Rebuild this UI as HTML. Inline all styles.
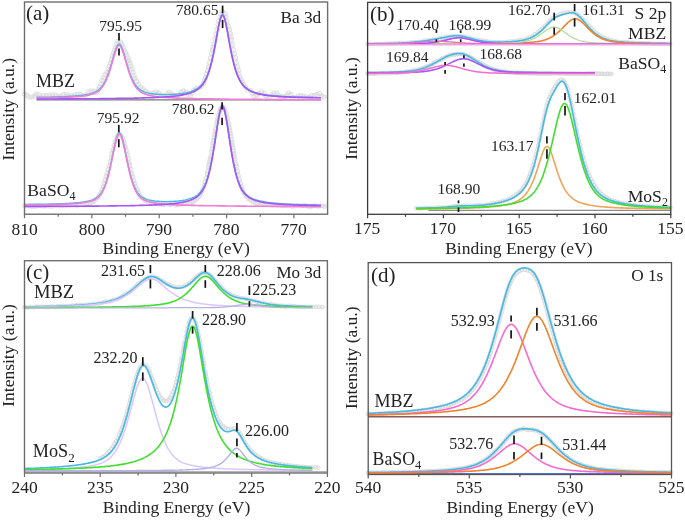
<!DOCTYPE html>
<html><head><meta charset="utf-8"><style>
html,body{margin:0;padding:0;background:#fff;width:685px;height:520px;overflow:hidden}
svg{display:block}
text{font-family:"Liberation Serif", serif}
</style></head><body>
<svg width="685" height="520" viewBox="0 0 685 520">
<defs><filter id="tf" x="-2%" y="-2%" width="104%" height="104%"><feGaussianBlur stdDeviation="0.25"/></filter></defs>
<rect width="685" height="520" fill="#fff"/>
<g fill="none" stroke-linejoin="round">
<path d="M24.5,93.9L25.0,94.2L25.5,94.5L26.0,94.6L26.5,95.0L27.0,95.3L27.5,95.7L28.0,96.7L28.5,97.0L29.0,97.1L29.5,97.6L30.0,97.5L30.5,97.8L31.0,97.8L31.5,97.7L32.0,97.1L32.5,97.0L33.0,96.8L33.5,96.5L34.0,96.3L34.5,96.2L35.0,95.0L35.5,94.2L36.0,94.0L36.5,93.6L37.0,93.6L37.5,93.1L38.0,93.5L38.5,94.1L39.0,94.8L39.5,95.8L40.0,96.4L40.5,96.8L41.0,96.9L41.5,96.0L42.0,96.7L42.5,97.1L43.0,96.1L43.5,95.8L44.0,95.6L44.5,95.5L45.0,95.9L45.5,95.8L46.0,95.6L46.5,95.6L47.0,95.8L47.5,95.9L48.0,96.1L48.5,95.7L49.0,95.7L49.5,95.4L50.0,95.8L50.5,95.2L51.0,95.2L51.5,95.1L52.0,95.0L52.5,94.8L53.0,95.1L53.5,95.0L54.0,95.2L54.5,94.6L55.0,94.8L55.5,95.2L56.0,95.4L56.5,95.7L57.0,95.1L57.5,95.5L58.0,96.3L58.5,96.1L59.0,95.9L59.5,96.0L60.0,95.7L60.5,96.4L61.0,96.1L61.5,95.1L62.0,95.1L62.5,95.1L63.0,95.0L63.5,94.9L64.0,94.0L64.5,93.7L65.0,94.5L65.5,94.8L66.0,94.8L66.5,94.6L67.0,94.8L67.5,95.6L68.0,96.4L68.5,96.3L69.0,96.2L69.5,96.4L70.0,96.8L70.5,96.0L71.0,95.8L71.5,95.5L72.0,94.9L72.5,94.9L73.0,94.6L73.5,94.4L74.0,94.9L74.5,94.9L75.0,95.1L75.5,95.5L76.0,94.9L76.5,94.4L77.0,94.6L77.5,94.5L78.0,94.0L78.5,93.7L79.0,93.6L79.5,94.3L80.0,95.0L80.5,94.7L81.0,94.8L81.5,95.4L82.0,95.3L82.5,95.8L83.0,96.2L83.5,95.8L84.0,95.0L84.5,95.4L85.0,95.9L85.5,95.7L86.0,94.7L86.5,94.0L87.0,93.8L87.5,94.0L88.0,93.1L88.5,92.0L89.0,91.7L89.5,91.8L90.0,91.2L90.5,91.0L91.0,90.9L91.5,90.6L92.0,90.5L92.5,90.3L93.0,90.0L93.5,90.8L94.0,91.3L94.5,91.6L95.0,92.2L95.5,92.1L96.0,92.4L96.5,92.7L97.0,92.0L97.5,91.2L98.0,90.9L98.5,89.8L99.0,88.6L99.5,87.4L100.0,85.9L100.5,85.1L101.0,83.8L101.5,82.3L102.0,80.5L102.5,79.6L103.0,78.9L103.5,77.8L104.0,76.0L104.5,75.4L105.0,74.6L105.5,74.7L106.0,74.5L106.5,73.4L107.0,72.4L107.5,71.7L108.0,70.7L108.5,69.4L109.0,68.1L109.5,66.2L110.0,64.2L110.5,63.1L111.0,61.4L111.5,59.3L112.0,57.7L112.5,56.3L113.0,54.5L113.5,53.3L114.0,50.9L114.5,50.3L115.0,49.4L115.5,47.4L116.0,45.4L116.5,44.2L117.0,42.8L117.5,42.5L118.0,41.0L118.5,41.0L119.0,41.7L119.5,41.2L120.0,41.6L120.5,42.1L121.0,43.1L121.5,44.0L122.0,44.6L122.5,44.8L123.0,47.3L123.5,48.9L124.0,50.1L124.5,50.9L125.0,51.7L125.5,52.6L126.0,53.7L126.5,54.9L127.0,55.1L127.5,56.6L128.0,58.0L128.5,59.3L129.0,60.7L129.5,62.4L130.0,63.2L130.5,64.6L131.0,66.1L131.5,67.5L132.0,69.1L132.5,70.7L133.0,72.3L133.5,74.1L134.0,75.8L134.5,77.2L135.0,78.3L135.5,79.5L136.0,80.1L136.5,81.4L137.0,81.7L137.5,82.4L138.0,83.4L138.5,84.5L139.0,85.1L139.5,85.5L140.0,86.0L140.5,87.0L141.0,87.2L141.5,87.8L142.0,87.8L142.5,88.0L143.0,89.1L143.5,89.3L144.0,89.6L144.5,89.9L145.0,90.6L145.5,91.0L146.0,91.2L146.5,91.7L147.0,92.0L147.5,92.3L148.0,93.0L148.5,92.6L149.0,93.1L149.5,93.6L150.0,93.8L150.5,93.8L151.0,93.5L151.5,93.7L152.0,93.8L152.5,93.6L153.0,93.5L153.5,93.4L154.0,92.8L154.5,92.7L155.0,92.5L155.5,91.8L156.0,91.9L156.5,92.1L157.0,92.2L157.5,92.6L158.0,92.8L158.5,93.1L159.0,92.9L159.5,94.2L160.0,94.3L160.5,94.0L161.0,94.9L161.5,95.3L162.0,94.8L162.5,96.0L163.0,95.4L163.5,95.5L164.0,95.6L164.5,95.4L165.0,94.9L165.5,95.4L166.0,94.9L166.5,94.1L167.0,93.4L167.5,93.1L168.0,92.3L168.5,92.6L169.0,92.3L169.5,92.4L170.0,92.6L170.5,93.2L171.0,93.2L171.5,93.9L172.0,94.5L172.5,94.7L173.0,94.7L173.5,95.1L174.0,95.3L174.5,95.7L175.0,95.8L175.5,95.4L176.0,96.1L176.5,96.4L177.0,96.5L177.5,96.7L178.0,96.6L178.5,96.6L179.0,96.0L179.5,94.7L180.0,94.1L180.5,93.4L181.0,92.1L181.5,91.8L182.0,90.4L182.5,90.9L183.0,91.0L183.5,90.9L184.0,90.8L184.5,91.4L185.0,91.7L185.5,92.3L186.0,92.0L186.5,92.4L187.0,92.9L187.5,93.9L188.0,94.7L188.5,95.0L189.0,95.6L189.5,95.5L190.0,95.6L190.5,95.5L191.0,95.0L191.5,94.6L192.0,93.3L192.5,92.6L193.0,92.1L193.5,91.4L194.0,90.4L194.5,89.5L195.0,88.5L195.5,89.0L196.0,88.6L196.5,88.4L197.0,87.9L197.5,88.4L198.0,88.5L198.5,87.8L199.0,87.7L199.5,87.7L200.0,88.0L200.5,87.8L201.0,87.4L201.5,86.5L202.0,86.6L202.5,85.3L203.0,84.4L203.5,83.4L204.0,82.0L204.5,80.3L205.0,79.1L205.5,77.7L206.0,76.4L206.5,74.0L207.0,72.0L207.5,70.6L208.0,69.4L208.5,66.9L209.0,64.4L209.5,62.6L210.0,60.6L210.5,58.0L211.0,55.9L211.5,53.4L212.0,51.6L212.5,49.8L213.0,47.2L213.5,45.9L214.0,44.0L214.5,41.8L215.0,38.8L215.5,36.6L216.0,34.0L216.5,32.0L217.0,29.3L217.5,26.8L218.0,24.6L218.5,23.0L219.0,21.1L219.5,19.3L220.0,17.3L220.5,15.1L221.0,14.3L221.5,13.2L222.0,12.0L222.5,11.9L223.0,11.4L223.5,11.4L224.0,12.2L224.5,13.4L225.0,13.7L225.5,15.3L226.0,16.7L226.5,18.9L227.0,21.1L227.5,22.8L228.0,23.4L228.5,26.3L229.0,27.9L229.5,29.7L230.0,31.5L230.5,33.8L231.0,36.7L231.5,39.6L232.0,42.0L232.5,44.7L233.0,47.1L233.5,49.7L234.0,51.6L234.5,53.7L235.0,56.2L235.5,57.9L236.0,60.4L236.5,62.3L237.0,64.5L237.5,66.7L238.0,69.0L238.5,70.7L239.0,73.3L239.5,74.9L240.0,76.8L240.5,78.1L241.0,79.7L241.5,80.7L242.0,81.8L242.5,82.0L243.0,82.8L243.5,83.5L244.0,84.8L244.5,85.7L245.0,86.5L245.5,87.4L246.0,88.0L246.5,88.4L247.0,89.2L247.5,89.8L248.0,89.9L248.5,89.8L249.0,90.0L249.5,90.3L250.0,90.5L250.5,90.6L251.0,90.5L251.5,91.4L252.0,92.2L252.5,93.3L253.0,94.6L253.5,95.5L254.0,96.6L254.5,97.2L255.0,96.8L255.5,97.1L256.0,96.7L256.5,96.1L257.0,95.8L257.5,95.1L258.0,94.7L258.5,94.1L259.0,93.6L259.5,92.7L260.0,92.5L260.5,92.4L261.0,92.1L261.5,91.9L262.0,92.3L262.5,92.2L263.0,92.8L263.5,93.2L264.0,93.7L264.5,94.3L265.0,95.5L265.5,95.9L266.0,97.0L266.5,98.0L267.0,98.3L267.5,98.0L268.0,97.8L268.5,97.1L269.0,97.6L269.5,97.2L270.0,96.7L270.5,96.3L271.0,96.3L271.5,95.6L272.0,95.1L272.5,94.3L273.0,93.3L273.5,93.6L274.0,93.0L274.5,92.2L275.0,92.5L275.5,92.8L276.0,92.6L276.5,93.5L277.0,93.3L277.5,94.2L278.0,94.6L278.5,95.2L279.0,95.8L279.5,96.1L280.0,96.0L280.5,96.0L281.0,96.4L281.5,97.0L282.0,97.5L282.5,96.5L283.0,97.1L283.5,97.4L284.0,96.6L284.5,96.6L285.0,97.0L285.5,96.1L286.0,96.2L286.5,96.1L287.0,95.3L287.5,95.0L288.0,94.0L288.5,93.0L289.0,93.2L289.5,93.5L290.0,93.3L290.5,93.6L291.0,94.6L291.5,95.9L292.0,96.8L292.5,97.5L293.0,97.5L293.5,97.9L294.0,98.1L294.5,98.2L295.0,97.6L295.5,97.5L296.0,97.3L296.5,96.8L297.0,96.4L297.5,97.0L298.0,96.3L298.5,96.0L299.0,95.2L299.5,94.4L300.0,95.0L300.5,95.4L301.0,95.2L301.5,95.6L302.0,95.8L302.5,96.2L303.0,96.5L303.5,96.6L304.0,96.6L304.5,96.8L305.0,96.6L305.5,96.8L306.0,96.7L306.5,97.7L307.0,97.5L307.5,96.6L308.0,96.5L308.5,97.3L309.0,97.5L309.5,97.8L310.0,97.2L310.5,96.4L311.0,96.3L311.5,95.6L312.0,94.8L312.5,94.6L313.0,94.4L313.5,94.2L314.0,95.1L314.5,95.5L315.0,95.7L315.5,96.0L316.0,95.6L316.5,94.6L317.0,94.5L317.5,94.3L318.0,93.6L318.5,93.9L319.0,93.7L319.5,93.7L320.0,94.3L320.5,94.6L321.0,94.5L321.5,96.1L322.0,96.3L322.5,95.8L323.0,95.9L323.5,96.5L324.0,97.1L324.5,97.0L325.0,96.3L325.5,95.9" stroke="#efefef" stroke-width="2.5" stroke-linecap="round"/>
<g stroke="#d6d6d6" stroke-width="0.8"><circle cx="24.5" cy="93.9" r="2.2"/><circle cx="27.0" cy="95.3" r="2.2"/><circle cx="29.0" cy="97.1" r="2.2"/><circle cx="32.0" cy="97.1" r="2.2"/><circle cx="34.5" cy="96.2" r="2.2"/><circle cx="36.0" cy="94.0" r="2.2"/><circle cx="39.0" cy="94.8" r="2.2"/><circle cx="41.0" cy="96.9" r="2.2"/><circle cx="43.5" cy="95.8" r="2.2"/><circle cx="46.5" cy="95.6" r="2.2"/><circle cx="49.5" cy="95.4" r="2.2"/><circle cx="52.5" cy="94.8" r="2.2"/><circle cx="55.5" cy="95.2" r="2.2"/><circle cx="58.0" cy="96.3" r="2.2"/><circle cx="61.0" cy="96.1" r="2.2"/><circle cx="63.5" cy="94.9" r="2.2"/><circle cx="66.5" cy="94.6" r="2.2"/><circle cx="68.5" cy="96.3" r="2.2"/><circle cx="71.5" cy="95.5" r="2.2"/><circle cx="74.5" cy="94.9" r="2.2"/><circle cx="77.5" cy="94.5" r="2.2"/><circle cx="80.5" cy="94.7" r="2.2"/><circle cx="83.0" cy="96.2" r="2.2"/><circle cx="86.0" cy="94.7" r="2.2"/><circle cx="88.5" cy="92.0" r="2.2"/><circle cx="91.0" cy="90.9" r="2.2"/><circle cx="94.0" cy="91.3" r="2.2"/><circle cx="96.5" cy="92.7" r="2.2"/><circle cx="98.5" cy="89.8" r="2.2"/><circle cx="99.5" cy="87.4" r="2.2"/><circle cx="101.0" cy="83.8" r="2.2"/><circle cx="102.0" cy="80.5" r="2.2"/><circle cx="103.5" cy="77.8" r="2.2"/><circle cx="105.0" cy="74.6" r="2.2"/><circle cx="107.0" cy="72.4" r="2.2"/><circle cx="108.5" cy="69.4" r="2.2"/><circle cx="109.5" cy="66.2" r="2.2"/><circle cx="110.5" cy="63.1" r="2.2"/><circle cx="111.5" cy="59.3" r="2.2"/><circle cx="112.5" cy="56.3" r="2.2"/><circle cx="113.5" cy="53.3" r="2.2"/><circle cx="114.5" cy="50.3" r="2.2"/><circle cx="115.5" cy="47.4" r="2.2"/><circle cx="116.5" cy="44.2" r="2.2"/><circle cx="118.0" cy="41.0" r="2.2"/><circle cx="120.5" cy="42.1" r="2.2"/><circle cx="122.0" cy="44.6" r="2.2"/><circle cx="123.0" cy="47.3" r="2.2"/><circle cx="124.0" cy="50.1" r="2.2"/><circle cx="125.5" cy="52.6" r="2.2"/><circle cx="127.0" cy="55.1" r="2.2"/><circle cx="128.0" cy="58.0" r="2.2"/><circle cx="129.0" cy="60.7" r="2.2"/><circle cx="130.0" cy="63.2" r="2.2"/><circle cx="131.0" cy="66.1" r="2.2"/><circle cx="132.0" cy="69.1" r="2.2"/><circle cx="133.0" cy="72.3" r="2.2"/><circle cx="134.0" cy="75.8" r="2.2"/><circle cx="135.0" cy="78.3" r="2.2"/><circle cx="136.5" cy="81.4" r="2.2"/><circle cx="138.5" cy="84.5" r="2.2"/><circle cx="140.5" cy="87.0" r="2.2"/><circle cx="143.0" cy="89.1" r="2.2"/><circle cx="145.5" cy="91.0" r="2.2"/><circle cx="148.0" cy="93.0" r="2.2"/><circle cx="150.5" cy="93.8" r="2.2"/><circle cx="153.5" cy="93.4" r="2.2"/><circle cx="156.0" cy="91.9" r="2.2"/><circle cx="158.5" cy="93.1" r="2.2"/><circle cx="161.0" cy="94.9" r="2.2"/><circle cx="164.0" cy="95.6" r="2.2"/><circle cx="166.5" cy="94.1" r="2.2"/><circle cx="169.0" cy="92.3" r="2.2"/><circle cx="171.5" cy="93.9" r="2.2"/><circle cx="174.0" cy="95.3" r="2.2"/><circle cx="176.5" cy="96.4" r="2.2"/><circle cx="179.5" cy="94.7" r="2.2"/><circle cx="181.0" cy="92.1" r="2.2"/><circle cx="183.5" cy="90.9" r="2.2"/><circle cx="186.0" cy="92.0" r="2.2"/><circle cx="188.0" cy="94.7" r="2.2"/><circle cx="190.5" cy="95.5" r="2.2"/><circle cx="192.0" cy="93.3" r="2.2"/><circle cx="194.0" cy="90.4" r="2.2"/><circle cx="196.0" cy="88.6" r="2.2"/><circle cx="198.5" cy="87.8" r="2.2"/><circle cx="201.5" cy="86.5" r="2.2"/><circle cx="203.5" cy="83.4" r="2.2"/><circle cx="204.5" cy="80.3" r="2.2"/><circle cx="205.5" cy="77.7" r="2.2"/><circle cx="206.5" cy="74.0" r="2.2"/><circle cx="207.5" cy="70.6" r="2.2"/><circle cx="208.5" cy="66.9" r="2.2"/><circle cx="209.5" cy="62.6" r="2.2"/><circle cx="210.5" cy="58.0" r="2.2"/><circle cx="211.5" cy="53.4" r="2.2"/><circle cx="212.5" cy="49.8" r="2.2"/><circle cx="213.0" cy="47.2" r="2.2"/><circle cx="214.0" cy="44.0" r="2.2"/><circle cx="215.0" cy="38.8" r="2.2"/><circle cx="216.0" cy="34.0" r="2.2"/><circle cx="217.0" cy="29.3" r="2.2"/><circle cx="218.0" cy="24.6" r="2.2"/><circle cx="219.0" cy="21.1" r="2.2"/><circle cx="220.0" cy="17.3" r="2.2"/><circle cx="221.0" cy="14.3" r="2.2"/><circle cx="222.5" cy="11.9" r="2.2"/><circle cx="225.0" cy="13.7" r="2.2"/><circle cx="226.0" cy="16.7" r="2.2"/><circle cx="227.0" cy="21.1" r="2.2"/><circle cx="228.5" cy="26.3" r="2.2"/><circle cx="229.5" cy="29.7" r="2.2"/><circle cx="230.5" cy="33.8" r="2.2"/><circle cx="231.0" cy="36.7" r="2.2"/><circle cx="231.5" cy="39.6" r="2.2"/><circle cx="232.5" cy="44.7" r="2.2"/><circle cx="233.5" cy="49.7" r="2.2"/><circle cx="234.5" cy="53.7" r="2.2"/><circle cx="235.5" cy="57.9" r="2.2"/><circle cx="236.5" cy="62.3" r="2.2"/><circle cx="237.5" cy="66.7" r="2.2"/><circle cx="238.5" cy="70.7" r="2.2"/><circle cx="239.0" cy="73.3" r="2.2"/><circle cx="240.0" cy="76.8" r="2.2"/><circle cx="241.0" cy="79.7" r="2.2"/><circle cx="242.5" cy="82.0" r="2.2"/><circle cx="244.0" cy="84.8" r="2.2"/><circle cx="245.5" cy="87.4" r="2.2"/><circle cx="247.5" cy="89.8" r="2.2"/><circle cx="250.5" cy="90.6" r="2.2"/><circle cx="252.5" cy="93.3" r="2.2"/><circle cx="254.0" cy="96.6" r="2.2"/><circle cx="257.0" cy="95.8" r="2.2"/><circle cx="259.0" cy="93.6" r="2.2"/><circle cx="261.5" cy="91.9" r="2.2"/><circle cx="264.0" cy="93.7" r="2.2"/><circle cx="265.5" cy="95.9" r="2.2"/><circle cx="267.0" cy="98.3" r="2.2"/><circle cx="269.5" cy="97.2" r="2.2"/><circle cx="272.0" cy="95.1" r="2.2"/><circle cx="274.0" cy="93.0" r="2.2"/><circle cx="277.0" cy="93.3" r="2.2"/><circle cx="279.0" cy="95.8" r="2.2"/><circle cx="281.5" cy="97.0" r="2.2"/><circle cx="284.5" cy="96.6" r="2.2"/><circle cx="287.0" cy="95.3" r="2.2"/><circle cx="288.5" cy="93.0" r="2.2"/><circle cx="291.0" cy="94.6" r="2.2"/><circle cx="292.5" cy="97.5" r="2.2"/><circle cx="295.5" cy="97.5" r="2.2"/><circle cx="298.0" cy="96.3" r="2.2"/><circle cx="300.5" cy="95.4" r="2.2"/><circle cx="303.0" cy="96.5" r="2.2"/><circle cx="306.0" cy="96.7" r="2.2"/><circle cx="309.0" cy="97.5" r="2.2"/><circle cx="311.5" cy="95.6" r="2.2"/><circle cx="314.5" cy="95.5" r="2.2"/><circle cx="317.0" cy="94.5" r="2.2"/><circle cx="319.5" cy="93.7" r="2.2"/><circle cx="321.5" cy="96.1" r="2.2"/><circle cx="324.0" cy="97.1" r="2.2"/></g>
<line x1="36.6" y1="99.9" x2="320.9" y2="99.9" stroke="#555" stroke-width="1.0" />
<path d="M36.6,97.3L37.6,97.3L38.6,97.3L39.6,97.3L40.6,97.2L41.6,97.2L42.6,97.2L43.6,97.2L44.6,97.2L45.6,97.2L46.6,97.1L47.6,97.1L48.6,97.1L49.6,97.1L50.6,97.1L51.6,97.0L52.6,97.0L53.6,97.0L54.6,97.0L55.6,96.9L56.6,96.9L57.6,96.9L58.6,96.8L59.6,96.8L60.6,96.8L61.6,96.7L62.6,96.7L63.6,96.6L64.6,96.6L65.6,96.6L66.6,96.5L67.6,96.5L68.6,96.4L69.6,96.3L70.6,96.3L71.6,96.2L72.6,96.2L73.6,96.1L74.6,96.0L75.6,95.9L76.6,95.8L77.6,95.8L78.6,95.7L79.6,95.6L80.6,95.4L81.6,95.3L82.6,95.2L83.6,95.1L84.6,94.9L85.6,94.7L86.6,94.6L87.6,94.4L88.6,94.2L89.6,93.9L90.6,93.7L91.6,93.4L92.6,93.0L93.6,92.7L94.6,92.2L95.6,91.8L96.6,91.2L97.6,90.6L98.6,89.8L99.6,89.0L100.6,88.0L101.6,86.8L102.6,85.5L103.6,84.0L104.6,82.2L105.6,80.2L106.6,78.0L107.6,75.5L108.6,72.8L109.6,69.8L110.6,66.5L111.6,63.1L112.6,59.6L113.6,56.1L114.6,52.7L115.6,49.6L116.6,47.0L117.6,45.1L118.6,44.1L119.6,44.1L120.6,45.1L121.6,46.9L122.6,49.5L123.6,52.5L124.6,55.9L125.6,59.4L126.6,62.9L127.6,66.3L128.6,69.5L129.6,72.5L130.6,75.2L131.6,77.7L132.6,79.9L133.6,81.9L134.6,83.6L135.6,85.1L136.6,86.4L137.6,87.5L138.6,88.5L139.6,89.3L140.6,90.1L141.6,90.7L142.6,91.2L143.6,91.7L144.6,92.1L145.6,92.4L146.6,92.7L147.6,92.9L148.6,93.2L149.6,93.4L150.6,93.6L151.6,93.7L152.6,93.8L153.6,94.0L154.6,94.1L155.6,94.2L156.6,94.3L157.6,94.3L158.6,94.4L159.6,94.5L160.6,94.5L161.6,94.5L162.6,94.6L163.6,94.6L164.6,94.6L165.6,94.6L166.6,94.6L167.6,94.6L168.6,94.6L169.6,94.5L170.6,94.5L171.6,94.5L172.6,94.4L173.6,94.4L174.6,94.3L175.6,94.2L176.6,94.1L177.6,94.0L178.6,93.9L179.6,93.8L180.6,93.7L181.6,93.6L182.6,93.4L183.6,93.3L184.6,93.1L185.6,92.9L186.6,92.7L187.6,92.4L188.6,92.2L189.6,91.9L190.6,91.6L191.6,91.2L192.6,90.9L193.6,90.5L194.6,90.0L195.6,89.5L196.6,88.9L197.6,88.3L198.6,87.6L199.6,86.8L200.6,85.8L201.6,84.8L202.6,83.6L203.6,82.2L204.6,80.7L205.6,78.9L206.6,76.8L207.6,74.5L208.6,71.8L209.6,68.8L210.6,65.4L211.6,61.6L212.6,57.3L213.6,52.6L214.6,47.6L215.6,42.2L216.6,36.6L217.6,31.0L218.6,25.7L219.6,21.1L220.6,17.4L221.6,15.1L222.6,14.4L223.6,15.5L224.6,18.1L225.6,22.0L226.6,26.8L227.6,32.2L228.6,37.8L229.6,43.4L230.6,48.7L231.6,53.7L232.6,58.3L233.6,62.5L234.6,66.3L235.6,69.6L236.6,72.6L237.6,75.2L238.6,77.5L239.6,79.5L240.6,81.3L241.6,82.8L242.6,84.2L243.6,85.4L244.6,86.4L245.6,87.3L246.6,88.1L247.6,88.9L248.6,89.5L249.6,90.1L250.6,90.6L251.6,91.1L252.6,91.5L253.6,91.9L254.6,92.2L255.6,92.6L256.6,92.9L257.6,93.1L258.6,93.4L259.6,93.6L260.6,93.9L261.6,94.1L262.6,94.3L263.6,94.4L264.6,94.6L265.6,94.8L266.6,94.9L267.6,95.1L268.6,95.2L269.6,95.3L270.6,95.4L271.6,95.5L272.6,95.6L273.6,95.7L274.6,95.8L275.6,95.9L276.6,96.0L277.6,96.1L278.6,96.2L279.6,96.2L280.6,96.3L281.6,96.4L282.6,96.4L283.6,96.5L284.6,96.5L285.6,96.6L286.6,96.6L287.6,96.7L288.6,96.7L289.6,96.8L290.6,96.8L291.6,96.9L292.6,96.9L293.6,97.0L294.6,97.0L295.6,97.0L296.6,97.1L297.6,97.1L298.6,97.1L299.6,97.2L300.6,97.2L301.6,97.2L302.6,97.2L303.6,97.3L304.6,97.3L305.6,97.3L306.6,97.3L307.6,97.4L308.6,97.4L309.6,97.4L310.6,97.4L311.6,97.5L312.6,97.5L313.6,97.5L314.6,97.5L315.6,97.5L316.6,97.6L317.6,97.6L318.6,97.6L319.6,97.6L320.6,97.6L320.9,97.6" stroke="#47b9e6" stroke-width="1.4"/>
<path d="M36.6,97.8L37.6,97.8L38.6,97.8L39.6,97.8L40.6,97.8L41.6,97.8L42.6,97.8L43.6,97.8L44.6,97.8L45.6,97.8L46.6,97.7L47.6,97.7L48.6,97.7L49.6,97.7L50.6,97.7L51.6,97.7L52.6,97.7L53.6,97.6L54.6,97.6L55.6,97.6L56.6,97.6L57.6,97.5L58.6,97.5L59.6,97.5L60.6,97.5L61.6,97.4L62.6,97.4L63.6,97.4L64.6,97.3L65.6,97.3L66.6,97.3L67.6,97.2L68.6,97.2L69.6,97.1L70.6,97.1L71.6,97.0L72.6,97.0L73.6,96.9L74.6,96.8L75.6,96.8L76.6,96.7L77.6,96.6L78.6,96.5L79.6,96.4L80.6,96.3L81.6,96.2L82.6,96.1L83.6,95.9L84.6,95.8L85.6,95.6L86.6,95.5L87.6,95.3L88.6,95.1L89.6,94.9L90.6,94.6L91.6,94.3L92.6,94.0L93.6,93.7L94.6,93.2L95.6,92.8L96.6,92.2L97.6,91.6L98.6,90.9L99.6,90.0L100.6,89.0L101.6,87.9L102.6,86.6L103.6,85.1L104.6,83.3L105.6,81.4L106.6,79.1L107.6,76.7L108.6,73.9L109.6,70.9L110.6,67.7L111.6,64.3L112.6,60.8L113.6,57.3L114.6,53.9L115.6,50.9L116.6,48.3L117.6,46.4L118.6,45.5L119.6,45.5L120.6,46.4L121.6,48.3L122.6,50.8L123.6,53.9L124.6,57.3L125.6,60.8L126.6,64.3L127.6,67.7L128.6,71.0L129.6,74.0L130.6,76.7L131.6,79.2L132.6,81.5L133.6,83.4L134.6,85.2L135.6,86.7L136.6,88.1L137.6,89.2L138.6,90.2L139.6,91.1L140.6,91.8L141.6,92.5L142.6,93.0L143.6,93.5L144.6,93.9L145.6,94.3L146.6,94.6L147.6,94.9L148.6,95.2L149.6,95.4L150.6,95.6L151.6,95.8L152.6,96.0L153.6,96.2L154.6,96.3L155.6,96.5L156.6,96.6L157.6,96.7L158.6,96.9L159.6,97.0L160.6,97.1L161.6,97.2L162.6,97.2L163.6,97.3L164.6,97.4L165.6,97.5L166.6,97.5L167.6,97.6L168.6,97.7L169.6,97.7L170.6,97.8L171.6,97.8L172.6,97.9L173.6,97.9L174.6,98.0L175.6,98.0L176.6,98.1L177.6,98.1L178.6,98.2L179.6,98.2L180.6,98.2L181.6,98.3L182.6,98.3L183.6,98.3L184.6,98.4L185.6,98.4L186.6,98.4L187.6,98.5L188.6,98.5L189.6,98.5L190.6,98.5L191.6,98.6L192.6,98.6L193.6,98.6L194.6,98.6L195.6,98.6L196.6,98.7L197.6,98.7L198.6,98.7L199.6,98.7L200.6,98.7L201.6,98.8L202.6,98.8L203.6,98.8L204.6,98.8L205.6,98.8L206.6,98.9L207.6,98.9L208.6,98.9L209.6,98.9L210.6,98.9L211.6,98.9L212.6,98.9L213.6,99.0L214.6,99.0L215.6,99.0L216.6,99.0L217.6,99.0L218.6,99.0L219.6,99.0L220.6,99.0L221.6,99.1L222.6,99.1L223.6,99.1L224.6,99.1L225.6,99.1L226.6,99.1L227.6,99.1L228.6,99.1L229.6,99.2L230.6,99.2L231.6,99.2L232.6,99.2L233.6,99.2L234.6,99.2L235.6,99.2L236.6,99.2L237.6,99.2L238.6,99.2L239.6,99.3L240.6,99.3L241.6,99.3L242.6,99.3L243.6,99.3L244.6,99.3L245.6,99.3L246.6,99.3L247.6,99.3L248.6,99.3L249.6,99.3L250.6,99.4L251.6,99.4L252.6,99.4L253.6,99.4L254.6,99.4L255.6,99.4L256.6,99.4L257.6,99.4L258.6,99.4L259.6,99.4L260.6,99.4L261.6,99.5L262.6,99.5L263.6,99.5L264.6,99.5L265.6,99.5L266.6,99.5L267.6,99.5L268.6,99.5L269.6,99.5L270.6,99.5L271.6,99.5L272.6,99.5L273.6,99.5L274.6,99.6L275.6,99.6L276.6,99.6L277.6,99.6L278.6,99.6L279.6,99.6L280.6,99.6L281.6,99.6L282.6,99.6L283.6,99.6L284.6,99.6L285.6,99.6L286.6,99.6L287.6,99.6L288.6,99.7L289.6,99.7L290.6,99.7L291.6,99.7L292.6,99.7L293.6,99.7L294.6,99.7L295.6,99.7L296.6,99.7L297.6,99.7L298.6,99.7L299.6,99.7L300.6,99.7L301.6,99.7L302.6,99.8L303.6,99.8L304.6,99.8L305.6,99.8L306.6,99.8L307.6,99.8L308.6,99.8L309.6,99.8L310.6,99.8L311.6,99.8L312.6,99.8L313.6,99.8L314.6,99.8L315.6,99.8L316.6,99.8L317.6,99.9L318.6,99.9L319.6,99.9L320.6,99.9L320.9,99.9" stroke="#f07ed6" stroke-width="1.6"/>
<path d="M36.6,99.1L37.6,99.1L38.6,99.1L39.6,99.1L40.6,99.1L41.6,99.0L42.6,99.0L43.6,99.0L44.6,99.0L45.6,99.0L46.6,99.0L47.6,99.0L48.6,99.0L49.6,99.0L50.6,99.0L51.6,99.0L52.6,99.0L53.6,99.0L54.6,99.0L55.6,99.0L56.6,99.0L57.6,99.0L58.6,99.0L59.6,98.9L60.6,98.9L61.6,98.9L62.6,98.9L63.6,98.9L64.6,98.9L65.6,98.9L66.6,98.9L67.6,98.9L68.6,98.9L69.6,98.9L70.6,98.9L71.6,98.9L72.6,98.9L73.6,98.9L74.6,98.9L75.6,98.8L76.6,98.8L77.6,98.8L78.6,98.8L79.6,98.8L80.6,98.8L81.6,98.8L82.6,98.8L83.6,98.8L84.6,98.8L85.6,98.8L86.6,98.8L87.6,98.8L88.6,98.7L89.6,98.7L90.6,98.7L91.6,98.7L92.6,98.7L93.6,98.7L94.6,98.7L95.6,98.7L96.6,98.7L97.6,98.7L98.6,98.7L99.6,98.6L100.6,98.6L101.6,98.6L102.6,98.6L103.6,98.6L104.6,98.6L105.6,98.6L106.6,98.6L107.6,98.6L108.6,98.5L109.6,98.5L110.6,98.5L111.6,98.5L112.6,98.5L113.6,98.5L114.6,98.5L115.6,98.5L116.6,98.4L117.6,98.4L118.6,98.4L119.6,98.4L120.6,98.4L121.6,98.4L122.6,98.4L123.6,98.3L124.6,98.3L125.6,98.3L126.6,98.3L127.6,98.3L128.6,98.3L129.6,98.2L130.6,98.2L131.6,98.2L132.6,98.2L133.6,98.2L134.6,98.1L135.6,98.1L136.6,98.1L137.6,98.1L138.6,98.0L139.6,98.0L140.6,98.0L141.6,98.0L142.6,97.9L143.6,97.9L144.6,97.9L145.6,97.8L146.6,97.8L147.6,97.8L148.6,97.7L149.6,97.7L150.6,97.7L151.6,97.6L152.6,97.6L153.6,97.6L154.6,97.5L155.6,97.5L156.6,97.4L157.6,97.4L158.6,97.3L159.6,97.3L160.6,97.2L161.6,97.2L162.6,97.1L163.6,97.0L164.6,97.0L165.6,96.9L166.6,96.8L167.6,96.8L168.6,96.7L169.6,96.6L170.6,96.5L171.6,96.4L172.6,96.3L173.6,96.2L174.6,96.1L175.6,96.0L176.6,95.9L177.6,95.7L178.6,95.6L179.6,95.4L180.6,95.3L181.6,95.1L182.6,94.9L183.6,94.7L184.6,94.5L185.6,94.3L186.6,94.1L187.6,93.8L188.6,93.5L189.6,93.2L190.6,92.9L191.6,92.5L192.6,92.1L193.6,91.7L194.6,91.2L195.6,90.7L196.6,90.1L197.6,89.4L198.6,88.7L199.6,87.9L200.6,86.9L201.6,85.9L202.6,84.7L203.6,83.3L204.6,81.7L205.6,79.9L206.6,77.8L207.6,75.5L208.6,72.8L209.6,69.7L210.6,66.3L211.6,62.5L212.6,58.2L213.6,53.5L214.6,48.5L215.6,43.1L216.6,37.5L217.6,31.9L218.6,26.6L219.6,21.9L220.6,18.2L221.6,15.9L222.6,15.2L223.6,16.2L224.6,18.8L225.6,22.7L226.6,27.6L227.6,32.9L228.6,38.5L229.6,44.1L230.6,49.4L231.6,54.4L232.6,59.0L233.6,63.2L234.6,66.9L235.6,70.3L236.6,73.2L237.6,75.9L238.6,78.1L239.6,80.2L240.6,81.9L241.6,83.4L242.6,84.8L243.6,86.0L244.6,87.0L245.6,87.9L246.6,88.7L247.6,89.4L248.6,90.0L249.6,90.6L250.6,91.1L251.6,91.6L252.6,92.0L253.6,92.4L254.6,92.7L255.6,93.1L256.6,93.4L257.6,93.6L258.6,93.9L259.6,94.1L260.6,94.3L261.6,94.5L262.6,94.7L263.6,94.9L264.6,95.1L265.6,95.2L266.6,95.3L267.6,95.5L268.6,95.6L269.6,95.7L270.6,95.8L271.6,95.9L272.6,96.0L273.6,96.1L274.6,96.2L275.6,96.3L276.6,96.4L277.6,96.4L278.6,96.5L279.6,96.6L280.6,96.6L281.6,96.7L282.6,96.8L283.6,96.8L284.6,96.9L285.6,96.9L286.6,97.0L287.6,97.0L288.6,97.0L289.6,97.1L290.6,97.1L291.6,97.2L292.6,97.2L293.6,97.2L294.6,97.3L295.6,97.3L296.6,97.3L297.6,97.3L298.6,97.4L299.6,97.4L300.6,97.4L301.6,97.4L302.6,97.5L303.6,97.5L304.6,97.5L305.6,97.5L306.6,97.5L307.6,97.6L308.6,97.6L309.6,97.6L310.6,97.6L311.6,97.6L312.6,97.6L313.6,97.7L314.6,97.7L315.6,97.7L316.6,97.7L317.6,97.7L318.6,97.7L319.6,97.7L320.6,97.7L320.9,97.7" stroke="#a854f6" stroke-width="1.6"/>
<path d="M24.5,205.6L25.0,205.8L25.5,205.9L26.0,205.8L26.5,205.8L27.0,206.0L27.5,206.0L28.0,206.5L28.5,206.2L29.0,206.1L29.5,206.1L30.0,206.2L30.5,206.2L31.0,206.4L31.5,206.3L32.0,206.4L32.5,206.3L33.0,206.6L33.5,206.5L34.0,206.5L34.5,206.5L35.0,206.4L35.5,206.4L36.0,206.7L36.5,206.3L37.0,206.0L37.5,205.7L38.0,205.7L38.5,205.8L39.0,205.8L39.5,205.6L40.0,205.8L40.5,206.1L41.0,206.3L41.5,206.3L42.0,206.2L42.5,206.1L43.0,206.1L43.5,206.3L44.0,206.2L44.5,206.1L45.0,206.0L45.5,206.2L46.0,206.3L46.5,206.4L47.0,205.9L47.5,206.1L48.0,206.4L48.5,206.2L49.0,206.1L49.5,206.2L50.0,206.0L50.5,206.3L51.0,206.5L51.5,206.3L52.0,206.5L52.5,206.3L53.0,206.3L53.5,206.2L54.0,206.1L54.5,205.8L55.0,205.8L55.5,205.7L56.0,205.6L56.5,205.2L57.0,205.4L57.5,205.5L58.0,205.7L58.5,205.6L59.0,205.6L59.5,205.9L60.0,206.2L60.5,205.9L61.0,205.7L61.5,205.7L62.0,205.7L62.5,205.9L63.0,205.7L63.5,205.6L64.0,205.9L64.5,205.9L65.0,205.6L65.5,205.5L66.0,205.3L66.5,205.3L67.0,205.6L67.5,205.3L68.0,205.5L68.5,205.5L69.0,205.6L69.5,205.6L70.0,205.5L70.5,205.4L71.0,205.5L71.5,205.2L72.0,205.2L72.5,205.1L73.0,204.9L73.5,204.9L74.0,204.9L74.5,205.0L75.0,205.2L75.5,205.5L76.0,205.6L76.5,205.7L77.0,205.9L77.5,205.6L78.0,205.6L78.5,205.3L79.0,205.0L79.5,204.6L80.0,204.8L80.5,204.5L81.0,204.5L81.5,204.6L82.0,204.8L82.5,204.8L83.0,204.9L83.5,204.8L84.0,204.8L84.5,205.0L85.0,204.9L85.5,204.6L86.0,204.5L86.5,204.4L87.0,204.1L87.5,203.9L88.0,203.7L88.5,203.5L89.0,203.5L89.5,203.2L90.0,203.1L90.5,203.0L91.0,203.1L91.5,202.8L92.0,202.5L92.5,202.0L93.0,201.7L93.5,201.3L94.0,201.1L94.5,200.5L95.0,200.0L95.5,199.6L96.0,199.2L96.5,199.1L97.0,198.6L97.5,198.2L98.0,197.3L98.5,196.9L99.0,195.9L99.5,195.1L100.0,193.9L100.5,192.9L101.0,191.7L101.5,190.7L102.0,189.5L102.5,188.2L103.0,186.7L103.5,185.1L104.0,183.5L104.5,181.6L105.0,179.9L105.5,178.1L106.0,176.3L106.5,174.8L107.0,173.2L107.5,171.4L108.0,169.6L108.5,167.6L109.0,165.7L109.5,163.7L110.0,161.7L110.5,159.6L111.0,157.3L111.5,155.4L112.0,153.1L112.5,151.2L113.0,149.5L113.5,147.2L114.0,145.2L114.5,143.6L115.0,141.9L115.5,140.7L116.0,139.2L116.5,137.7L117.0,136.8L117.5,135.8L118.0,135.0L118.5,134.7L119.0,134.1L119.5,133.8L120.0,134.0L120.5,134.5L121.0,135.4L121.5,135.9L122.0,136.9L122.5,137.8L123.0,139.2L123.5,140.4L124.0,141.8L124.5,143.3L125.0,145.3L125.5,147.0L126.0,148.9L126.5,150.5L127.0,152.5L127.5,154.6L128.0,156.7L128.5,158.6L129.0,160.6L129.5,163.0L130.0,165.3L130.5,167.4L131.0,169.1L131.5,171.2L132.0,173.3L132.5,175.1L133.0,177.1L133.5,178.9L134.0,180.6L134.5,182.1L135.0,183.6L135.5,185.0L136.0,186.6L136.5,187.4L137.0,188.7L137.5,189.9L138.0,191.2L138.5,192.6L139.0,193.8L139.5,194.9L140.0,195.9L140.5,196.7L141.0,197.2L141.5,197.9L142.0,198.0L142.5,198.2L143.0,198.4L143.5,199.0L144.0,199.3L144.5,200.0L145.0,200.5L145.5,200.8L146.0,201.1L146.5,201.4L147.0,201.6L147.5,201.9L148.0,202.1L148.5,202.3L149.0,202.4L149.5,202.7L150.0,203.0L150.5,203.0L151.0,203.3L151.5,203.5L152.0,203.5L152.5,203.6L153.0,203.7L153.5,203.7L154.0,204.0L154.5,203.6L155.0,203.4L155.5,203.4L156.0,203.5L156.5,203.3L157.0,203.3L157.5,203.1L158.0,203.2L158.5,203.2L159.0,203.4L159.5,203.7L160.0,204.0L160.5,204.2L161.0,204.5L161.5,204.6L162.0,204.9L162.5,205.0L163.0,204.7L163.5,204.8L164.0,204.9L164.5,204.5L165.0,204.6L165.5,204.3L166.0,204.0L166.5,204.0L167.0,203.7L167.5,203.6L168.0,204.0L168.5,204.3L169.0,204.3L169.5,204.6L170.0,204.7L170.5,204.8L171.0,204.5L171.5,204.2L172.0,203.7L172.5,203.9L173.0,204.0L173.5,204.1L174.0,204.2L174.5,204.3L175.0,204.8L175.5,205.1L176.0,205.0L176.5,204.9L177.0,204.7L177.5,204.9L178.0,205.0L178.5,204.8L179.0,204.6L179.5,204.7L180.0,204.6L180.5,204.4L181.0,203.9L181.5,203.5L182.0,203.5L182.5,203.6L183.0,203.2L183.5,203.1L184.0,203.2L184.5,203.2L185.0,203.4L185.5,203.1L186.0,203.0L186.5,203.1L187.0,203.1L187.5,203.1L188.0,203.2L188.5,202.9L189.0,203.0L189.5,202.9L190.0,202.9L190.5,202.8L191.0,202.4L191.5,202.3L192.0,202.5L192.5,202.3L193.0,202.1L193.5,201.8L194.0,201.3L194.5,200.8L195.0,200.5L195.5,200.0L196.0,199.6L196.5,198.9L197.0,198.6L197.5,198.3L198.0,197.9L198.5,197.1L199.0,196.6L199.5,195.6L200.0,194.9L200.5,194.0L201.0,193.1L201.5,192.1L202.0,191.1L202.5,189.6L203.0,188.5L203.5,186.9L204.0,185.3L204.5,183.5L205.0,181.9L205.5,180.2L206.0,178.3L206.5,176.4L207.0,174.1L207.5,171.6L208.0,169.4L208.5,166.9L209.0,164.4L209.5,161.8L210.0,159.1L210.5,156.7L211.0,154.4L211.5,151.6L212.0,148.9L212.5,145.9L213.0,143.3L213.5,140.4L214.0,137.6L214.5,134.5L215.0,131.7L215.5,129.0L216.0,126.7L216.5,124.2L217.0,121.8L217.5,119.3L218.0,117.4L218.5,115.5L219.0,113.8L219.5,111.9L220.0,110.3L220.5,109.0L221.0,107.9L221.5,106.8L222.0,106.5L222.5,106.2L223.0,106.0L223.5,106.7L224.0,107.4L224.5,108.3L225.0,109.7L225.5,110.9L226.0,112.3L226.5,114.0L227.0,115.8L227.5,117.9L228.0,120.0L228.5,122.5L229.0,125.2L229.5,127.9L230.0,130.9L230.5,133.6L231.0,136.3L231.5,139.5L232.0,142.4L232.5,145.0L233.0,147.9L233.5,150.8L234.0,153.5L234.5,156.2L235.0,158.7L235.5,161.0L236.0,163.7L236.5,166.2L237.0,168.4L237.5,171.2L238.0,173.3L238.5,175.6L239.0,177.7L239.5,179.6L240.0,181.6L240.5,183.4L241.0,184.9L241.5,186.6L242.0,188.0L242.5,189.5L243.0,190.8L243.5,192.2L244.0,193.3L244.5,194.0L245.0,194.5L245.5,195.4L246.0,195.9L246.5,196.6L247.0,196.7L247.5,197.2L248.0,197.8L248.5,198.7L249.0,199.0L249.5,199.4L250.0,199.8L250.5,200.1L251.0,200.3L251.5,200.5L252.0,200.8L252.5,201.2L253.0,201.5L253.5,202.0L254.0,202.5L254.5,202.9L255.0,203.3L255.5,203.3L256.0,203.6L256.5,203.9L257.0,204.0L257.5,203.9L258.0,204.2L258.5,204.2L259.0,204.8L259.5,204.6L260.0,204.7L260.5,204.6L261.0,204.8L261.5,204.7L262.0,204.5L262.5,204.1L263.0,204.2L263.5,204.1L264.0,204.3L264.5,204.4L265.0,204.5L265.5,204.7L266.0,204.8L266.5,204.8L267.0,204.8L267.5,204.8L268.0,204.9L268.5,204.8L269.0,204.7L269.5,205.0L270.0,205.1L270.5,205.1L271.0,205.2L271.5,205.1L272.0,204.9L272.5,204.8L273.0,204.7L273.5,204.7L274.0,204.7L274.5,204.6L275.0,204.6L275.5,204.8L276.0,205.0L276.5,205.1L277.0,205.1L277.5,205.3L278.0,205.3L278.5,205.1L279.0,205.1L279.5,205.2L280.0,205.2L280.5,205.2L281.0,205.1L281.5,205.5L282.0,205.7L282.5,205.9L283.0,205.8L283.5,205.7L284.0,205.8L284.5,206.0L285.0,205.5L285.5,205.6L286.0,205.6L286.5,205.6L287.0,205.7L287.5,205.5L288.0,205.5L288.5,205.6L289.0,205.2L289.5,205.3L290.0,205.5L290.5,205.7L291.0,206.0L291.5,205.9L292.0,206.0L292.5,206.4L293.0,206.3L293.5,206.3L294.0,206.1L294.5,206.0L295.0,206.0L295.5,205.9L296.0,205.6L296.5,205.5L297.0,205.4L297.5,205.4L298.0,205.4L298.5,205.5L299.0,205.8L299.5,206.1L300.0,205.9L300.5,206.0L301.0,206.0L301.5,206.0L302.0,205.9L302.5,205.6L303.0,205.5L303.5,205.6L304.0,205.3L304.5,205.3L305.0,205.3L305.5,205.6L306.0,205.6L306.5,205.7L307.0,205.9L307.5,206.2L308.0,206.5L308.5,206.6L309.0,206.5L309.5,206.7L310.0,207.0L310.5,206.8L311.0,206.8L311.5,206.4L312.0,206.2L312.5,206.1L313.0,205.9L313.5,205.6L314.0,205.6L314.5,205.6L315.0,205.8L315.5,205.9L316.0,205.9L316.5,205.8L317.0,206.0L317.5,206.2L318.0,206.2L318.5,206.2L319.0,206.0L319.5,205.9L320.0,206.1L320.5,206.2L321.0,205.9L321.5,205.9L322.0,206.0L322.5,206.0L323.0,206.3L323.5,206.5L324.0,206.2L324.5,206.4L325.0,206.5L325.5,206.2" stroke="#efefef" stroke-width="3.2" stroke-linecap="round"/>
<g stroke="#d6d6d6" stroke-width="0.8"><circle cx="24.5" cy="205.6" r="2.0"/><circle cx="27.0" cy="206.0" r="2.0"/><circle cx="29.5" cy="206.1" r="2.0"/><circle cx="32.0" cy="206.4" r="2.0"/><circle cx="34.5" cy="206.5" r="2.0"/><circle cx="37.0" cy="206.0" r="2.0"/><circle cx="39.5" cy="205.6" r="2.0"/><circle cx="42.0" cy="206.2" r="2.0"/><circle cx="44.5" cy="206.1" r="2.0"/><circle cx="47.0" cy="205.9" r="2.0"/><circle cx="49.5" cy="206.2" r="2.0"/><circle cx="52.0" cy="206.5" r="2.0"/><circle cx="54.5" cy="205.8" r="2.0"/><circle cx="57.0" cy="205.4" r="2.0"/><circle cx="59.5" cy="205.9" r="2.0"/><circle cx="62.0" cy="205.7" r="2.0"/><circle cx="64.5" cy="205.9" r="2.0"/><circle cx="67.0" cy="205.6" r="2.0"/><circle cx="69.5" cy="205.6" r="2.0"/><circle cx="72.0" cy="205.2" r="2.0"/><circle cx="74.5" cy="205.0" r="2.0"/><circle cx="77.0" cy="205.9" r="2.0"/><circle cx="79.5" cy="204.6" r="2.0"/><circle cx="82.0" cy="204.8" r="2.0"/><circle cx="84.5" cy="205.0" r="2.0"/><circle cx="87.0" cy="204.1" r="2.0"/><circle cx="89.5" cy="203.2" r="2.0"/><circle cx="92.0" cy="202.5" r="2.0"/><circle cx="94.0" cy="201.1" r="2.0"/><circle cx="96.0" cy="199.2" r="2.0"/><circle cx="98.0" cy="197.3" r="2.0"/><circle cx="99.5" cy="195.1" r="2.0"/><circle cx="100.5" cy="192.9" r="2.0"/><circle cx="102.0" cy="189.5" r="2.0"/><circle cx="103.0" cy="186.7" r="2.0"/><circle cx="104.0" cy="183.5" r="2.0"/><circle cx="105.0" cy="179.9" r="2.0"/><circle cx="106.0" cy="176.3" r="2.0"/><circle cx="107.0" cy="173.2" r="2.0"/><circle cx="108.0" cy="169.6" r="2.0"/><circle cx="109.0" cy="165.7" r="2.0"/><circle cx="110.0" cy="161.7" r="2.0"/><circle cx="111.0" cy="157.3" r="2.0"/><circle cx="112.0" cy="153.1" r="2.0"/><circle cx="113.0" cy="149.5" r="2.0"/><circle cx="114.0" cy="145.2" r="2.0"/><circle cx="115.0" cy="141.9" r="2.0"/><circle cx="116.0" cy="139.2" r="2.0"/><circle cx="117.0" cy="136.8" r="2.0"/><circle cx="118.5" cy="134.7" r="2.0"/><circle cx="121.0" cy="135.4" r="2.0"/><circle cx="122.5" cy="137.8" r="2.0"/><circle cx="123.5" cy="140.4" r="2.0"/><circle cx="124.5" cy="143.3" r="2.0"/><circle cx="125.5" cy="147.0" r="2.0"/><circle cx="126.5" cy="150.5" r="2.0"/><circle cx="127.5" cy="154.6" r="2.0"/><circle cx="128.5" cy="158.6" r="2.0"/><circle cx="129.5" cy="163.0" r="2.0"/><circle cx="130.0" cy="165.3" r="2.0"/><circle cx="131.0" cy="169.1" r="2.0"/><circle cx="132.0" cy="173.3" r="2.0"/><circle cx="133.0" cy="177.1" r="2.0"/><circle cx="134.0" cy="180.6" r="2.0"/><circle cx="135.0" cy="183.6" r="2.0"/><circle cx="136.0" cy="186.6" r="2.0"/><circle cx="137.5" cy="189.9" r="2.0"/><circle cx="138.5" cy="192.6" r="2.0"/><circle cx="139.5" cy="194.9" r="2.0"/><circle cx="141.0" cy="197.2" r="2.0"/><circle cx="143.5" cy="199.0" r="2.0"/><circle cx="145.5" cy="200.8" r="2.0"/><circle cx="148.0" cy="202.1" r="2.0"/><circle cx="150.5" cy="203.0" r="2.0"/><circle cx="153.0" cy="203.7" r="2.0"/><circle cx="155.5" cy="203.4" r="2.0"/><circle cx="158.0" cy="203.2" r="2.0"/><circle cx="160.5" cy="204.2" r="2.0"/><circle cx="163.0" cy="204.7" r="2.0"/><circle cx="165.5" cy="204.3" r="2.0"/><circle cx="168.0" cy="204.0" r="2.0"/><circle cx="170.5" cy="204.8" r="2.0"/><circle cx="173.0" cy="204.0" r="2.0"/><circle cx="175.5" cy="205.1" r="2.0"/><circle cx="178.0" cy="205.0" r="2.0"/><circle cx="180.5" cy="204.4" r="2.0"/><circle cx="183.0" cy="203.2" r="2.0"/><circle cx="185.5" cy="203.1" r="2.0"/><circle cx="188.0" cy="203.2" r="2.0"/><circle cx="190.5" cy="202.8" r="2.0"/><circle cx="193.0" cy="202.1" r="2.0"/><circle cx="195.0" cy="200.5" r="2.0"/><circle cx="197.0" cy="198.6" r="2.0"/><circle cx="199.0" cy="196.6" r="2.0"/><circle cx="200.5" cy="194.0" r="2.0"/><circle cx="202.0" cy="191.1" r="2.0"/><circle cx="203.0" cy="188.5" r="2.0"/><circle cx="204.0" cy="185.3" r="2.0"/><circle cx="205.0" cy="181.9" r="2.0"/><circle cx="206.0" cy="178.3" r="2.0"/><circle cx="207.0" cy="174.1" r="2.0"/><circle cx="207.5" cy="171.6" r="2.0"/><circle cx="208.5" cy="166.9" r="2.0"/><circle cx="209.0" cy="164.4" r="2.0"/><circle cx="209.5" cy="161.8" r="2.0"/><circle cx="210.0" cy="159.1" r="2.0"/><circle cx="210.5" cy="156.7" r="2.0"/><circle cx="211.5" cy="151.6" r="2.0"/><circle cx="212.0" cy="148.9" r="2.0"/><circle cx="212.5" cy="145.9" r="2.0"/><circle cx="213.0" cy="143.3" r="2.0"/><circle cx="213.5" cy="140.4" r="2.0"/><circle cx="214.0" cy="137.6" r="2.0"/><circle cx="214.5" cy="134.5" r="2.0"/><circle cx="215.0" cy="131.7" r="2.0"/><circle cx="215.5" cy="129.0" r="2.0"/><circle cx="216.5" cy="124.2" r="2.0"/><circle cx="217.0" cy="121.8" r="2.0"/><circle cx="217.5" cy="119.3" r="2.0"/><circle cx="218.5" cy="115.5" r="2.0"/><circle cx="219.5" cy="111.9" r="2.0"/><circle cx="220.5" cy="109.0" r="2.0"/><circle cx="222.0" cy="106.5" r="2.0"/><circle cx="224.5" cy="108.3" r="2.0"/><circle cx="225.5" cy="110.9" r="2.0"/><circle cx="226.5" cy="114.0" r="2.0"/><circle cx="227.5" cy="117.9" r="2.0"/><circle cx="228.5" cy="122.5" r="2.0"/><circle cx="229.0" cy="125.2" r="2.0"/><circle cx="229.5" cy="127.9" r="2.0"/><circle cx="230.0" cy="130.9" r="2.0"/><circle cx="230.5" cy="133.6" r="2.0"/><circle cx="231.0" cy="136.3" r="2.0"/><circle cx="231.5" cy="139.5" r="2.0"/><circle cx="232.0" cy="142.4" r="2.0"/><circle cx="232.5" cy="145.0" r="2.0"/><circle cx="233.0" cy="147.9" r="2.0"/><circle cx="233.5" cy="150.8" r="2.0"/><circle cx="234.0" cy="153.5" r="2.0"/><circle cx="234.5" cy="156.2" r="2.0"/><circle cx="235.0" cy="158.7" r="2.0"/><circle cx="236.0" cy="163.7" r="2.0"/><circle cx="236.5" cy="166.2" r="2.0"/><circle cx="237.5" cy="171.2" r="2.0"/><circle cx="238.5" cy="175.6" r="2.0"/><circle cx="239.5" cy="179.6" r="2.0"/><circle cx="240.5" cy="183.4" r="2.0"/><circle cx="241.5" cy="186.6" r="2.0"/><circle cx="242.5" cy="189.5" r="2.0"/><circle cx="243.5" cy="192.2" r="2.0"/><circle cx="245.0" cy="194.5" r="2.0"/><circle cx="246.5" cy="196.6" r="2.0"/><circle cx="248.5" cy="198.7" r="2.0"/><circle cx="250.5" cy="200.1" r="2.0"/><circle cx="253.0" cy="201.5" r="2.0"/><circle cx="255.0" cy="203.3" r="2.0"/><circle cx="257.5" cy="203.9" r="2.0"/><circle cx="260.0" cy="204.7" r="2.0"/><circle cx="262.5" cy="204.1" r="2.0"/><circle cx="265.0" cy="204.5" r="2.0"/><circle cx="267.5" cy="204.8" r="2.0"/><circle cx="270.0" cy="205.1" r="2.0"/><circle cx="272.5" cy="204.8" r="2.0"/><circle cx="275.0" cy="204.6" r="2.0"/><circle cx="277.5" cy="205.3" r="2.0"/><circle cx="280.0" cy="205.2" r="2.0"/><circle cx="282.5" cy="205.9" r="2.0"/><circle cx="285.0" cy="205.5" r="2.0"/><circle cx="287.5" cy="205.5" r="2.0"/><circle cx="290.0" cy="205.5" r="2.0"/><circle cx="292.5" cy="206.4" r="2.0"/><circle cx="295.0" cy="206.0" r="2.0"/><circle cx="297.5" cy="205.4" r="2.0"/><circle cx="300.0" cy="205.9" r="2.0"/><circle cx="302.5" cy="205.6" r="2.0"/><circle cx="305.0" cy="205.3" r="2.0"/><circle cx="307.5" cy="206.2" r="2.0"/><circle cx="310.0" cy="207.0" r="2.0"/><circle cx="312.5" cy="206.1" r="2.0"/><circle cx="315.0" cy="205.8" r="2.0"/><circle cx="317.5" cy="206.2" r="2.0"/><circle cx="320.0" cy="206.1" r="2.0"/><circle cx="322.5" cy="206.0" r="2.0"/><circle cx="325.0" cy="206.5" r="2.0"/></g>
<path d="M24.5,204.4L25.5,204.4L26.5,204.4L27.5,204.4L28.5,204.4L29.5,204.3L30.5,204.3L31.5,204.3L32.5,204.3L33.5,204.3L34.5,204.3L35.5,204.3L36.5,204.3L37.5,204.3L38.5,204.2L39.5,204.2L40.5,204.2L41.5,204.2L42.5,204.2L43.5,204.2L44.5,204.1L45.5,204.1L46.5,204.1L47.5,204.1L48.5,204.1L49.5,204.0L50.5,204.0L51.5,204.0L52.5,204.0L53.5,204.0L54.5,203.9L55.5,203.9L56.5,203.9L57.5,203.8L58.5,203.8L59.5,203.8L60.5,203.7L61.5,203.7L62.5,203.7L63.5,203.6L64.5,203.6L65.5,203.5L66.5,203.5L67.5,203.4L68.5,203.4L69.5,203.3L70.5,203.2L71.5,203.2L72.5,203.1L73.5,203.0L74.5,203.0L75.5,202.9L76.5,202.8L77.5,202.7L78.5,202.6L79.5,202.5L80.5,202.4L81.5,202.2L82.5,202.1L83.5,201.9L84.5,201.8L85.5,201.6L86.5,201.4L87.5,201.2L88.5,201.0L89.5,200.7L90.5,200.5L91.5,200.1L92.5,199.8L93.5,199.4L94.5,198.9L95.5,198.4L96.5,197.7L97.5,197.0L98.5,196.1L99.5,195.1L100.5,193.9L101.5,192.5L102.5,190.8L103.5,188.8L104.5,186.5L105.5,183.9L106.5,180.9L107.5,177.6L108.5,173.8L109.5,169.8L110.5,165.3L111.5,160.7L112.5,155.8L113.5,150.9L114.5,146.1L115.5,141.7L116.5,137.8L117.5,134.9L118.5,133.1L119.5,132.7L120.5,133.6L121.5,135.7L122.5,139.0L123.5,143.0L124.5,147.5L125.5,152.4L126.5,157.3L127.5,162.1L128.5,166.6L129.5,170.9L130.5,174.9L131.5,178.5L132.5,181.7L133.5,184.5L134.5,187.0L135.5,189.2L136.5,191.0L137.5,192.6L138.5,193.9L139.5,195.0L140.5,196.0L141.5,196.8L142.5,197.5L143.5,198.0L144.5,198.5L145.5,198.9L146.5,199.3L147.5,199.6L148.5,199.9L149.5,200.1L150.5,200.3L151.5,200.5L152.5,200.7L153.5,200.8L154.5,201.0L155.5,201.1L156.5,201.2L157.5,201.3L158.5,201.3L159.5,201.4L160.5,201.4L161.5,201.5L162.5,201.5L163.5,201.6L164.5,201.6L165.5,201.6L166.5,201.6L167.5,201.6L168.5,201.6L169.5,201.5L170.5,201.5L171.5,201.5L172.5,201.4L173.5,201.4L174.5,201.3L175.5,201.2L176.5,201.2L177.5,201.1L178.5,201.0L179.5,200.8L180.5,200.7L181.5,200.6L182.5,200.4L183.5,200.2L184.5,200.1L185.5,199.9L186.5,199.6L187.5,199.4L188.5,199.1L189.5,198.8L190.5,198.5L191.5,198.1L192.5,197.7L193.5,197.3L194.5,196.8L195.5,196.2L196.5,195.6L197.5,194.9L198.5,194.1L199.5,193.1L200.5,192.0L201.5,190.8L202.5,189.3L203.5,187.6L204.5,185.7L205.5,183.4L206.5,180.8L207.5,177.7L208.5,174.3L209.5,170.4L210.5,166.1L211.5,161.2L212.5,155.9L213.5,150.1L214.5,143.8L215.5,137.3L216.5,130.7L217.5,124.2L218.5,118.0L219.5,112.7L220.5,108.6L221.5,106.0L222.5,105.3L223.5,106.5L224.5,109.4L225.5,113.9L226.5,119.4L227.5,125.7L228.5,132.3L229.5,138.9L230.5,145.4L231.5,151.6L232.5,157.3L233.5,162.6L234.5,167.3L235.5,171.6L236.5,175.4L237.5,178.8L238.5,181.7L239.5,184.3L240.5,186.5L241.5,188.4L242.5,190.1L243.5,191.5L244.5,192.8L245.5,193.9L246.5,194.8L247.5,195.6L248.5,196.4L249.5,197.0L250.5,197.6L251.5,198.1L252.5,198.5L253.5,199.0L254.5,199.3L255.5,199.7L256.5,200.0L257.5,200.3L258.5,200.6L259.5,200.8L260.5,201.1L261.5,201.3L262.5,201.5L263.5,201.7L264.5,201.9L265.5,202.0L266.5,202.2L267.5,202.4L268.5,202.5L269.5,202.6L270.5,202.7L271.5,202.9L272.5,203.0L273.5,203.1L274.5,203.2L275.5,203.3L276.5,203.4L277.5,203.5L278.5,203.5L279.5,203.6L280.5,203.7L281.5,203.8L282.5,203.8L283.5,203.9L284.5,204.0L285.5,204.0L286.5,204.1L287.5,204.1L288.5,204.2L289.5,204.2L290.5,204.3L291.5,204.3L292.5,204.4L293.5,204.4L294.5,204.4L295.5,204.5L296.5,204.5L297.5,204.6L298.5,204.6L299.5,204.6L300.5,204.7L301.5,204.7L302.5,204.7L303.5,204.8L304.5,204.8L305.5,204.8L306.5,204.8L307.5,204.9L308.5,204.9L309.5,204.9L310.5,204.9L311.5,205.0L312.5,205.0L313.5,205.0L314.5,205.0L315.5,205.1L316.5,205.1L317.5,205.1L318.5,205.1L319.5,205.1L320.5,205.2L320.9,205.2" stroke="#47b9e6" stroke-width="1.4"/>
<path d="M24.5,204.9L25.5,204.9L26.5,204.9L27.5,204.8L28.5,204.8L29.5,204.8L30.5,204.8L31.5,204.8L32.5,204.8L33.5,204.8L34.5,204.8L35.5,204.8L36.5,204.8L37.5,204.8L38.5,204.8L39.5,204.8L40.5,204.7L41.5,204.7L42.5,204.7L43.5,204.7L44.5,204.7L45.5,204.7L46.5,204.7L47.5,204.7L48.5,204.6L49.5,204.6L50.5,204.6L51.5,204.6L52.5,204.6L53.5,204.5L54.5,204.5L55.5,204.5L56.5,204.5L57.5,204.4L58.5,204.4L59.5,204.4L60.5,204.4L61.5,204.3L62.5,204.3L63.5,204.3L64.5,204.2L65.5,204.2L66.5,204.1L67.5,204.1L68.5,204.0L69.5,204.0L70.5,203.9L71.5,203.9L72.5,203.8L73.5,203.7L74.5,203.7L75.5,203.6L76.5,203.5L77.5,203.4L78.5,203.3L79.5,203.2L80.5,203.1L81.5,203.0L82.5,202.8L83.5,202.7L84.5,202.5L85.5,202.4L86.5,202.2L87.5,202.0L88.5,201.8L89.5,201.5L90.5,201.3L91.5,201.0L92.5,200.6L93.5,200.2L94.5,199.8L95.5,199.2L96.5,198.6L97.5,197.9L98.5,197.0L99.5,196.0L100.5,194.8L101.5,193.4L102.5,191.7L103.5,189.7L104.5,187.5L105.5,184.8L106.5,181.9L107.5,178.5L108.5,174.8L109.5,170.7L110.5,166.3L111.5,161.7L112.5,156.8L113.5,151.9L114.5,147.1L115.5,142.7L116.5,138.9L117.5,136.0L118.5,134.2L119.5,133.8L120.5,134.7L121.5,136.9L122.5,140.1L123.5,144.2L124.5,148.7L125.5,153.6L126.5,158.5L127.5,163.3L128.5,167.9L129.5,172.2L130.5,176.2L131.5,179.8L132.5,183.0L133.5,185.9L134.5,188.4L135.5,190.6L136.5,192.4L137.5,194.0L138.5,195.4L139.5,196.5L140.5,197.5L141.5,198.3L142.5,199.0L143.5,199.6L144.5,200.2L145.5,200.6L146.5,201.0L147.5,201.3L148.5,201.6L149.5,201.9L150.5,202.2L151.5,202.4L152.5,202.6L153.5,202.8L154.5,202.9L155.5,203.1L156.5,203.3L157.5,203.4L158.5,203.5L159.5,203.6L160.5,203.7L161.5,203.8L162.5,203.9L163.5,204.0L164.5,204.1L165.5,204.2L166.5,204.3L167.5,204.4L168.5,204.4L169.5,204.5L170.5,204.6L171.5,204.6L172.5,204.7L173.5,204.7L174.5,204.8L175.5,204.8L176.5,204.9L177.5,204.9L178.5,205.0L179.5,205.0L180.5,205.0L181.5,205.1L182.5,205.1L183.5,205.1L184.5,205.2L185.5,205.2L186.5,205.2L187.5,205.3L188.5,205.3L189.5,205.3L190.5,205.3L191.5,205.4L192.5,205.4L193.5,205.4L194.5,205.4L195.5,205.5L196.5,205.5L197.5,205.5L198.5,205.5L199.5,205.6L200.5,205.6L201.5,205.6L202.5,205.6L203.5,205.6L204.5,205.6L205.5,205.7L206.5,205.7L207.5,205.7L208.5,205.7L209.5,205.7L210.5,205.7L211.5,205.8L212.5,205.8L213.5,205.8L214.5,205.8L215.5,205.8L216.5,205.8L217.5,205.8L218.5,205.9L219.5,205.9L220.5,205.9L221.5,205.9L222.5,205.9L223.5,205.9L224.5,205.9L225.5,205.9L226.5,206.0L227.5,206.0L228.5,206.0L229.5,206.0L230.5,206.0L231.5,206.0L232.5,206.0L233.5,206.0L234.5,206.0L235.5,206.1L236.5,206.1L237.5,206.1L238.5,206.1L239.5,206.1L240.5,206.1L241.5,206.1L242.5,206.1L243.5,206.1L244.5,206.1L245.5,206.1L246.5,206.2L247.5,206.2L248.5,206.2L249.5,206.2L250.5,206.2L251.5,206.2L252.5,206.2L253.5,206.2L254.5,206.2L255.5,206.2L256.5,206.2L257.5,206.2L258.5,206.3L259.5,206.3L260.5,206.3L261.5,206.3L262.5,206.3L263.5,206.3L264.5,206.3L265.5,206.3L266.5,206.3L267.5,206.3L268.5,206.3L269.5,206.3L270.5,206.3L271.5,206.4L272.5,206.4L273.5,206.4L274.5,206.4L275.5,206.4L276.5,206.4L277.5,206.4L278.5,206.4L279.5,206.4L280.5,206.4L281.5,206.4L282.5,206.4L283.5,206.4L284.5,206.4L285.5,206.4L286.5,206.5L287.5,206.5L288.5,206.5L289.5,206.5L290.5,206.5L291.5,206.5L292.5,206.5L293.5,206.5L294.5,206.5L295.5,206.5L296.5,206.5L297.5,206.5L298.5,206.5L299.5,206.5L300.5,206.5L301.5,206.6L302.5,206.6L303.5,206.6L304.5,206.6L305.5,206.6L306.5,206.6L307.5,206.6L308.5,206.6L309.5,206.6L310.5,206.6L311.5,206.6L312.5,206.6L313.5,206.6L314.5,206.6L315.5,206.6L316.5,206.6L317.5,206.6L318.5,206.7L319.5,206.7L320.5,206.7L320.9,206.7" stroke="#f07ed6" stroke-width="1.6"/>
<path d="M24.5,206.4L25.5,206.4L26.5,206.4L27.5,206.4L28.5,206.4L29.5,206.4L30.5,206.4L31.5,206.4L32.5,206.4L33.5,206.4L34.5,206.4L35.5,206.4L36.5,206.4L37.5,206.4L38.5,206.4L39.5,206.4L40.5,206.4L41.5,206.4L42.5,206.4L43.5,206.4L44.5,206.4L45.5,206.4L46.5,206.3L47.5,206.3L48.5,206.3L49.5,206.3L50.5,206.3L51.5,206.3L52.5,206.3L53.5,206.3L54.5,206.3L55.5,206.3L56.5,206.3L57.5,206.3L58.5,206.3L59.5,206.3L60.5,206.3L61.5,206.3L62.5,206.3L63.5,206.3L64.5,206.3L65.5,206.3L66.5,206.3L67.5,206.3L68.5,206.2L69.5,206.2L70.5,206.2L71.5,206.2L72.5,206.2L73.5,206.2L74.5,206.2L75.5,206.2L76.5,206.2L77.5,206.2L78.5,206.2L79.5,206.2L80.5,206.2L81.5,206.2L82.5,206.2L83.5,206.2L84.5,206.2L85.5,206.1L86.5,206.1L87.5,206.1L88.5,206.1L89.5,206.1L90.5,206.1L91.5,206.1L92.5,206.1L93.5,206.1L94.5,206.1L95.5,206.1L96.5,206.1L97.5,206.1L98.5,206.1L99.5,206.0L100.5,206.0L101.5,206.0L102.5,206.0L103.5,206.0L104.5,206.0L105.5,206.0L106.5,206.0L107.5,206.0L108.5,206.0L109.5,205.9L110.5,205.9L111.5,205.9L112.5,205.9L113.5,205.9L114.5,205.9L115.5,205.9L116.5,205.9L117.5,205.8L118.5,205.8L119.5,205.8L120.5,205.8L121.5,205.8L122.5,205.8L123.5,205.8L124.5,205.7L125.5,205.7L126.5,205.7L127.5,205.7L128.5,205.7L129.5,205.7L130.5,205.6L131.5,205.6L132.5,205.6L133.5,205.6L134.5,205.6L135.5,205.5L136.5,205.5L137.5,205.5L138.5,205.5L139.5,205.4L140.5,205.4L141.5,205.4L142.5,205.4L143.5,205.3L144.5,205.3L145.5,205.3L146.5,205.2L147.5,205.2L148.5,205.2L149.5,205.1L150.5,205.1L151.5,205.1L152.5,205.0L153.5,205.0L154.5,204.9L155.5,204.9L156.5,204.9L157.5,204.8L158.5,204.8L159.5,204.7L160.5,204.6L161.5,204.6L162.5,204.5L163.5,204.5L164.5,204.4L165.5,204.3L166.5,204.2L167.5,204.2L168.5,204.1L169.5,204.0L170.5,203.9L171.5,203.8L172.5,203.7L173.5,203.6L174.5,203.5L175.5,203.4L176.5,203.2L177.5,203.1L178.5,203.0L179.5,202.8L180.5,202.6L181.5,202.5L182.5,202.3L183.5,202.1L184.5,201.8L185.5,201.6L186.5,201.4L187.5,201.1L188.5,200.8L189.5,200.5L190.5,200.1L191.5,199.7L192.5,199.3L193.5,198.8L194.5,198.3L195.5,197.7L196.5,197.1L197.5,196.3L198.5,195.5L199.5,194.5L200.5,193.4L201.5,192.1L202.5,190.7L203.5,188.9L204.5,187.0L205.5,184.7L206.5,182.0L207.5,179.0L208.5,175.6L209.5,171.7L210.5,167.3L211.5,162.4L212.5,157.0L213.5,151.2L214.5,145.0L215.5,138.5L216.5,131.8L217.5,125.3L218.5,119.2L219.5,113.8L220.5,109.7L221.5,107.1L222.5,106.4L223.5,107.5L224.5,110.4L225.5,114.9L226.5,120.4L227.5,126.7L228.5,133.3L229.5,139.9L230.5,146.4L231.5,152.5L232.5,158.2L233.5,163.5L234.5,168.2L235.5,172.5L236.5,176.3L237.5,179.7L238.5,182.6L239.5,185.2L240.5,187.4L241.5,189.3L242.5,191.0L243.5,192.4L244.5,193.6L245.5,194.7L246.5,195.6L247.5,196.4L248.5,197.2L249.5,197.8L250.5,198.4L251.5,198.9L252.5,199.3L253.5,199.7L254.5,200.1L255.5,200.4L256.5,200.8L257.5,201.0L258.5,201.3L259.5,201.6L260.5,201.8L261.5,202.0L262.5,202.2L263.5,202.4L264.5,202.6L265.5,202.7L266.5,202.9L267.5,203.0L268.5,203.1L269.5,203.3L270.5,203.4L271.5,203.5L272.5,203.6L273.5,203.7L274.5,203.8L275.5,203.9L276.5,204.0L277.5,204.0L278.5,204.1L279.5,204.2L280.5,204.3L281.5,204.3L282.5,204.4L283.5,204.4L284.5,204.5L285.5,204.5L286.5,204.6L287.5,204.6L288.5,204.7L289.5,204.7L290.5,204.8L291.5,204.8L292.5,204.9L293.5,204.9L294.5,204.9L295.5,205.0L296.5,205.0L297.5,205.0L298.5,205.1L299.5,205.1L300.5,205.1L301.5,205.1L302.5,205.2L303.5,205.2L304.5,205.2L305.5,205.2L306.5,205.3L307.5,205.3L308.5,205.3L309.5,205.3L310.5,205.3L311.5,205.4L312.5,205.4L313.5,205.4L314.5,205.4L315.5,205.4L316.5,205.4L317.5,205.5L318.5,205.5L319.5,205.5L320.5,205.5L320.9,205.5" stroke="#a854f6" stroke-width="1.6"/>
</g>
<line x1="119.0" y1="33.0" x2="119.0" y2="40.4" stroke="#141414" stroke-width="1.7" />
<line x1="119.0" y1="48.5" x2="119.0" y2="55.5" stroke="#141414" stroke-width="1.7" />
<line x1="222.6" y1="5.6" x2="222.6" y2="13.3" stroke="#141414" stroke-width="1.7" />
<line x1="222.6" y1="19.9" x2="222.6" y2="28.1" stroke="#141414" stroke-width="1.7" />
<line x1="118.8" y1="124.9" x2="118.8" y2="132.3" stroke="#141414" stroke-width="1.7" />
<line x1="118.8" y1="139.2" x2="118.8" y2="147.3" stroke="#141414" stroke-width="1.7" />
<line x1="222.1" y1="102.2" x2="222.1" y2="109.4" stroke="#141414" stroke-width="1.7" />
<line x1="222.1" y1="117.8" x2="222.1" y2="125.0" stroke="#141414" stroke-width="1.7" />
<rect x="24.50" y="2.00" width="303.10" height="212.20" fill="none" stroke="#6e6e6e" stroke-width="1.4"/>
<g fill="#222222" font-family="Liberation Serif" filter="url(#tf)">
<line x1="24.5" y1="214.2" x2="24.5" y2="218.2" stroke="#6e6e6e" stroke-width="1.2" />
<text x="11.38" y="234.80" font-size="17.5">810</text>
<line x1="91.9" y1="214.2" x2="91.9" y2="218.2" stroke="#6e6e6e" stroke-width="1.2" />
<text x="78.73" y="234.80" font-size="17.5">800</text>
<line x1="159.2" y1="214.2" x2="159.2" y2="218.2" stroke="#6e6e6e" stroke-width="1.2" />
<text x="145.82" y="234.80" font-size="17.5">790</text>
<line x1="226.6" y1="214.2" x2="226.6" y2="218.2" stroke="#6e6e6e" stroke-width="1.2" />
<text x="213.18" y="234.80" font-size="17.5">780</text>
<line x1="293.9" y1="214.2" x2="293.9" y2="218.2" stroke="#6e6e6e" stroke-width="1.2" />
<text x="280.53" y="234.80" font-size="17.5">770</text>
<line x1="58.2" y1="214.2" x2="58.2" y2="216.7" stroke="#6e6e6e" stroke-width="1.2" />
<line x1="125.5" y1="214.2" x2="125.5" y2="216.7" stroke="#6e6e6e" stroke-width="1.2" />
<line x1="192.9" y1="214.2" x2="192.9" y2="216.7" stroke="#6e6e6e" stroke-width="1.2" />
<line x1="260.2" y1="214.2" x2="260.2" y2="216.7" stroke="#6e6e6e" stroke-width="1.2" />
<text x="99.36" y="30.70" font-size="15.5">795.95</text>
<text x="175.76" y="14.80" font-size="15.5">780.65</text>
<text x="96.78" y="123.00" font-size="15.5">795.92</text>
<text x="171.78" y="114.40" font-size="15.5">780.62</text>
<text x="26.05" y="19.50" font-size="21">(a)</text>
<text x="36.04" y="86.80" font-size="18">MBZ</text>
<text x="280.41" y="23.40" font-size="17.3">Ba 3d</text>
<text x="27.37" y="195.80" font-size="17.6">BaSO<tspan font-size="12" dy="4.4">4</tspan></text>
<text x="102.46" y="254.40" font-size="17.5">Binding Energy (eV)</text>
<text transform="translate(13.80,109.20) rotate(-90)" font-size="17.5" text-anchor="middle">Intensity (a.u.)</text>
</g>
<g fill="none" stroke-linejoin="round">
<path d="M367.6,44.1L368.1,44.1L368.6,44.0L369.1,43.9L369.6,43.8L370.1,43.9L370.6,44.0L371.1,44.1L371.6,44.1L372.1,44.1L372.6,44.1L373.1,44.1L373.6,44.1L374.1,43.9L374.6,43.9L375.1,44.0L375.6,44.0L376.1,44.0L376.6,44.1L377.1,44.2L377.6,44.1L378.1,44.1L378.6,44.1L379.1,44.2L379.6,44.2L380.1,44.1L380.6,44.1L381.1,44.0L381.6,44.0L382.1,44.0L382.6,44.0L383.1,44.0L383.6,44.0L384.1,43.8L384.6,43.9L385.1,43.8L385.6,43.7L386.1,43.6L386.6,43.7L387.1,43.6L387.6,43.7L388.1,43.6L388.6,43.6L389.1,43.8L389.6,43.8L390.1,43.8L390.6,43.8L391.1,43.9L391.6,43.8L392.1,43.8L392.6,43.8L393.1,43.7L393.6,43.6L394.1,43.5L394.6,43.4L395.1,43.5L395.6,43.4L396.1,43.3L396.6,43.3L397.1,43.3L397.6,43.3L398.1,43.3L398.6,43.2L399.1,43.1L399.6,43.3L400.1,43.1L400.6,43.1L401.1,43.1L401.6,43.1L402.1,43.2L402.6,43.1L403.1,43.0L403.6,43.0L404.1,43.1L404.6,43.1L405.1,43.0L405.6,42.8L406.1,43.0L406.6,42.9L407.1,43.0L407.6,43.0L408.1,42.9L408.6,42.9L409.1,42.9L409.6,42.7L410.1,42.7L410.6,42.5L411.1,42.4L411.6,42.3L412.1,42.3L412.6,42.3L413.1,42.3L413.6,42.0L414.1,42.1L414.6,42.1L415.1,42.1L415.6,42.1L416.1,42.0L416.6,42.0L417.1,42.0L417.6,42.0L418.1,41.9L418.6,41.8L419.1,41.7L419.6,41.7L420.1,41.6L420.6,41.7L421.1,41.7L421.6,41.7L422.1,41.5L422.6,41.5L423.1,41.3L423.6,41.3L424.1,40.9L424.6,40.8L425.1,40.7L425.6,40.7L426.1,40.6L426.6,40.5L427.1,40.4L427.6,40.5L428.1,40.5L428.6,40.3L429.1,40.3L429.6,40.3L430.1,40.4L430.6,40.3L431.1,40.3L431.6,40.0L432.1,39.9L432.6,39.8L433.1,39.8L433.6,39.6L434.1,39.5L434.6,39.3L435.1,39.3L435.6,39.1L436.1,39.0L436.6,38.9L437.1,38.9L437.6,38.8L438.1,38.7L438.6,38.5L439.1,38.4L439.6,38.4L440.1,38.3L440.6,38.1L441.1,38.0L441.6,37.9L442.1,37.9L442.6,37.8L443.1,37.7L443.6,37.5L444.1,37.4L444.6,37.3L445.1,37.1L445.6,37.0L446.1,37.0L446.6,37.0L447.1,36.9L447.6,36.9L448.1,36.8L448.6,36.9L449.1,36.7L449.6,36.6L450.1,36.6L450.6,36.5L451.1,36.4L451.6,36.4L452.1,36.3L452.6,36.4L453.1,36.4L453.6,36.3L454.1,36.3L454.6,36.3L455.1,36.1L455.6,36.2L456.1,36.2L456.6,36.2L457.1,36.3L457.6,36.3L458.1,36.2L458.6,36.3L459.1,36.2L459.6,36.2L460.1,36.1L460.6,36.3L461.1,36.3L461.6,36.4L462.1,36.4L462.6,36.5L463.1,36.5L463.6,36.6L464.1,36.6L464.6,36.8L465.1,36.8L465.6,37.0L466.1,37.3L466.6,37.4L467.1,37.6L467.6,37.7L468.1,37.7L468.6,37.9L469.1,37.9L469.6,38.0L470.1,38.1L470.6,38.2L471.1,38.4L471.6,38.6L472.1,38.7L472.6,38.9L473.1,38.9L473.6,39.1L474.1,39.1L474.6,39.2L475.1,39.4L475.6,39.4L476.1,39.5L476.6,39.6L477.1,39.6L477.6,39.8L478.1,40.0L478.6,40.0L479.1,40.2L479.6,40.4L480.1,40.4L480.6,40.6L481.1,40.6L481.6,40.5L482.1,40.7L482.6,40.8L483.1,40.8L483.6,40.9L484.1,41.0L484.6,41.1L485.1,41.2L485.6,41.3L486.1,41.3L486.6,41.3L487.1,41.6L487.6,41.6L488.1,41.5L488.6,41.6L489.1,41.7L489.6,41.9L490.1,41.9L490.6,41.9L491.1,41.9L491.6,42.0L492.1,42.2L492.6,42.2L493.1,42.1L493.6,42.2L494.1,42.2L494.6,42.2L495.1,42.3L495.6,42.2L496.1,42.2L496.6,42.1L497.1,42.1L497.6,42.1L498.1,42.2L498.6,42.1L499.1,42.2L499.6,42.3L500.1,42.3L500.6,42.4L501.1,42.4L501.6,42.3L502.1,42.3L502.6,42.3L503.1,42.3L503.6,42.2L504.1,42.2L504.6,42.3L505.1,42.2L505.6,42.2L506.1,42.1L506.6,42.1L507.1,42.0L507.6,41.9L508.1,41.9L508.6,41.8L509.1,41.9L509.6,41.9L510.1,41.7L510.6,41.8L511.1,41.7L511.6,41.5L512.1,41.6L512.6,41.5L513.1,41.5L513.6,41.5L514.1,41.4L514.6,41.5L515.1,41.3L515.6,41.1L516.1,41.1L516.6,40.9L517.1,40.7L517.6,40.6L518.1,40.5L518.6,40.5L519.1,40.4L519.6,40.3L520.1,40.3L520.6,40.3L521.1,40.2L521.6,40.2L522.1,40.1L522.6,39.9L523.1,39.8L523.6,39.7L524.1,39.5L524.6,39.3L525.1,39.1L525.6,39.1L526.1,38.9L526.6,38.7L527.1,38.4L527.6,38.2L528.1,37.9L528.6,37.7L529.1,37.4L529.6,37.2L530.1,37.0L530.6,37.0L531.1,36.9L531.6,36.6L532.1,36.4L532.6,36.2L533.1,35.9L533.6,35.6L534.1,35.1L534.6,34.6L535.1,34.3L535.6,33.9L536.1,33.6L536.6,33.2L537.1,32.7L537.6,32.5L538.1,32.2L538.6,31.7L539.1,31.4L539.6,30.9L540.1,30.5L540.6,30.2L541.1,29.7L541.6,29.2L542.1,28.8L542.6,28.2L543.1,27.9L543.6,27.4L544.1,26.8L544.6,26.3L545.1,25.8L545.6,25.3L546.1,24.7L546.6,24.2L547.1,23.6L547.6,23.2L548.1,22.5L548.6,21.9L549.1,21.5L549.6,21.0L550.1,20.4L550.6,19.9L551.1,19.5L551.6,19.2L552.1,18.8L552.6,18.3L553.1,18.0L553.6,17.7L554.1,17.3L554.6,17.1L555.1,16.7L555.6,16.5L556.1,16.1L556.6,15.8L557.1,15.6L557.6,15.4L558.1,15.1L558.6,14.9L559.1,14.7L559.6,14.6L560.1,14.4L560.6,14.1L561.1,14.0L561.6,13.8L562.1,13.6L562.6,13.4L563.1,13.2L563.6,13.0L564.1,13.0L564.6,12.9L565.1,12.7L565.6,12.6L566.1,12.4L566.6,12.3L567.1,12.3L567.6,12.3L568.1,12.1L568.6,12.1L569.1,12.1L569.6,12.2L570.1,12.3L570.6,12.3L571.1,12.3L571.6,12.4L572.1,12.4L572.6,12.4L573.1,12.5L573.6,12.7L574.1,12.7L574.6,12.9L575.1,13.1L575.6,13.4L576.1,13.6L576.6,13.9L577.1,14.2L577.6,14.6L578.1,15.0L578.6,15.4L579.1,15.9L579.6,16.3L580.1,16.7L580.6,17.2L581.1,17.8L581.6,18.2L582.1,18.6L582.6,19.1L583.1,19.6L583.6,20.1L584.1,20.6L584.6,21.1L585.1,21.7L585.6,22.4L586.1,22.8L586.6,23.5L587.1,24.0L587.6,24.5L588.1,25.0L588.6,25.6L589.1,26.0L589.6,26.6L590.1,27.2L590.6,27.8L591.1,28.3L591.6,28.9L592.1,29.3L592.6,29.8L593.1,30.3L593.6,30.8L594.1,31.3L594.6,31.8L595.1,32.1L595.6,32.6L596.1,33.1L596.6,33.5L597.1,33.8L597.6,34.2L598.1,34.4L598.6,34.8L599.1,35.1L599.6,35.5L600.1,35.9L600.6,36.2L601.1,36.4L601.6,36.6L602.1,36.9L602.6,37.2L603.1,37.3L603.6,37.4L604.1,37.6L604.6,37.8L605.1,38.1L605.6,38.3L606.1,38.5L606.6,38.8L607.1,38.9L607.6,39.1L608.1,39.3L608.6,39.4L609.1,39.6L609.6,39.7L610.1,39.7L610.6,39.9L611.1,40.2L611.6,40.3L612.1,40.5L612.6,40.8L613.1,41.0L613.6,41.1L614.1,41.3L614.6,41.4L615.1,41.4L615.6,41.4L616.1,41.4L616.6,41.6L617.1,41.6L617.6,41.6L618.1,41.7L618.6,41.9L619.1,41.9L619.6,42.0L620.1,42.0L620.6,42.0L621.1,42.0L621.6,42.1L622.1,42.0L622.6,42.2L623.1,42.2L623.6,42.3L624.1,42.3L624.6,42.4L625.1,42.4L625.6,42.4L626.1,42.3L626.6,42.4L627.1,42.4L627.6,42.4L628.1,42.4L628.6,42.5L629.1,42.7L629.6,42.7L630.1,42.7L630.6,42.8L631.1,42.8L631.6,42.9L632.1,42.8L632.6,42.8L633.1,42.8L633.6,42.8L634.1,42.8L634.6,43.0L635.1,43.0L635.6,43.1L636.1,43.1L636.6,43.2L637.1,43.2L637.6,43.2L638.1,43.1L638.6,43.2L639.1,43.2L639.6,43.2L640.1,43.2L640.6,43.3L641.1,43.2L641.6,43.2L642.1,43.2L642.6,43.1L643.1,43.2L643.6,43.2L644.1,43.2L644.6,43.3L645.1,43.3L645.6,43.4L646.1,43.6L646.6,43.6L647.1,43.4L647.6,43.3L648.1,43.1L648.6,43.3L649.1,43.3L649.6,43.2L650.1,43.2L650.6,43.2L651.1,43.5L651.6,43.6L652.1,43.6L652.6,43.6L653.1,43.6L653.6,43.6L654.1,43.6L654.6,43.7L655.1,43.8L655.6,43.8L656.1,43.6L656.6,43.7L657.1,43.7L657.6,43.8L658.1,43.8L658.6,43.6L659.1,43.6L659.6,43.8L660.1,43.8L660.6,43.8L661.1,43.7L661.6,43.7L662.1,43.8L662.6,43.9L663.1,43.9L663.6,43.9L664.1,43.9L664.6,43.9L665.1,43.9L665.6,43.9L666.1,43.9L666.6,43.8L667.1,43.8L667.6,43.8L668.1,43.8L668.6,43.8L669.1,43.8L669.6,43.8L670.1,43.9L670.6,43.9" stroke="#efefef" stroke-width="3.5" stroke-linecap="round"/>
<g stroke="#d6d6d6" stroke-width="0.8"><circle cx="367.6" cy="44.1" r="1.9"/><circle cx="370.6" cy="44.0" r="1.9"/><circle cx="373.6" cy="44.1" r="1.9"/><circle cx="376.6" cy="44.1" r="1.9"/><circle cx="379.6" cy="44.2" r="1.9"/><circle cx="382.6" cy="44.0" r="1.9"/><circle cx="385.6" cy="43.7" r="1.9"/><circle cx="388.6" cy="43.6" r="1.9"/><circle cx="391.6" cy="43.8" r="1.9"/><circle cx="394.6" cy="43.4" r="1.9"/><circle cx="397.6" cy="43.3" r="1.9"/><circle cx="400.6" cy="43.1" r="1.9"/><circle cx="403.6" cy="43.0" r="1.9"/><circle cx="406.6" cy="42.9" r="1.9"/><circle cx="409.6" cy="42.7" r="1.9"/><circle cx="412.6" cy="42.3" r="1.9"/><circle cx="415.6" cy="42.1" r="1.9"/><circle cx="418.6" cy="41.8" r="1.9"/><circle cx="421.6" cy="41.7" r="1.9"/><circle cx="424.6" cy="40.8" r="1.9"/><circle cx="427.6" cy="40.5" r="1.9"/><circle cx="430.6" cy="40.3" r="1.9"/><circle cx="433.6" cy="39.6" r="1.9"/><circle cx="436.6" cy="38.9" r="1.9"/><circle cx="439.6" cy="38.4" r="1.9"/><circle cx="442.6" cy="37.8" r="1.9"/><circle cx="445.6" cy="37.0" r="1.9"/><circle cx="448.6" cy="36.9" r="1.9"/><circle cx="451.6" cy="36.4" r="1.9"/><circle cx="454.6" cy="36.3" r="1.9"/><circle cx="457.6" cy="36.3" r="1.9"/><circle cx="460.6" cy="36.3" r="1.9"/><circle cx="463.6" cy="36.6" r="1.9"/><circle cx="466.6" cy="37.4" r="1.9"/><circle cx="469.6" cy="38.0" r="1.9"/><circle cx="472.6" cy="38.9" r="1.9"/><circle cx="475.6" cy="39.4" r="1.9"/><circle cx="478.6" cy="40.0" r="1.9"/><circle cx="481.6" cy="40.5" r="1.9"/><circle cx="484.6" cy="41.1" r="1.9"/><circle cx="487.6" cy="41.6" r="1.9"/><circle cx="490.6" cy="41.9" r="1.9"/><circle cx="493.6" cy="42.2" r="1.9"/><circle cx="496.6" cy="42.1" r="1.9"/><circle cx="499.6" cy="42.3" r="1.9"/><circle cx="502.6" cy="42.3" r="1.9"/><circle cx="505.6" cy="42.2" r="1.9"/><circle cx="508.6" cy="41.8" r="1.9"/><circle cx="511.6" cy="41.5" r="1.9"/><circle cx="514.6" cy="41.5" r="1.9"/><circle cx="517.6" cy="40.6" r="1.9"/><circle cx="520.6" cy="40.3" r="1.9"/><circle cx="523.6" cy="39.7" r="1.9"/><circle cx="526.6" cy="38.7" r="1.9"/><circle cx="529.6" cy="37.2" r="1.9"/><circle cx="532.6" cy="36.2" r="1.9"/><circle cx="535.1" cy="34.3" r="1.9"/><circle cx="537.6" cy="32.5" r="1.9"/><circle cx="540.1" cy="30.5" r="1.9"/><circle cx="542.6" cy="28.2" r="1.9"/><circle cx="545.1" cy="25.8" r="1.9"/><circle cx="547.6" cy="23.2" r="1.9"/><circle cx="550.1" cy="20.4" r="1.9"/><circle cx="552.6" cy="18.3" r="1.9"/><circle cx="555.6" cy="16.5" r="1.9"/><circle cx="558.6" cy="14.9" r="1.9"/><circle cx="561.6" cy="13.8" r="1.9"/><circle cx="564.6" cy="12.9" r="1.9"/><circle cx="567.6" cy="12.3" r="1.9"/><circle cx="570.6" cy="12.3" r="1.9"/><circle cx="573.6" cy="12.7" r="1.9"/><circle cx="576.6" cy="13.9" r="1.9"/><circle cx="579.1" cy="15.9" r="1.9"/><circle cx="581.6" cy="18.2" r="1.9"/><circle cx="584.1" cy="20.6" r="1.9"/><circle cx="586.6" cy="23.5" r="1.9"/><circle cx="589.1" cy="26.0" r="1.9"/><circle cx="591.1" cy="28.3" r="1.9"/><circle cx="593.6" cy="30.8" r="1.9"/><circle cx="596.1" cy="33.1" r="1.9"/><circle cx="598.6" cy="34.8" r="1.9"/><circle cx="601.1" cy="36.4" r="1.9"/><circle cx="604.1" cy="37.6" r="1.9"/><circle cx="607.1" cy="38.9" r="1.9"/><circle cx="610.1" cy="39.7" r="1.9"/><circle cx="613.1" cy="41.0" r="1.9"/><circle cx="616.1" cy="41.4" r="1.9"/><circle cx="619.1" cy="41.9" r="1.9"/><circle cx="622.1" cy="42.0" r="1.9"/><circle cx="625.1" cy="42.4" r="1.9"/><circle cx="628.1" cy="42.4" r="1.9"/><circle cx="631.1" cy="42.8" r="1.9"/><circle cx="634.1" cy="42.8" r="1.9"/><circle cx="637.1" cy="43.2" r="1.9"/><circle cx="640.1" cy="43.2" r="1.9"/><circle cx="643.1" cy="43.2" r="1.9"/><circle cx="646.1" cy="43.6" r="1.9"/><circle cx="649.1" cy="43.3" r="1.9"/><circle cx="652.1" cy="43.6" r="1.9"/><circle cx="655.1" cy="43.8" r="1.9"/><circle cx="658.1" cy="43.8" r="1.9"/><circle cx="661.1" cy="43.7" r="1.9"/><circle cx="664.1" cy="43.9" r="1.9"/><circle cx="667.1" cy="43.8" r="1.9"/><circle cx="670.1" cy="43.9" r="1.9"/></g>
<path d="M367.6,43.7L368.6,43.7L369.6,43.7L370.6,43.7L371.6,43.7L372.6,43.7L373.6,43.7L374.6,43.6L375.6,43.6L376.6,43.6L377.6,43.6L378.6,43.6L379.6,43.6L380.6,43.6L381.6,43.6L382.6,43.5L383.6,43.5L384.6,43.5L385.6,43.5L386.6,43.5L387.6,43.5L388.6,43.4L389.6,43.4L390.6,43.4L391.6,43.4L392.6,43.3L393.6,43.3L394.6,43.3L395.6,43.2L396.6,43.2L397.6,43.2L398.6,43.1L399.6,43.1L400.6,43.0L401.6,43.0L402.6,42.9L403.6,42.9L404.6,42.8L405.6,42.7L406.6,42.7L407.6,42.6L408.6,42.5L409.6,42.5L410.6,42.4L411.6,42.3L412.6,42.2L413.6,42.1L414.6,42.0L415.6,41.9L416.6,41.8L417.6,41.7L418.6,41.6L419.6,41.5L420.6,41.4L421.6,41.2L422.6,41.1L423.6,41.0L424.6,40.8L425.6,40.7L426.6,40.5L427.6,40.4L428.6,40.2L429.6,40.1L430.6,39.9L431.6,39.7L432.6,39.6L433.6,39.4L434.6,39.2L435.6,39.0L436.6,38.9L437.6,38.7L438.6,38.5L439.6,38.3L440.6,38.1L441.6,37.9L442.6,37.7L443.6,37.6L444.6,37.4L445.6,37.2L446.6,37.0L447.6,36.8L448.6,36.6L449.6,36.4L450.6,36.3L451.6,36.1L452.6,36.0L453.6,35.9L454.6,35.8L455.6,35.7L456.6,35.7L457.6,35.7L458.6,35.8L459.6,35.8L460.6,36.0L461.6,36.1L462.6,36.3L463.6,36.5L464.6,36.7L465.6,37.0L466.6,37.2L467.6,37.5L468.6,37.8L469.6,38.1L470.6,38.4L471.6,38.6L472.6,38.9L473.6,39.2L474.6,39.4L475.6,39.7L476.6,39.9L477.6,40.2L478.6,40.4L479.6,40.6L480.6,40.7L481.6,40.9L482.6,41.1L483.6,41.2L484.6,41.3L485.6,41.5L486.6,41.6L487.6,41.6L488.6,41.7L489.6,41.8L490.6,41.9L491.6,41.9L492.6,42.0L493.6,42.0L494.6,42.0L495.6,42.0L496.6,42.0L497.6,42.1L498.6,42.1L499.6,42.1L500.6,42.0L501.6,42.0L502.6,42.0L503.6,42.0L504.6,42.0L505.6,41.9L506.6,41.9L507.6,41.8L508.6,41.8L509.6,41.7L510.6,41.7L511.6,41.6L512.6,41.5L513.6,41.5L514.6,41.4L515.6,41.3L516.6,41.2L517.6,41.1L518.6,40.9L519.6,40.8L520.6,40.6L521.6,40.5L522.6,40.3L523.6,40.1L524.6,39.8L525.6,39.6L526.6,39.3L527.6,39.0L528.6,38.6L529.6,38.2L530.6,37.8L531.6,37.3L532.6,36.9L533.6,36.3L534.6,35.7L535.6,35.1L536.6,34.4L537.6,33.7L538.6,32.9L539.6,32.1L540.6,31.2L541.6,30.3L542.6,29.3L543.6,28.3L544.6,27.3L545.6,26.3L546.6,25.2L547.6,24.1L548.6,23.1L549.6,22.1L550.6,21.1L551.6,20.2L552.6,19.4L553.6,18.6L554.6,17.9L555.6,17.3L556.6,16.8L557.6,16.3L558.6,15.9L559.6,15.6L560.6,15.2L561.6,14.9L562.6,14.6L563.6,14.3L564.6,14.0L565.6,13.7L566.6,13.5L567.6,13.2L568.6,13.0L569.6,12.8L570.6,12.7L571.6,12.7L572.6,12.7L573.6,12.9L574.6,13.2L575.6,13.7L576.6,14.2L577.6,14.9L578.6,15.8L579.6,16.7L580.6,17.7L581.6,18.8L582.6,19.9L583.6,21.1L584.6,22.3L585.6,23.5L586.6,24.7L587.6,25.8L588.6,27.0L589.6,28.1L590.6,29.1L591.6,30.1L592.6,31.1L593.6,32.0L594.6,32.9L595.6,33.7L596.6,34.4L597.6,35.1L598.6,35.8L599.6,36.4L600.6,36.9L601.6,37.4L602.6,37.9L603.6,38.3L604.6,38.7L605.6,39.1L606.6,39.4L607.6,39.7L608.6,40.0L609.6,40.2L610.6,40.5L611.6,40.7L612.6,40.8L613.6,41.0L614.6,41.2L615.6,41.3L616.6,41.4L617.6,41.6L618.6,41.7L619.6,41.8L620.6,41.9L621.6,41.9L622.6,42.0L623.6,42.1L624.6,42.2L625.6,42.2L626.6,42.3L627.6,42.4L628.6,42.4L629.6,42.5L630.6,42.5L631.6,42.6L632.6,42.6L633.6,42.7L634.6,42.7L635.6,42.7L636.6,42.8L637.6,42.8L638.6,42.8L639.6,42.9L640.6,42.9L641.6,42.9L642.6,43.0L643.6,43.0L644.6,43.0L645.6,43.1L646.6,43.1L647.6,43.1L648.6,43.1L649.6,43.2L650.6,43.2L651.6,43.2L652.6,43.2L653.6,43.2L654.6,43.3L655.6,43.3L656.6,43.3L657.6,43.3L658.6,43.3L659.6,43.3L660.6,43.4L661.6,43.4L662.6,43.4L663.6,43.4L664.6,43.4L665.6,43.4L666.6,43.4L667.6,43.5L668.6,43.5L669.6,43.5L670.6,43.5L670.8,43.5" stroke="#47b9e6" stroke-width="1.65"/>
<path d="M367.6,44.0L368.6,44.0L369.6,44.0L370.6,44.0L371.6,44.0L372.6,44.0L373.6,44.0L374.6,44.0L375.6,44.0L376.6,44.0L377.6,44.0L378.6,44.0L379.6,44.0L380.6,44.0L381.6,44.0L382.6,44.0L383.6,44.0L384.6,44.0L385.6,44.0L386.6,44.0L387.6,44.0L388.6,44.0L389.6,44.0L390.6,44.0L391.6,44.0L392.6,44.0L393.6,44.0L394.6,44.0L395.6,44.0L396.6,44.0L397.6,44.0L398.6,44.0L399.6,44.0L400.6,44.0L401.6,44.0L402.6,44.0L403.6,44.0L404.6,44.0L405.6,44.0L406.6,44.0L407.6,44.0L408.6,44.0L409.6,44.0L410.6,44.0L411.6,44.0L412.6,44.0L413.6,44.0L414.6,44.0L415.6,44.0L416.6,43.9L417.6,43.9L418.6,43.9L419.6,43.9L420.6,43.9L421.6,43.9L422.6,43.9L423.6,43.9L424.6,43.9L425.6,43.9L426.6,43.9L427.6,43.9L428.6,43.9L429.6,43.9L430.6,43.9L431.6,43.9L432.6,43.9L433.6,43.9L434.6,43.9L435.6,43.9L436.6,43.9L437.6,43.9L438.6,43.9L439.6,43.9L440.6,43.9L441.6,43.9L442.6,43.9L443.6,43.9L444.6,43.9L445.6,43.9L446.6,43.9L447.6,43.9L448.6,43.9L449.6,43.9L450.6,43.9L451.6,43.9L452.6,43.8L453.6,43.8L454.6,43.8L455.6,43.8L456.6,43.8L457.6,43.8L458.6,43.8L459.6,43.8L460.6,43.8L461.6,43.8L462.6,43.8L463.6,43.8L464.6,43.8L465.6,43.8L466.6,43.8L467.6,43.8L468.6,43.8L469.6,43.8L470.6,43.8L471.6,43.8L472.6,43.7L473.6,43.7L474.6,43.7L475.6,43.7L476.6,43.7L477.6,43.7L478.6,43.7L479.6,43.7L480.6,43.7L481.6,43.7L482.6,43.7L483.6,43.7L484.6,43.6L485.6,43.6L486.6,43.6L487.6,43.6L488.6,43.6L489.6,43.6L490.6,43.6L491.6,43.6L492.6,43.6L493.6,43.5L494.6,43.5L495.6,43.5L496.6,43.5L497.6,43.5L498.6,43.5L499.6,43.5L500.6,43.4L501.6,43.4L502.6,43.4L503.6,43.4L504.6,43.4L505.6,43.3L506.6,43.3L507.6,43.3L508.6,43.3L509.6,43.3L510.6,43.2L511.6,43.2L512.6,43.2L513.6,43.2L514.6,43.1L515.6,43.1L516.6,43.1L517.6,43.0L518.6,43.0L519.6,43.0L520.6,42.9L521.6,42.9L522.6,42.8L523.6,42.8L524.6,42.7L525.6,42.7L526.6,42.6L527.6,42.6L528.6,42.5L529.6,42.4L530.6,42.3L531.6,42.3L532.6,42.2L533.6,42.1L534.6,42.0L535.6,41.8L536.6,41.7L537.6,41.6L538.6,41.4L539.6,41.2L540.6,41.0L541.6,40.8L542.6,40.6L543.6,40.3L544.6,40.0L545.6,39.7L546.6,39.3L547.6,38.9L548.6,38.5L549.6,38.0L550.6,37.5L551.6,37.0L552.6,36.4L553.6,35.7L554.6,35.0L555.6,34.3L556.6,33.5L557.6,32.7L558.6,31.8L559.6,30.9L560.6,29.9L561.6,29.0L562.6,28.0L563.6,26.9L564.6,25.9L565.6,24.9L566.6,23.9L567.6,22.9L568.6,22.0L569.6,21.2L570.6,20.4L571.6,19.8L572.6,19.3L573.6,19.0L574.6,18.8L575.6,18.8L576.6,19.0L577.6,19.3L578.6,19.8L579.6,20.4L580.6,21.1L581.6,21.9L582.6,22.8L583.6,23.8L584.6,24.8L585.6,25.8L586.6,26.8L587.6,27.9L588.6,28.9L589.6,29.9L590.6,30.8L591.6,31.7L592.6,32.6L593.6,33.4L594.6,34.2L595.6,35.0L596.6,35.7L597.6,36.3L598.6,36.9L599.6,37.5L600.6,38.0L601.6,38.5L602.6,38.9L603.6,39.3L604.6,39.7L605.6,40.0L606.6,40.3L607.6,40.5L608.6,40.8L609.6,41.0L610.6,41.2L611.6,41.4L612.6,41.5L613.6,41.7L614.6,41.8L615.6,41.9L616.6,42.1L617.6,42.2L618.6,42.3L619.6,42.3L620.6,42.4L621.6,42.5L622.6,42.6L623.6,42.6L624.6,42.7L625.6,42.7L626.6,42.8L627.6,42.8L628.6,42.9L629.6,42.9L630.6,43.0L631.6,43.0L632.6,43.0L633.6,43.1L634.6,43.1L635.6,43.1L636.6,43.2L637.6,43.2L638.6,43.2L639.6,43.2L640.6,43.3L641.6,43.3L642.6,43.3L643.6,43.3L644.6,43.3L645.6,43.4L646.6,43.4L647.6,43.4L648.6,43.4L649.6,43.4L650.6,43.5L651.6,43.5L652.6,43.5L653.6,43.5L654.6,43.5L655.6,43.5L656.6,43.5L657.6,43.6L658.6,43.6L659.6,43.6L660.6,43.6L661.6,43.6L662.6,43.6L663.6,43.6L664.6,43.6L665.6,43.6L666.6,43.7L667.6,43.7L668.6,43.7L669.6,43.7L670.6,43.7L670.8,43.7" stroke="#f0842c" stroke-width="1.6"/>
<path d="M367.6,44.0L368.6,44.0L369.6,44.0L370.6,44.0L371.6,44.0L372.6,44.0L373.6,44.0L374.6,44.0L375.6,44.0L376.6,44.0L377.6,44.0L378.6,44.0L379.6,44.0L380.6,44.0L381.6,44.0L382.6,44.0L383.6,44.0L384.6,44.0L385.6,44.0L386.6,44.0L387.6,44.0L388.6,44.0L389.6,44.0L390.6,44.0L391.6,44.0L392.6,44.0L393.6,44.0L394.6,44.0L395.6,44.0L396.6,44.0L397.6,44.0L398.6,44.0L399.6,44.0L400.6,44.0L401.6,44.0L402.6,44.0L403.6,44.0L404.6,44.0L405.6,44.0L406.6,44.0L407.6,44.0L408.6,44.0L409.6,44.0L410.6,44.0L411.6,44.0L412.6,44.0L413.6,44.0L414.6,44.0L415.6,44.0L416.6,44.0L417.6,44.0L418.6,44.0L419.6,44.0L420.6,44.0L421.6,44.0L422.6,44.0L423.6,44.0L424.6,44.0L425.6,44.0L426.6,44.0L427.6,44.0L428.6,44.0L429.6,44.0L430.6,43.9L431.6,43.9L432.6,43.9L433.6,43.9L434.6,43.9L435.6,43.9L436.6,43.9L437.6,43.9L438.6,43.9L439.6,43.9L440.6,43.9L441.6,43.9L442.6,43.9L443.6,43.9L444.6,43.9L445.6,43.9L446.6,43.9L447.6,43.9L448.6,43.9L449.6,43.9L450.6,43.9L451.6,43.9L452.6,43.9L453.6,43.9L454.6,43.9L455.6,43.9L456.6,43.9L457.6,43.9L458.6,43.8L459.6,43.8L460.6,43.8L461.6,43.8L462.6,43.8L463.6,43.8L464.6,43.8L465.6,43.8L466.6,43.8L467.6,43.8L468.6,43.8L469.6,43.8L470.6,43.8L471.6,43.8L472.6,43.8L473.6,43.8L474.6,43.7L475.6,43.7L476.6,43.7L477.6,43.7L478.6,43.7L479.6,43.7L480.6,43.7L481.6,43.7L482.6,43.7L483.6,43.6L484.6,43.6L485.6,43.6L486.6,43.6L487.6,43.6L488.6,43.6L489.6,43.6L490.6,43.5L491.6,43.5L492.6,43.5L493.6,43.5L494.6,43.5L495.6,43.5L496.6,43.4L497.6,43.4L498.6,43.4L499.6,43.4L500.6,43.3L501.6,43.3L502.6,43.3L503.6,43.3L504.6,43.2L505.6,43.2L506.6,43.1L507.6,43.1L508.6,43.1L509.6,43.0L510.6,43.0L511.6,42.9L512.6,42.9L513.6,42.8L514.6,42.7L515.6,42.7L516.6,42.6L517.6,42.5L518.6,42.4L519.6,42.3L520.6,42.1L521.6,42.0L522.6,41.8L523.6,41.7L524.6,41.5L525.6,41.3L526.6,41.0L527.6,40.8L528.6,40.5L529.6,40.2L530.6,39.8L531.6,39.4L532.6,39.0L533.6,38.6L534.6,38.1L535.6,37.6L536.6,37.0L537.6,36.4L538.6,35.8L539.6,35.1L540.6,34.5L541.6,33.8L542.6,33.0L543.6,32.3L544.6,31.6L545.6,30.8L546.6,30.1L547.6,29.5L548.6,28.9L549.6,28.3L550.6,27.8L551.6,27.5L552.6,27.2L553.6,27.1L554.6,27.1L555.6,27.3L556.6,27.5L557.6,27.9L558.6,28.3L559.6,28.9L560.6,29.5L561.6,30.2L562.6,30.9L563.6,31.6L564.6,32.4L565.6,33.1L566.6,33.8L567.6,34.5L568.6,35.2L569.6,35.8L570.6,36.5L571.6,37.0L572.6,37.6L573.6,38.1L574.6,38.6L575.6,39.0L576.6,39.5L577.6,39.8L578.6,40.2L579.6,40.5L580.6,40.8L581.6,41.0L582.6,41.3L583.6,41.5L584.6,41.7L585.6,41.8L586.6,42.0L587.6,42.1L588.6,42.3L589.6,42.4L590.6,42.5L591.6,42.6L592.6,42.7L593.6,42.7L594.6,42.8L595.6,42.9L596.6,42.9L597.6,43.0L598.6,43.0L599.6,43.1L600.6,43.1L601.6,43.2L602.6,43.2L603.6,43.2L604.6,43.3L605.6,43.3L606.6,43.3L607.6,43.3L608.6,43.4L609.6,43.4L610.6,43.4L611.6,43.4L612.6,43.5L613.6,43.5L614.6,43.5L615.6,43.5L616.6,43.5L617.6,43.6L618.6,43.6L619.6,43.6L620.6,43.6L621.6,43.6L622.6,43.6L623.6,43.6L624.6,43.6L625.6,43.7L626.6,43.7L627.6,43.7L628.6,43.7L629.6,43.7L630.6,43.7L631.6,43.7L632.6,43.7L633.6,43.7L634.6,43.8L635.6,43.8L636.6,43.8L637.6,43.8L638.6,43.8L639.6,43.8L640.6,43.8L641.6,43.8L642.6,43.8L643.6,43.8L644.6,43.8L645.6,43.8L646.6,43.8L647.6,43.8L648.6,43.8L649.6,43.8L650.6,43.9L651.6,43.9L652.6,43.9L653.6,43.9L654.6,43.9L655.6,43.9L656.6,43.9L657.6,43.9L658.6,43.9L659.6,43.9L660.6,43.9L661.6,43.9L662.6,43.9L663.6,43.9L664.6,43.9L665.6,43.9L666.6,43.9L667.6,43.9L668.6,43.9L669.6,43.9L670.6,43.9L670.8,43.9" stroke="#a9de8f" stroke-width="1.2"/>
<path d="M367.6,44.0L368.6,44.0L369.6,44.0L370.6,44.0L371.6,44.0L372.6,44.0L373.6,44.0L374.6,44.0L375.6,44.0L376.6,44.0L377.6,44.0L378.6,44.0L379.6,44.0L380.6,44.0L381.6,44.0L382.6,44.0L383.6,44.0L384.6,43.9L385.6,43.9L386.6,43.9L387.6,43.9L388.6,43.9L389.6,43.9L390.6,43.9L391.6,43.9L392.6,43.9L393.6,43.9L394.6,43.9L395.6,43.9L396.6,43.9L397.6,43.9L398.6,43.9L399.6,43.9L400.6,43.9L401.6,43.9L402.6,43.8L403.6,43.8L404.6,43.8L405.6,43.8L406.6,43.8L407.6,43.8L408.6,43.8L409.6,43.8L410.6,43.8L411.6,43.7L412.6,43.7L413.6,43.7L414.6,43.7L415.6,43.7L416.6,43.6L417.6,43.6L418.6,43.6L419.6,43.5L420.6,43.5L421.6,43.5L422.6,43.4L423.6,43.4L424.6,43.3L425.6,43.3L426.6,43.2L427.6,43.1L428.6,43.0L429.6,42.9L430.6,42.8L431.6,42.7L432.6,42.6L433.6,42.5L434.6,42.3L435.6,42.2L436.6,42.0L437.6,41.9L438.6,41.7L439.6,41.5L440.6,41.3L441.6,41.0L442.6,40.8L443.6,40.6L444.6,40.3L445.6,40.1L446.6,39.9L447.6,39.6L448.6,39.4L449.6,39.1L450.6,38.9L451.6,38.7L452.6,38.5L453.6,38.3L454.6,38.1L455.6,38.0L456.6,37.9L457.6,37.8L458.6,37.8L459.6,37.8L460.6,37.9L461.6,38.0L462.6,38.1L463.6,38.2L464.6,38.4L465.6,38.6L466.6,38.8L467.6,39.1L468.6,39.3L469.6,39.5L470.6,39.8L471.6,40.0L472.6,40.3L473.6,40.5L474.6,40.8L475.6,41.0L476.6,41.2L477.6,41.4L478.6,41.6L479.6,41.8L480.6,42.0L481.6,42.2L482.6,42.3L483.6,42.5L484.6,42.6L485.6,42.7L486.6,42.8L487.6,42.9L488.6,43.0L489.6,43.1L490.6,43.2L491.6,43.2L492.6,43.3L493.6,43.4L494.6,43.4L495.6,43.5L496.6,43.5L497.6,43.5L498.6,43.6L499.6,43.6L500.6,43.6L501.6,43.7L502.6,43.7L503.6,43.7L504.6,43.7L505.6,43.7L506.6,43.7L507.6,43.8L508.6,43.8L509.6,43.8L510.6,43.8L511.6,43.8L512.6,43.8L513.6,43.8L514.6,43.8L515.6,43.8L516.6,43.9L517.6,43.9L518.6,43.9L519.6,43.9L520.6,43.9L521.6,43.9L522.6,43.9L523.6,43.9L524.6,43.9L525.6,43.9L526.6,43.9L527.6,43.9L528.6,43.9L529.6,43.9L530.6,43.9L531.6,43.9L532.6,43.9L533.6,44.0L534.6,44.0L535.6,44.0L536.6,44.0L537.6,44.0L538.6,44.0L539.6,44.0L540.6,44.0L541.6,44.0L542.6,44.0L543.6,44.0L544.6,44.0L545.6,44.0L546.6,44.0L547.6,44.0L548.6,44.0L549.6,44.0L550.6,44.0L551.6,44.0L552.6,44.0L553.6,44.0L554.6,44.0L555.6,44.0L556.6,44.0L557.6,44.0L558.6,44.0L559.6,44.0L560.6,44.0L561.6,44.0L562.6,44.0L563.6,44.0L564.6,44.0L565.6,44.0L566.6,44.0L567.6,44.0L568.6,44.0L569.6,44.0L570.6,44.0L571.6,44.0L572.6,44.0L573.6,44.0L574.6,44.0L575.6,44.0L576.6,44.0L577.6,44.0L578.6,44.0L579.6,44.0L580.6,44.0L581.6,44.0L582.6,44.0L583.6,44.0L584.6,44.0L585.6,44.0L586.6,44.0L587.6,44.0L588.6,44.0L589.6,44.0L590.6,44.1L591.6,44.1L592.6,44.1L593.6,44.1L594.6,44.1L595.6,44.1L596.6,44.1L597.6,44.1L598.6,44.1L599.6,44.1L600.6,44.1L601.6,44.1L602.6,44.1L603.6,44.1L604.6,44.1L605.6,44.1L606.6,44.1L607.6,44.1L608.6,44.1L609.6,44.1L610.6,44.1L611.6,44.1L612.6,44.1L613.6,44.1L614.6,44.1L615.6,44.1L616.6,44.1L617.6,44.1L618.6,44.1L619.6,44.1L620.6,44.1L621.6,44.1L622.6,44.1L623.6,44.1L624.6,44.1L625.6,44.1L626.6,44.1L627.6,44.1L628.6,44.1L629.6,44.1L630.6,44.1L631.6,44.1L632.6,44.1L633.6,44.1L634.6,44.1L635.6,44.1L636.6,44.1L637.6,44.1L638.6,44.1L639.6,44.1L640.6,44.1L641.6,44.1L642.6,44.1L643.6,44.1L644.6,44.1L645.6,44.1L646.6,44.1L647.6,44.1L648.6,44.1L649.6,44.1L650.6,44.1L651.6,44.1L652.6,44.1L653.6,44.1L654.6,44.1L655.6,44.1L656.6,44.1L657.6,44.1L658.6,44.1L659.6,44.1L660.6,44.1L661.6,44.1L662.6,44.1L663.6,44.1L664.6,44.1L665.6,44.1L666.6,44.1L667.6,44.1L668.6,44.1L669.6,44.1L670.6,44.1L670.8,44.1" stroke="#a854f6" stroke-width="1.6"/>
<path d="M367.6,44.0L368.6,44.0L369.6,44.0L370.6,44.0L371.6,43.9L372.6,43.9L373.6,43.9L374.6,43.9L375.6,43.9L376.6,43.9L377.6,43.9L378.6,43.9L379.6,43.9L380.6,43.9L381.6,43.9L382.6,43.9L383.6,43.9L384.6,43.8L385.6,43.8L386.6,43.8L387.6,43.8L388.6,43.8L389.6,43.8L390.6,43.8L391.6,43.7L392.6,43.7L393.6,43.7L394.6,43.7L395.6,43.6L396.6,43.6L397.6,43.6L398.6,43.6L399.6,43.5L400.6,43.5L401.6,43.4L402.6,43.4L403.6,43.4L404.6,43.3L405.6,43.3L406.6,43.2L407.6,43.2L408.6,43.1L409.6,43.0L410.6,43.0L411.6,42.9L412.6,42.8L413.6,42.8L414.6,42.7L415.6,42.6L416.6,42.5L417.6,42.5L418.6,42.4L419.6,42.3L420.6,42.2L421.6,42.1L422.6,42.1L423.6,42.0L424.6,41.9L425.6,41.8L426.6,41.8L427.6,41.7L428.6,41.6L429.6,41.6L430.6,41.5L431.6,41.4L432.6,41.4L433.6,41.4L434.6,41.3L435.6,41.3L436.6,41.3L437.6,41.3L438.6,41.3L439.6,41.3L440.6,41.3L441.6,41.4L442.6,41.4L443.6,41.5L444.6,41.5L445.6,41.6L446.6,41.7L447.6,41.7L448.6,41.8L449.6,41.9L450.6,41.9L451.6,42.0L452.6,42.1L453.6,42.2L454.6,42.3L455.6,42.4L456.6,42.4L457.6,42.5L458.6,42.6L459.6,42.7L460.6,42.7L461.6,42.8L462.6,42.9L463.6,42.9L464.6,43.0L465.6,43.1L466.6,43.1L467.6,43.2L468.6,43.2L469.6,43.3L470.6,43.3L471.6,43.4L472.6,43.4L473.6,43.5L474.6,43.5L475.6,43.5L476.6,43.6L477.6,43.6L478.6,43.6L479.6,43.7L480.6,43.7L481.6,43.7L482.6,43.7L483.6,43.7L484.6,43.8L485.6,43.8L486.6,43.8L487.6,43.8L488.6,43.8L489.6,43.8L490.6,43.9L491.6,43.9L492.6,43.9L493.6,43.9L494.6,43.9L495.6,43.9L496.6,43.9L497.6,43.9L498.6,43.9L499.6,43.9L500.6,43.9L501.6,43.9L502.6,43.9L503.6,43.9L504.6,44.0L505.6,44.0L506.6,44.0L507.6,44.0L508.6,44.0L509.6,44.0L510.6,44.0L511.6,44.0L512.6,44.0L513.6,44.0L514.6,44.0L515.6,44.0L516.6,44.0L517.6,44.0L518.6,44.0L519.6,44.0L520.6,44.0L521.6,44.0L522.6,44.0L523.6,44.0L524.6,44.0L525.6,44.0L526.6,44.0L527.6,44.0L528.6,44.0L529.6,44.0L530.6,44.0L531.6,44.0L532.6,44.0L533.6,44.0L534.6,44.0L535.6,44.0L536.6,44.0L537.6,44.0L538.6,44.0L539.6,44.0L540.6,44.0L541.6,44.0L542.6,44.0L543.6,44.0L544.6,44.0L545.6,44.0L546.6,44.0L547.6,44.0L548.6,44.0L549.6,44.0L550.6,44.0L551.6,44.0L552.6,44.0L553.6,44.0L554.6,44.0L555.6,44.1L556.6,44.1L557.6,44.1L558.6,44.1L559.6,44.1L560.6,44.1L561.6,44.1L562.6,44.1L563.6,44.1L564.6,44.1L565.6,44.1L566.6,44.1L567.6,44.1L568.6,44.1L569.6,44.1L570.6,44.1L571.6,44.1L572.6,44.1L573.6,44.1L574.6,44.1L575.6,44.1L576.6,44.1L577.6,44.1L578.6,44.1L579.6,44.1L580.6,44.1L581.6,44.1L582.6,44.1L583.6,44.1L584.6,44.1L585.6,44.1L586.6,44.1L587.6,44.1L588.6,44.1L589.6,44.1L590.6,44.1L591.6,44.1L592.6,44.1L593.6,44.1L594.6,44.1L595.6,44.1L596.6,44.1L597.6,44.1L598.6,44.1L599.6,44.1L600.6,44.1L601.6,44.1L602.6,44.1L603.6,44.1L604.6,44.1L605.6,44.1L606.6,44.1L607.6,44.1L608.6,44.1L609.6,44.1L610.6,44.1L611.6,44.1L612.6,44.1L613.6,44.1L614.6,44.1L615.6,44.1L616.6,44.1L617.6,44.1L618.6,44.1L619.6,44.1L620.6,44.1L621.6,44.1L622.6,44.1L623.6,44.1L624.6,44.1L625.6,44.1L626.6,44.1L627.6,44.1L628.6,44.1L629.6,44.1L630.6,44.1L631.6,44.1L632.6,44.1L633.6,44.1L634.6,44.1L635.6,44.1L636.6,44.1L637.6,44.1L638.6,44.1L639.6,44.1L640.6,44.1L641.6,44.1L642.6,44.1L643.6,44.1L644.6,44.1L645.6,44.1L646.6,44.1L647.6,44.1L648.6,44.1L649.6,44.1L650.6,44.1L651.6,44.1L652.6,44.1L653.6,44.1L654.6,44.1L655.6,44.1L656.6,44.1L657.6,44.1L658.6,44.1L659.6,44.1L660.6,44.1L661.6,44.1L662.6,44.1L663.6,44.1L664.6,44.1L665.6,44.1L666.6,44.1L667.6,44.1L668.6,44.1L669.6,44.1L670.6,44.1L670.8,44.1" stroke="#f66bd0" stroke-width="1.4"/>
<line x1="367.6" y1="44.8" x2="670.8" y2="44.8" stroke="#f2a2e2" stroke-width="1.5" />
<path d="M367.6,73.6L368.1,73.5L368.6,73.5L369.1,73.4L369.6,73.5L370.1,73.4L370.6,73.3L371.1,73.3L371.6,73.4L372.1,73.4L372.6,73.5L373.1,73.4L373.6,73.6L374.1,73.5L374.6,73.5L375.1,73.4L375.6,73.3L376.1,73.3L376.6,73.3L377.1,73.2L377.6,73.3L378.1,73.3L378.6,73.2L379.1,73.2L379.6,73.2L380.1,73.3L380.6,73.1L381.1,73.1L381.6,73.0L382.1,73.1L382.6,73.1L383.1,73.1L383.6,73.1L384.1,73.3L384.6,73.3L385.1,73.2L385.6,73.2L386.1,73.2L386.6,73.2L387.1,73.1L387.6,73.0L388.1,73.0L388.6,73.0L389.1,73.0L389.6,72.9L390.1,73.0L390.6,73.0L391.1,73.0L391.6,73.0L392.1,73.0L392.6,73.0L393.1,73.0L393.6,72.9L394.1,72.8L394.6,72.9L395.1,72.8L395.6,72.8L396.1,72.9L396.6,72.9L397.1,72.9L397.6,72.9L398.1,72.8L398.6,72.8L399.1,72.7L399.6,72.7L400.1,72.6L400.6,72.4L401.1,72.5L401.6,72.4L402.1,72.3L402.6,72.4L403.1,72.3L403.6,72.3L404.1,72.3L404.6,72.1L405.1,72.0L405.6,71.9L406.1,71.7L406.6,71.6L407.1,71.6L407.6,71.7L408.1,71.6L408.6,71.6L409.1,71.6L409.6,71.6L410.1,71.4L410.6,71.2L411.1,71.0L411.6,70.9L412.1,70.7L412.6,70.6L413.1,70.6L413.6,70.6L414.1,70.6L414.6,70.6L415.1,70.6L415.6,70.4L416.1,70.4L416.6,70.2L417.1,70.1L417.6,70.0L418.1,69.8L418.6,69.7L419.1,69.5L419.6,69.4L420.1,69.2L420.6,69.0L421.1,68.8L421.6,68.6L422.1,68.5L422.6,68.3L423.1,68.1L423.6,68.1L424.1,67.8L424.6,67.6L425.1,67.4L425.6,67.0L426.1,66.9L426.6,66.7L427.1,66.4L427.6,66.4L428.1,66.3L428.6,66.1L429.1,66.0L429.6,65.7L430.1,65.6L430.6,65.3L431.1,64.9L431.6,64.6L432.1,64.4L432.6,64.1L433.1,63.9L433.6,63.4L434.1,63.1L434.6,62.7L435.1,62.4L435.6,62.2L436.1,61.8L436.6,61.6L437.1,61.4L437.6,61.2L438.1,61.1L438.6,60.8L439.1,60.4L439.6,60.2L440.1,59.9L440.6,59.6L441.1,59.4L441.6,59.1L442.1,58.8L442.6,58.6L443.1,58.3L443.6,58.1L444.1,57.8L444.6,57.6L445.1,57.4L445.6,57.1L446.1,56.9L446.6,56.7L447.1,56.5L447.6,56.3L448.1,56.2L448.6,56.0L449.1,55.7L449.6,55.5L450.1,55.5L450.6,55.2L451.1,55.1L451.6,54.8L452.1,54.7L452.6,54.8L453.1,54.7L453.6,54.6L454.1,54.6L454.6,54.5L455.1,54.4L455.6,54.3L456.1,54.2L456.6,54.1L457.1,54.1L457.6,54.0L458.1,53.8L458.6,54.0L459.1,54.0L459.6,54.0L460.1,54.0L460.6,54.0L461.1,54.0L461.6,54.3L462.1,54.3L462.6,54.3L463.1,54.3L463.6,54.4L464.1,54.6L464.6,54.9L465.1,55.1L465.6,55.3L466.1,55.4L466.6,55.7L467.1,56.0L467.6,56.1L468.1,56.3L468.6,56.4L469.1,56.6L469.6,57.0L470.1,57.1L470.6,57.2L471.1,57.6L471.6,57.8L472.1,58.2L472.6,58.6L473.1,58.8L473.6,59.3L474.1,59.6L474.6,59.9L475.1,60.2L475.6,60.6L476.1,60.9L476.6,61.4L477.1,61.6L477.6,61.9L478.1,62.1L478.6,62.3L479.1,62.6L479.6,62.8L480.1,62.9L480.6,63.2L481.1,63.5L481.6,63.8L482.1,64.0L482.6,64.4L483.1,64.7L483.6,64.9L484.1,65.3L484.6,65.5L485.1,65.8L485.6,66.0L486.1,66.2L486.6,66.4L487.1,66.7L487.6,66.9L488.1,67.2L488.6,67.4L489.1,67.8L489.6,68.0L490.1,68.1L490.6,68.3L491.1,68.5L491.6,68.7L492.1,69.0L492.6,69.1L493.1,69.4L493.6,69.5L494.1,69.7L494.6,69.8L495.1,70.0L495.6,70.1L496.1,70.2L496.6,70.3L497.1,70.5L497.6,70.6L498.1,70.7L498.6,70.6L499.1,70.9L499.6,71.0L500.1,71.1L500.6,71.1L501.1,71.2L501.6,71.3L502.1,71.4L502.6,71.4L503.1,71.4L503.6,71.5L504.1,71.7L504.6,71.8L505.1,71.9L505.6,71.9L506.1,72.0L506.6,72.1L507.1,72.2L507.6,72.2L508.1,72.3L508.6,72.4L509.1,72.4L509.6,72.4L510.1,72.4L510.6,72.3L511.1,72.4L511.6,72.5L512.1,72.6L512.6,72.8L513.1,72.9L513.6,73.0L514.1,73.0L514.6,73.0L515.1,72.9L515.6,72.9L516.1,72.8L516.6,72.7L517.1,72.7L517.6,72.8L518.1,72.9L518.6,73.0L519.1,72.9L519.6,73.0L520.1,73.0L520.6,73.1L521.1,73.0L521.6,72.9L522.1,73.0L522.6,72.9L523.1,72.9L523.6,73.0L524.1,72.9L524.6,72.9L525.1,73.0L525.6,72.9L526.1,73.0L526.6,73.1L527.1,73.1L527.6,73.2L528.1,73.3L528.6,73.2L529.1,73.3L529.6,73.3L530.1,73.3L530.6,73.3L531.1,73.3L531.6,73.3L532.1,73.4L532.6,73.3L533.1,73.3L533.6,73.3L534.1,73.3L534.6,73.3L535.1,73.3L535.6,73.3L536.1,73.3L536.6,73.4L537.1,73.4L537.6,73.5L538.1,73.6L538.6,73.5L539.1,73.6L539.6,73.7L540.1,73.7L540.6,73.7L541.1,73.7L541.6,73.6L542.1,73.6L542.6,73.6L543.1,73.6L543.6,73.5L544.1,73.5L544.6,73.4L545.1,73.4L545.6,73.5L546.1,73.4L546.6,73.4L547.1,73.4L547.6,73.4L548.1,73.5L548.6,73.4L549.1,73.5L549.6,73.5L550.1,73.5L550.6,73.5L551.1,73.4L551.6,73.5L552.1,73.5L552.6,73.3L553.1,73.4L553.6,73.3L554.1,73.3L554.6,73.5L555.1,73.4L555.6,73.3L556.1,73.3L556.6,73.3L557.1,73.4L557.6,73.4L558.1,73.4L558.6,73.4L559.1,73.5L559.6,73.4L560.1,73.3L560.6,73.2L561.1,73.2L561.6,73.2L562.1,73.4L562.6,73.3L563.1,73.4L563.6,73.5L564.1,73.7L564.6,73.6L565.1,73.6L565.6,73.5L566.1,73.5L566.6,73.4L567.1,73.5L567.6,73.6L568.1,73.6L568.6,73.6L569.1,73.6L569.6,73.7L570.1,73.8L570.6,73.7L571.1,73.7L571.6,73.7L572.1,73.7L572.6,73.7L573.1,73.7L573.6,73.8L574.1,73.7L574.6,73.7L575.1,73.6L575.6,73.8L576.1,73.7L576.6,73.8L577.1,73.6L577.6,73.7L578.1,73.6L578.6,73.6L579.1,73.5L579.6,73.6L580.1,73.6L580.6,73.7L581.1,73.7L581.6,73.7L582.1,73.8L582.6,73.9L583.1,73.9L583.6,73.9L584.1,73.8L584.6,73.8L585.1,73.8L585.6,73.8L586.1,73.6L586.6,73.6L587.1,73.5L587.6,73.6L588.1,73.5L588.6,73.5L589.1,73.4L589.6,73.5L590.1,73.6L590.6,73.5L591.1,73.5L591.6,73.5L592.1,73.5L592.6,73.4L593.1,73.4L593.6,73.3L594.1,73.5L594.6,73.4L595.1,73.5L595.6,73.5L596.1,73.6L596.6,73.7L597.1,73.7L597.6,73.8L598.1,74.0L598.6,73.9L599.1,74.0L599.6,73.9L600.1,73.9L600.6,73.9L601.1,73.8L601.6,73.8L602.1,73.9L602.6,73.8L603.1,73.9L603.6,74.0L604.1,74.0L604.6,74.0L605.1,74.1L605.6,74.1L606.1,74.0L606.6,73.9L607.1,73.8L607.6,73.8L608.1,73.9L608.6,73.8L609.1,73.7L609.6,73.9L610.1,73.9L610.6,73.9L611.1,73.9L611.6,73.8" stroke="#e6e6e6" stroke-width="4.2" stroke-linecap="round"/>
<g stroke="#d6d6d6" stroke-width="0.8"><circle cx="367.6" cy="73.6" r="1.9"/><circle cx="370.6" cy="73.3" r="1.9"/><circle cx="373.6" cy="73.6" r="1.9"/><circle cx="376.6" cy="73.3" r="1.9"/><circle cx="379.6" cy="73.2" r="1.9"/><circle cx="382.6" cy="73.1" r="1.9"/><circle cx="385.6" cy="73.2" r="1.9"/><circle cx="388.6" cy="73.0" r="1.9"/><circle cx="391.6" cy="73.0" r="1.9"/><circle cx="394.6" cy="72.9" r="1.9"/><circle cx="397.6" cy="72.9" r="1.9"/><circle cx="400.6" cy="72.4" r="1.9"/><circle cx="403.6" cy="72.3" r="1.9"/><circle cx="406.6" cy="71.6" r="1.9"/><circle cx="409.6" cy="71.6" r="1.9"/><circle cx="412.6" cy="70.6" r="1.9"/><circle cx="415.6" cy="70.4" r="1.9"/><circle cx="418.6" cy="69.7" r="1.9"/><circle cx="421.6" cy="68.6" r="1.9"/><circle cx="424.6" cy="67.6" r="1.9"/><circle cx="427.6" cy="66.4" r="1.9"/><circle cx="430.6" cy="65.3" r="1.9"/><circle cx="433.6" cy="63.4" r="1.9"/><circle cx="436.6" cy="61.6" r="1.9"/><circle cx="439.6" cy="60.2" r="1.9"/><circle cx="442.6" cy="58.6" r="1.9"/><circle cx="445.6" cy="57.1" r="1.9"/><circle cx="448.6" cy="56.0" r="1.9"/><circle cx="451.6" cy="54.8" r="1.9"/><circle cx="454.6" cy="54.5" r="1.9"/><circle cx="457.6" cy="54.0" r="1.9"/><circle cx="460.6" cy="54.0" r="1.9"/><circle cx="463.6" cy="54.4" r="1.9"/><circle cx="466.6" cy="55.7" r="1.9"/><circle cx="469.6" cy="57.0" r="1.9"/><circle cx="472.6" cy="58.6" r="1.9"/><circle cx="475.6" cy="60.6" r="1.9"/><circle cx="478.6" cy="62.3" r="1.9"/><circle cx="481.6" cy="63.8" r="1.9"/><circle cx="484.6" cy="65.5" r="1.9"/><circle cx="487.6" cy="66.9" r="1.9"/><circle cx="490.6" cy="68.3" r="1.9"/><circle cx="493.6" cy="69.5" r="1.9"/><circle cx="496.6" cy="70.3" r="1.9"/><circle cx="499.6" cy="71.0" r="1.9"/><circle cx="502.6" cy="71.4" r="1.9"/><circle cx="505.6" cy="71.9" r="1.9"/><circle cx="508.6" cy="72.4" r="1.9"/><circle cx="511.6" cy="72.5" r="1.9"/><circle cx="514.6" cy="73.0" r="1.9"/><circle cx="517.6" cy="72.8" r="1.9"/><circle cx="520.6" cy="73.1" r="1.9"/><circle cx="523.6" cy="73.0" r="1.9"/><circle cx="526.6" cy="73.1" r="1.9"/><circle cx="529.6" cy="73.3" r="1.9"/><circle cx="532.6" cy="73.3" r="1.9"/><circle cx="535.6" cy="73.3" r="1.9"/><circle cx="538.6" cy="73.5" r="1.9"/><circle cx="541.6" cy="73.6" r="1.9"/><circle cx="544.6" cy="73.4" r="1.9"/><circle cx="547.6" cy="73.4" r="1.9"/><circle cx="550.6" cy="73.5" r="1.9"/><circle cx="553.6" cy="73.3" r="1.9"/><circle cx="556.6" cy="73.3" r="1.9"/><circle cx="559.6" cy="73.4" r="1.9"/><circle cx="562.6" cy="73.3" r="1.9"/><circle cx="565.6" cy="73.5" r="1.9"/><circle cx="568.6" cy="73.6" r="1.9"/><circle cx="571.6" cy="73.7" r="1.9"/><circle cx="574.6" cy="73.7" r="1.9"/><circle cx="577.6" cy="73.7" r="1.9"/><circle cx="580.6" cy="73.7" r="1.9"/><circle cx="583.6" cy="73.9" r="1.9"/><circle cx="586.6" cy="73.6" r="1.9"/><circle cx="589.6" cy="73.5" r="1.9"/><circle cx="592.6" cy="73.4" r="1.9"/><circle cx="595.6" cy="73.5" r="1.9"/><circle cx="598.6" cy="73.9" r="1.9"/><circle cx="601.6" cy="73.8" r="1.9"/><circle cx="604.6" cy="74.0" r="1.9"/><circle cx="607.6" cy="73.8" r="1.9"/><circle cx="610.6" cy="73.9" r="1.9"/></g>
<path d="M367.6,72.6L368.6,72.6L369.6,72.6L370.6,72.6L371.6,72.5L372.6,72.5L373.6,72.5L374.6,72.5L375.6,72.5L376.6,72.5L377.6,72.5L378.6,72.5L379.6,72.5L380.6,72.4L381.6,72.4L382.6,72.4L383.6,72.4L384.6,72.4L385.6,72.4L386.6,72.3L387.6,72.3L388.6,72.3L389.6,72.3L390.6,72.2L391.6,72.2L392.6,72.2L393.6,72.2L394.6,72.1L395.6,72.1L396.6,72.1L397.6,72.0L398.6,72.0L399.6,71.9L400.6,71.9L401.6,71.8L402.6,71.7L403.6,71.7L404.6,71.6L405.6,71.5L406.6,71.4L407.6,71.3L408.6,71.2L409.6,71.1L410.6,71.0L411.6,70.8L412.6,70.7L413.6,70.5L414.6,70.4L415.6,70.2L416.6,70.0L417.6,69.7L418.6,69.5L419.6,69.2L420.6,69.0L421.6,68.7L422.6,68.4L423.6,68.0L424.6,67.7L425.6,67.3L426.6,66.9L427.6,66.5L428.6,66.1L429.6,65.6L430.6,65.1L431.6,64.7L432.6,64.1L433.6,63.6L434.6,63.1L435.6,62.5L436.6,62.0L437.6,61.4L438.6,60.8L439.6,60.3L440.6,59.7L441.6,59.2L442.6,58.6L443.6,58.1L444.6,57.6L445.6,57.1L446.6,56.6L447.6,56.1L448.6,55.7L449.6,55.3L450.6,55.0L451.6,54.7L452.6,54.4L453.6,54.1L454.6,53.9L455.6,53.7L456.6,53.6L457.6,53.5L458.6,53.5L459.6,53.5L460.6,53.6L461.6,53.7L462.6,53.9L463.6,54.1L464.6,54.5L465.6,54.8L466.6,55.2L467.6,55.7L468.6,56.2L469.6,56.8L470.6,57.4L471.6,58.0L472.6,58.6L473.6,59.3L474.6,59.9L475.6,60.6L476.6,61.2L477.6,61.8L478.6,62.5L479.6,63.1L480.6,63.7L481.6,64.3L482.6,64.8L483.6,65.4L484.6,65.9L485.6,66.4L486.6,66.8L487.6,67.3L488.6,67.7L489.6,68.1L490.6,68.4L491.6,68.8L492.6,69.1L493.6,69.4L494.6,69.6L495.6,69.9L496.6,70.1L497.6,70.3L498.6,70.5L499.6,70.7L500.6,70.8L501.6,71.0L502.6,71.1L503.6,71.2L504.6,71.3L505.6,71.4L506.6,71.5L507.6,71.6L508.6,71.7L509.6,71.8L510.6,71.8L511.6,71.9L512.6,71.9L513.6,72.0L514.6,72.0L515.6,72.0L516.6,72.1L517.6,72.1L518.6,72.1L519.6,72.2L520.6,72.2L521.6,72.2L522.6,72.3L523.6,72.3L524.6,72.3L525.6,72.3L526.6,72.3L527.6,72.4L528.6,72.4L529.6,72.4L530.6,72.4L531.6,72.4L532.6,72.4L533.6,72.5L534.6,72.5L535.6,72.5L536.6,72.5L537.6,72.5L538.6,72.5L539.6,72.5L540.6,72.5L541.6,72.5L542.6,72.6L543.6,72.6L544.6,72.6L545.6,72.6L546.6,72.6L547.6,72.6L548.6,72.6L549.6,72.6L550.6,72.6L551.6,72.6L552.6,72.6L553.6,72.7L554.6,72.7L555.6,72.7L556.6,72.7L557.6,72.7L558.6,72.7L559.6,72.7L560.6,72.7L561.6,72.7L562.6,72.7L563.6,72.7L564.6,72.7L565.6,72.7L566.6,72.7L567.6,72.7L568.6,72.7L569.6,72.7L570.6,72.7L571.6,72.8L572.6,72.8L573.6,72.8L574.6,72.8L575.6,72.8L576.6,72.8L577.6,72.8L578.6,72.8L579.6,72.8L580.6,72.8L581.6,72.8L582.6,72.8L583.6,72.8L584.6,72.8L585.6,72.8L586.6,72.8L587.6,72.8L588.6,72.8L589.6,72.8L590.6,72.8L591.6,72.8L592.6,72.8L593.6,72.8L594.6,72.8L595.0,72.8" stroke="#47b9e6" stroke-width="1.65"/>
<path d="M367.6,72.8L368.6,72.8L369.6,72.8L370.6,72.8L371.6,72.8L372.6,72.8L373.6,72.8L374.6,72.8L375.6,72.7L376.6,72.7L377.6,72.7L378.6,72.7L379.6,72.7L380.6,72.7L381.6,72.7L382.6,72.7L383.6,72.7L384.6,72.7L385.6,72.7L386.6,72.7L387.6,72.7L388.6,72.7L389.6,72.6L390.6,72.6L391.6,72.6L392.6,72.6L393.6,72.6L394.6,72.6L395.6,72.6L396.6,72.6L397.6,72.6L398.6,72.6L399.6,72.5L400.6,72.5L401.6,72.5L402.6,72.5L403.6,72.5L404.6,72.5L405.6,72.4L406.6,72.4L407.6,72.4L408.6,72.4L409.6,72.3L410.6,72.3L411.6,72.3L412.6,72.2L413.6,72.2L414.6,72.2L415.6,72.1L416.6,72.1L417.6,72.0L418.6,72.0L419.6,71.9L420.6,71.8L421.6,71.7L422.6,71.7L423.6,71.6L424.6,71.4L425.6,71.3L426.6,71.2L427.6,71.0L428.6,70.9L429.6,70.7L430.6,70.5L431.6,70.3L432.6,70.1L433.6,69.8L434.6,69.6L435.6,69.3L436.6,69.0L437.6,68.7L438.6,68.3L439.6,67.9L440.6,67.6L441.6,67.2L442.6,66.7L443.6,66.3L444.6,65.8L445.6,65.4L446.6,64.9L447.6,64.4L448.6,63.9L449.6,63.4L450.6,62.9L451.6,62.4L452.6,61.9L453.6,61.4L454.6,61.0L455.6,60.6L456.6,60.2L457.6,59.8L458.6,59.5L459.6,59.3L460.6,59.1L461.6,58.9L462.6,58.8L463.6,58.8L464.6,58.8L465.6,59.0L466.6,59.1L467.6,59.3L468.6,59.6L469.6,60.0L470.6,60.3L471.6,60.7L472.6,61.2L473.6,61.6L474.6,62.1L475.6,62.6L476.6,63.1L477.6,63.6L478.6,64.1L479.6,64.6L480.6,65.1L481.6,65.5L482.6,66.0L483.6,66.5L484.6,66.9L485.6,67.3L486.6,67.7L487.6,68.1L488.6,68.4L489.6,68.8L490.6,69.1L491.6,69.4L492.6,69.7L493.6,69.9L494.6,70.2L495.6,70.4L496.6,70.6L497.6,70.8L498.6,70.9L499.6,71.1L500.6,71.2L501.6,71.4L502.6,71.5L503.6,71.6L504.6,71.7L505.6,71.8L506.6,71.9L507.6,71.9L508.6,72.0L509.6,72.0L510.6,72.1L511.6,72.1L512.6,72.2L513.6,72.2L514.6,72.3L515.6,72.3L516.6,72.3L517.6,72.4L518.6,72.4L519.6,72.4L520.6,72.4L521.6,72.4L522.6,72.5L523.6,72.5L524.6,72.5L525.6,72.5L526.6,72.5L527.6,72.5L528.6,72.6L529.6,72.6L530.6,72.6L531.6,72.6L532.6,72.6L533.6,72.6L534.6,72.6L535.6,72.6L536.6,72.6L537.6,72.7L538.6,72.7L539.6,72.7L540.6,72.7L541.6,72.7L542.6,72.7L543.6,72.7L544.6,72.7L545.6,72.7L546.6,72.7L547.6,72.7L548.6,72.7L549.6,72.7L550.6,72.7L551.6,72.7L552.6,72.8L553.6,72.8L554.6,72.8L555.6,72.8L556.6,72.8L557.6,72.8L558.6,72.8L559.6,72.8L560.6,72.8L561.6,72.8L562.6,72.8L563.6,72.8L564.6,72.8L565.6,72.8L566.6,72.8L567.6,72.8L568.6,72.8L569.6,72.8L570.6,72.8L571.6,72.8L572.6,72.8L573.6,72.8L574.6,72.8L575.6,72.8L576.6,72.8L577.6,72.8L578.6,72.9L579.6,72.9L580.6,72.9L581.6,72.9L582.6,72.9L583.6,72.9L584.6,72.9L585.6,72.9L586.6,72.9L587.6,72.9L588.6,72.9L589.6,72.9L590.6,72.9L591.6,72.9L592.6,72.9L593.6,72.9L594.6,72.9L595.0,72.9" stroke="#a854f6" stroke-width="1.6"/>
<path d="M367.6,73.4L368.6,73.4L369.6,73.4L370.6,73.4L371.6,73.4L372.6,73.4L373.6,73.4L374.6,73.4L375.6,73.4L376.6,73.4L377.6,73.3L378.6,73.3L379.6,73.3L380.6,73.3L381.6,73.3L382.6,73.3L383.6,73.3L384.6,73.3L385.6,73.3L386.6,73.3L387.6,73.2L388.6,73.2L389.6,73.2L390.6,73.2L391.6,73.2L392.6,73.2L393.6,73.1L394.6,73.1L395.6,73.1L396.6,73.1L397.6,73.0L398.6,73.0L399.6,73.0L400.6,72.9L401.6,72.9L402.6,72.9L403.6,72.8L404.6,72.7L405.6,72.7L406.6,72.6L407.6,72.5L408.6,72.5L409.6,72.4L410.6,72.3L411.6,72.2L412.6,72.0L413.6,71.9L414.6,71.8L415.6,71.6L416.6,71.5L417.6,71.3L418.6,71.1L419.6,70.9L420.6,70.7L421.6,70.5L422.6,70.3L423.6,70.1L424.6,69.8L425.6,69.6L426.6,69.3L427.6,69.1L428.6,68.8L429.6,68.5L430.6,68.2L431.6,67.9L432.6,67.7L433.6,67.4L434.6,67.1L435.6,66.9L436.6,66.6L437.6,66.4L438.6,66.1L439.6,65.9L440.6,65.8L441.6,65.6L442.6,65.5L443.6,65.4L444.6,65.3L445.6,65.3L446.6,65.3L447.6,65.4L448.6,65.4L449.6,65.5L450.6,65.7L451.6,65.9L452.6,66.0L453.6,66.3L454.6,66.5L455.6,66.7L456.6,67.0L457.6,67.3L458.6,67.5L459.6,67.8L460.6,68.1L461.6,68.4L462.6,68.7L463.6,68.9L464.6,69.2L465.6,69.5L466.6,69.7L467.6,70.0L468.6,70.2L469.6,70.4L470.6,70.6L471.6,70.9L472.6,71.0L473.6,71.2L474.6,71.4L475.6,71.6L476.6,71.7L477.6,71.9L478.6,72.0L479.6,72.1L480.6,72.2L481.6,72.3L482.6,72.4L483.6,72.5L484.6,72.6L485.6,72.6L486.6,72.7L487.6,72.8L488.6,72.8L489.6,72.9L490.6,72.9L491.6,73.0L492.6,73.0L493.6,73.0L494.6,73.1L495.6,73.1L496.6,73.1L497.6,73.1L498.6,73.2L499.6,73.2L500.6,73.2L501.6,73.2L502.6,73.2L503.6,73.2L504.6,73.3L505.6,73.3L506.6,73.3L507.6,73.3L508.6,73.3L509.6,73.3L510.6,73.3L511.6,73.3L512.6,73.3L513.6,73.3L514.6,73.3L515.6,73.4L516.6,73.4L517.6,73.4L518.6,73.4L519.6,73.4L520.6,73.4L521.6,73.4L522.6,73.4L523.6,73.4L524.6,73.4L525.6,73.4L526.6,73.4L527.6,73.4L528.6,73.4L529.6,73.4L530.6,73.4L531.6,73.4L532.6,73.4L533.6,73.4L534.6,73.4L535.6,73.4L536.6,73.5L537.6,73.5L538.6,73.5L539.6,73.5L540.6,73.5L541.6,73.5L542.6,73.5L543.6,73.5L544.6,73.5L545.6,73.5L546.6,73.5L547.6,73.5L548.6,73.5L549.6,73.5L550.6,73.5L551.6,73.5L552.6,73.5L553.6,73.5L554.6,73.5L555.6,73.5L556.6,73.5L557.6,73.5L558.6,73.5L559.6,73.5L560.6,73.5L561.6,73.5L562.6,73.5L563.6,73.5L564.6,73.5L565.6,73.5L566.6,73.5L567.6,73.5L568.6,73.5L569.6,73.5L570.6,73.5L571.6,73.5L572.6,73.5L573.6,73.5L574.6,73.5L575.6,73.5L576.6,73.5L577.6,73.5L578.6,73.5L579.6,73.5L580.6,73.5L581.6,73.5L582.6,73.5L583.6,73.5L584.6,73.5L585.6,73.5L586.6,73.5L587.6,73.5L588.6,73.5L589.6,73.5L590.6,73.5L591.6,73.5L592.6,73.5L593.6,73.5L594.6,73.5L595.0,73.5" stroke="#f66bd0" stroke-width="1.5"/>
<line x1="428.2" y1="210.4" x2="670.8" y2="210.4" stroke="#8c8c8c" stroke-width="1.4" />
<path d="M416.1,208.3L416.6,208.4L417.1,208.4L417.6,208.3L418.1,208.3L418.6,208.4L419.1,208.6L419.6,208.6L420.1,208.4L420.6,208.3L421.1,208.4L421.6,208.5L422.1,208.3L422.6,208.1L423.1,208.0L423.6,208.1L424.1,208.1L424.6,207.9L425.1,207.9L425.6,208.0L426.1,208.0L426.6,208.1L427.1,208.2L427.6,208.1L428.1,208.1L428.6,208.0L429.1,207.9L429.6,207.9L430.1,207.8L430.6,207.8L431.1,207.8L431.6,207.8L432.1,207.8L432.6,207.7L433.1,207.7L433.6,207.7L434.1,207.6L434.6,207.7L435.1,207.8L435.6,207.6L436.1,207.7L436.6,207.7L437.1,207.7L437.6,207.7L438.1,207.5L438.6,207.4L439.1,207.5L439.6,207.5L440.1,207.5L440.6,207.5L441.1,207.4L441.6,207.5L442.1,207.4L442.6,207.5L443.1,207.4L443.6,207.7L444.1,207.6L444.6,207.7L445.1,207.8L445.6,207.7L446.1,207.6L446.6,207.6L447.1,207.3L447.6,207.3L448.1,207.2L448.6,207.1L449.1,207.1L449.6,207.0L450.1,206.9L450.6,206.9L451.1,206.7L451.6,206.8L452.1,206.6L452.6,206.5L453.1,206.3L453.6,206.3L454.1,206.2L454.6,206.2L455.1,206.0L455.6,206.1L456.1,206.0L456.6,206.0L457.1,205.9L457.6,205.8L458.1,205.8L458.6,205.9L459.1,205.8L459.6,205.8L460.1,206.0L460.6,205.9L461.1,205.9L461.6,205.7L462.1,205.7L462.6,205.7L463.1,205.7L463.6,205.5L464.1,205.5L464.6,205.5L465.1,205.6L465.6,205.7L466.1,205.6L466.6,205.6L467.1,205.8L467.6,205.8L468.1,205.8L468.6,205.9L469.1,205.9L469.6,205.9L470.1,205.9L470.6,205.8L471.1,205.7L471.6,205.8L472.1,205.5L472.6,205.5L473.1,205.6L473.6,205.5L474.1,205.5L474.6,205.7L475.1,205.6L475.6,205.7L476.1,205.6L476.6,205.5L477.1,205.4L477.6,205.3L478.1,205.2L478.6,205.2L479.1,205.1L479.6,205.2L480.1,205.2L480.6,205.3L481.1,205.3L481.6,205.3L482.1,205.4L482.6,205.4L483.1,205.3L483.6,205.3L484.1,205.1L484.6,205.0L485.1,204.9L485.6,204.8L486.1,204.8L486.6,204.7L487.1,204.5L487.6,204.6L488.1,204.6L488.6,204.4L489.1,204.4L489.6,204.2L490.1,204.0L490.6,204.0L491.1,203.7L491.6,203.7L492.1,203.6L492.6,203.4L493.1,203.3L493.6,203.3L494.1,203.2L494.6,203.1L495.1,203.0L495.6,203.0L496.1,202.8L496.6,202.7L497.1,202.6L497.6,202.5L498.1,202.3L498.6,202.0L499.1,202.0L499.6,202.0L500.1,201.9L500.6,201.8L501.1,201.8L501.6,201.5L502.1,201.5L502.6,201.1L503.1,201.0L503.6,200.9L504.1,200.6L504.6,200.4L505.1,200.5L505.6,200.5L506.1,200.3L506.6,200.0L507.1,200.1L507.6,199.8L508.1,199.6L508.6,199.2L509.1,198.9L509.6,198.8L510.1,198.6L510.6,198.1L511.1,198.0L511.6,197.8L512.1,197.6L512.6,197.3L513.1,196.9L513.6,196.5L514.1,196.3L514.6,195.9L515.1,195.4L515.6,194.9L516.1,194.5L516.6,194.3L517.1,193.9L517.6,193.5L518.1,193.1L518.6,192.8L519.1,192.4L519.6,192.0L520.1,191.5L520.6,191.1L521.1,190.5L521.6,190.0L522.1,189.4L522.6,188.8L523.1,187.9L523.6,187.1L524.1,186.3L524.6,185.7L525.1,184.8L525.6,184.0L526.1,183.3L526.6,182.4L527.1,181.5L527.6,180.3L528.1,179.1L528.6,178.0L529.1,176.6L529.6,175.2L530.1,174.0L530.6,172.6L531.1,171.3L531.6,169.8L532.1,168.2L532.6,166.8L533.1,165.3L533.6,163.5L534.1,161.7L534.6,160.0L535.1,158.2L535.6,156.3L536.1,154.3L536.6,152.2L537.1,149.9L537.6,147.7L538.1,145.5L538.6,143.1L539.1,140.7L539.6,138.1L540.1,135.8L540.6,133.4L541.1,131.0L541.6,128.4L542.1,126.0L542.6,123.7L543.1,121.5L543.6,119.2L544.1,117.0L544.6,114.9L545.1,112.7L545.6,110.6L546.1,108.6L546.6,106.6L547.1,104.8L547.6,103.1L548.1,101.4L548.6,99.8L549.1,98.5L549.6,97.1L550.1,96.0L550.6,94.7L551.1,93.6L551.6,92.7L552.1,91.8L552.6,90.7L553.1,89.8L553.6,88.9L554.1,88.1L554.6,87.0L555.1,86.3L555.6,85.5L556.1,84.8L556.6,84.0L557.1,83.2L557.6,82.6L558.1,82.0L558.6,81.3L559.1,80.8L559.6,80.3L560.1,80.0L560.6,79.8L561.1,79.6L561.6,79.5L562.1,79.5L562.6,79.8L563.1,80.1L563.6,80.4L564.1,81.1L564.6,81.8L565.1,82.8L565.6,83.8L566.1,84.8L566.6,86.1L567.1,87.7L567.6,89.2L568.1,90.9L568.6,92.7L569.1,94.7L569.6,96.7L570.1,98.8L570.6,100.8L571.1,102.8L571.6,105.1L572.1,107.2L572.6,109.3L573.1,111.8L573.6,114.1L574.1,116.5L574.6,119.2L575.1,121.7L575.6,124.2L576.1,126.7L576.6,129.2L577.1,131.8L577.6,134.2L578.1,136.3L578.6,138.5L579.1,140.6L579.6,142.7L580.1,144.7L580.6,146.7L581.1,148.7L581.6,150.9L582.1,152.8L582.6,154.7L583.1,156.8L583.6,158.6L584.1,160.5L584.6,162.3L585.1,163.9L585.6,165.7L586.1,167.2L586.6,168.5L587.1,169.9L587.6,171.1L588.1,172.3L588.6,173.4L589.1,174.5L589.6,175.8L590.1,177.0L590.6,178.1L591.1,179.2L591.6,180.2L592.1,181.3L592.6,182.3L593.1,183.2L593.6,184.1L594.1,185.0L594.6,185.9L595.1,186.7L595.6,187.4L596.1,188.1L596.6,188.8L597.1,189.5L597.6,190.1L598.1,190.5L598.6,190.8L599.1,191.4L599.6,192.0L600.1,192.6L600.6,193.1L601.1,193.6L601.6,194.2L602.1,194.7L602.6,195.1L603.1,195.4L603.6,195.7L604.1,196.1L604.6,196.4L605.1,196.8L605.6,197.2L606.1,197.4L606.6,197.6L607.1,197.8L607.6,198.2L608.1,198.4L608.6,198.7L609.1,199.0L609.6,199.3L610.1,199.7L610.6,199.8L611.1,199.9L611.6,200.3L612.1,200.3L612.6,200.4L613.1,200.5L613.6,200.6L614.1,200.8L614.6,201.1L615.1,201.1L615.6,201.2L616.1,201.5L616.6,201.7L617.1,201.9L617.6,202.1L618.1,202.1L618.6,202.3L619.1,202.5L619.6,202.6L620.1,202.7L620.6,202.8L621.1,202.9L621.6,203.0L622.1,203.2L622.6,203.3L623.1,203.4L623.6,203.4L624.1,203.5L624.6,203.7L625.1,203.9L625.6,203.8L626.1,203.7L626.6,203.8L627.1,203.9L627.6,203.8L628.1,203.9L628.6,204.0L629.1,204.2L629.6,204.2L630.1,204.3L630.6,204.5L631.1,204.6L631.6,204.6L632.1,204.7L632.6,204.6L633.1,204.9L633.6,204.9L634.1,205.0L634.6,205.2L635.1,205.2L635.6,205.4L636.1,205.6L636.6,205.7L637.1,205.7L637.6,205.6L638.1,205.7L638.6,205.8L639.1,205.7L639.6,205.7L640.1,205.6L640.6,205.7L641.1,205.7L641.6,205.8L642.1,205.7L642.6,205.7L643.1,205.7L643.6,206.0L644.1,205.9L644.6,206.0L645.1,206.1L645.6,206.1L646.1,206.4L646.6,206.4L647.1,206.3L647.6,206.5L648.1,206.7L648.6,206.7L649.1,206.8L649.6,206.7L650.1,206.6L650.6,206.6L651.1,206.7L651.6,206.7L652.1,206.7L652.6,206.7L653.1,206.7L653.6,206.9L654.1,206.9L654.6,206.9L655.1,206.8L655.6,206.8L656.1,206.8L656.6,206.8L657.1,206.9L657.6,207.0L658.1,207.0L658.6,207.2L659.1,207.1L659.6,207.0L660.1,207.1L660.6,207.2L661.1,207.3L661.6,207.4L662.1,207.4L662.6,207.4L663.1,207.6L663.6,207.6L664.1,207.5L664.6,207.3L665.1,207.3L665.6,207.3L666.1,207.1L666.6,207.1L667.1,207.1L667.6,207.2L668.1,207.3L668.6,207.4L669.1,207.3L669.6,207.5L670.1,207.5L670.6,207.5" stroke="#efefef" stroke-width="3.2" stroke-linecap="round"/>
<g stroke="#d6d6d6" stroke-width="0.8"><circle cx="416.1" cy="208.3" r="1.9"/><circle cx="419.1" cy="208.6" r="1.9"/><circle cx="422.1" cy="208.3" r="1.9"/><circle cx="425.1" cy="207.9" r="1.9"/><circle cx="428.1" cy="208.1" r="1.9"/><circle cx="431.1" cy="207.8" r="1.9"/><circle cx="434.1" cy="207.6" r="1.9"/><circle cx="437.1" cy="207.7" r="1.9"/><circle cx="440.1" cy="207.5" r="1.9"/><circle cx="443.1" cy="207.4" r="1.9"/><circle cx="446.1" cy="207.6" r="1.9"/><circle cx="449.1" cy="207.1" r="1.9"/><circle cx="452.1" cy="206.6" r="1.9"/><circle cx="455.1" cy="206.0" r="1.9"/><circle cx="458.1" cy="205.8" r="1.9"/><circle cx="461.1" cy="205.9" r="1.9"/><circle cx="464.1" cy="205.5" r="1.9"/><circle cx="467.1" cy="205.8" r="1.9"/><circle cx="470.1" cy="205.9" r="1.9"/><circle cx="473.1" cy="205.6" r="1.9"/><circle cx="476.1" cy="205.6" r="1.9"/><circle cx="479.1" cy="205.1" r="1.9"/><circle cx="482.1" cy="205.4" r="1.9"/><circle cx="485.1" cy="204.9" r="1.9"/><circle cx="488.1" cy="204.6" r="1.9"/><circle cx="491.1" cy="203.7" r="1.9"/><circle cx="494.1" cy="203.2" r="1.9"/><circle cx="497.1" cy="202.6" r="1.9"/><circle cx="500.1" cy="201.9" r="1.9"/><circle cx="503.1" cy="201.0" r="1.9"/><circle cx="506.1" cy="200.3" r="1.9"/><circle cx="508.6" cy="199.2" r="1.9"/><circle cx="511.1" cy="198.0" r="1.9"/><circle cx="513.6" cy="196.5" r="1.9"/><circle cx="516.1" cy="194.5" r="1.9"/><circle cx="518.6" cy="192.8" r="1.9"/><circle cx="520.6" cy="191.1" r="1.9"/><circle cx="522.6" cy="188.8" r="1.9"/><circle cx="524.1" cy="186.3" r="1.9"/><circle cx="525.6" cy="184.0" r="1.9"/><circle cx="527.1" cy="181.5" r="1.9"/><circle cx="528.1" cy="179.1" r="1.9"/><circle cx="529.1" cy="176.6" r="1.9"/><circle cx="530.1" cy="174.0" r="1.9"/><circle cx="531.1" cy="171.3" r="1.9"/><circle cx="532.1" cy="168.2" r="1.9"/><circle cx="533.1" cy="165.3" r="1.9"/><circle cx="534.1" cy="161.7" r="1.9"/><circle cx="535.1" cy="158.2" r="1.9"/><circle cx="536.1" cy="154.3" r="1.9"/><circle cx="537.1" cy="149.9" r="1.9"/><circle cx="538.1" cy="145.5" r="1.9"/><circle cx="539.1" cy="140.7" r="1.9"/><circle cx="539.6" cy="138.1" r="1.9"/><circle cx="540.6" cy="133.4" r="1.9"/><circle cx="541.6" cy="128.4" r="1.9"/><circle cx="542.6" cy="123.7" r="1.9"/><circle cx="543.6" cy="119.2" r="1.9"/><circle cx="544.6" cy="114.9" r="1.9"/><circle cx="545.6" cy="110.6" r="1.9"/><circle cx="546.6" cy="106.6" r="1.9"/><circle cx="547.6" cy="103.1" r="1.9"/><circle cx="548.6" cy="99.8" r="1.9"/><circle cx="549.6" cy="97.1" r="1.9"/><circle cx="550.6" cy="94.7" r="1.9"/><circle cx="552.1" cy="91.8" r="1.9"/><circle cx="553.6" cy="88.9" r="1.9"/><circle cx="555.1" cy="86.3" r="1.9"/><circle cx="556.6" cy="84.0" r="1.9"/><circle cx="558.6" cy="81.3" r="1.9"/><circle cx="561.1" cy="79.6" r="1.9"/><circle cx="563.6" cy="80.4" r="1.9"/><circle cx="565.1" cy="82.8" r="1.9"/><circle cx="566.6" cy="86.1" r="1.9"/><circle cx="567.6" cy="89.2" r="1.9"/><circle cx="568.6" cy="92.7" r="1.9"/><circle cx="569.6" cy="96.7" r="1.9"/><circle cx="570.6" cy="100.8" r="1.9"/><circle cx="571.6" cy="105.1" r="1.9"/><circle cx="572.6" cy="109.3" r="1.9"/><circle cx="573.6" cy="114.1" r="1.9"/><circle cx="574.6" cy="119.2" r="1.9"/><circle cx="575.6" cy="124.2" r="1.9"/><circle cx="576.6" cy="129.2" r="1.9"/><circle cx="577.1" cy="131.8" r="1.9"/><circle cx="578.1" cy="136.3" r="1.9"/><circle cx="579.1" cy="140.6" r="1.9"/><circle cx="580.1" cy="144.7" r="1.9"/><circle cx="581.1" cy="148.7" r="1.9"/><circle cx="582.1" cy="152.8" r="1.9"/><circle cx="583.1" cy="156.8" r="1.9"/><circle cx="584.1" cy="160.5" r="1.9"/><circle cx="585.1" cy="163.9" r="1.9"/><circle cx="586.1" cy="167.2" r="1.9"/><circle cx="587.1" cy="169.9" r="1.9"/><circle cx="588.1" cy="172.3" r="1.9"/><circle cx="589.6" cy="175.8" r="1.9"/><circle cx="591.1" cy="179.2" r="1.9"/><circle cx="592.6" cy="182.3" r="1.9"/><circle cx="594.1" cy="185.0" r="1.9"/><circle cx="595.6" cy="187.4" r="1.9"/><circle cx="597.6" cy="190.1" r="1.9"/><circle cx="599.6" cy="192.0" r="1.9"/><circle cx="601.6" cy="194.2" r="1.9"/><circle cx="604.1" cy="196.1" r="1.9"/><circle cx="606.6" cy="197.6" r="1.9"/><circle cx="609.1" cy="199.0" r="1.9"/><circle cx="611.6" cy="200.3" r="1.9"/><circle cx="614.6" cy="201.1" r="1.9"/><circle cx="617.1" cy="201.9" r="1.9"/><circle cx="619.6" cy="202.6" r="1.9"/><circle cx="622.6" cy="203.3" r="1.9"/><circle cx="625.6" cy="203.8" r="1.9"/><circle cx="628.6" cy="204.0" r="1.9"/><circle cx="631.6" cy="204.6" r="1.9"/><circle cx="634.6" cy="205.2" r="1.9"/><circle cx="637.6" cy="205.6" r="1.9"/><circle cx="640.6" cy="205.7" r="1.9"/><circle cx="643.6" cy="206.0" r="1.9"/><circle cx="646.6" cy="206.4" r="1.9"/><circle cx="649.6" cy="206.7" r="1.9"/><circle cx="652.6" cy="206.7" r="1.9"/><circle cx="655.6" cy="206.8" r="1.9"/><circle cx="658.6" cy="207.2" r="1.9"/><circle cx="661.6" cy="207.4" r="1.9"/><circle cx="664.6" cy="207.3" r="1.9"/><circle cx="667.6" cy="207.2" r="1.9"/><circle cx="670.6" cy="207.5" r="1.9"/></g>
<path d="M416.1,208.2L417.1,208.2L418.1,208.1L419.1,208.1L420.1,208.1L421.1,208.1L422.1,208.1L423.1,208.0L424.1,208.0L425.1,208.0L426.1,208.0L427.1,208.0L428.1,207.9L429.1,207.9L430.1,207.9L431.1,207.9L432.1,207.8L433.1,207.8L434.1,207.8L435.1,207.7L436.1,207.7L437.1,207.7L438.1,207.6L439.1,207.6L440.1,207.5L441.1,207.5L442.1,207.4L443.1,207.3L444.1,207.3L445.1,207.2L446.1,207.1L447.1,207.0L448.1,206.9L449.1,206.9L450.1,206.8L451.1,206.7L452.1,206.6L453.1,206.5L454.1,206.4L455.1,206.3L456.1,206.2L457.1,206.1L458.1,206.0L459.1,206.0L460.1,205.9L461.1,205.9L462.1,205.8L463.1,205.8L464.1,205.8L465.1,205.8L466.1,205.8L467.1,205.8L468.1,205.7L469.1,205.7L470.1,205.7L471.1,205.7L472.1,205.7L473.1,205.7L474.1,205.6L475.1,205.6L476.1,205.6L477.1,205.5L478.1,205.5L479.1,205.4L480.1,205.3L481.1,205.2L482.1,205.2L483.1,205.1L484.1,205.0L485.1,204.9L486.1,204.7L487.1,204.6L488.1,204.5L489.1,204.4L490.1,204.2L491.1,204.1L492.1,203.9L493.1,203.7L494.1,203.6L495.1,203.4L496.1,203.2L497.1,203.0L498.1,202.8L499.1,202.6L500.1,202.3L501.1,202.1L502.1,201.8L503.1,201.6L504.1,201.3L505.1,201.0L506.1,200.7L507.1,200.3L508.1,200.0L509.1,199.6L510.1,199.2L511.1,198.7L512.1,198.3L513.1,197.7L514.1,197.2L515.1,196.6L516.1,196.0L517.1,195.3L518.1,194.5L519.1,193.7L520.1,192.8L521.1,191.9L522.1,190.8L523.1,189.6L524.1,188.3L525.1,186.9L526.1,185.3L527.1,183.6L528.1,181.6L529.1,179.5L530.1,177.2L531.1,174.6L532.1,171.9L533.1,168.8L534.1,165.5L535.1,161.9L536.1,158.0L537.1,153.8L538.1,149.4L539.1,144.7L540.1,139.9L541.1,134.9L542.1,129.9L543.1,125.0L544.1,120.2L545.1,115.7L546.1,111.6L547.1,107.9L548.1,104.6L549.1,101.8L550.1,99.3L551.1,97.0L552.1,95.0L553.1,93.2L554.1,91.4L555.1,89.6L556.1,87.9L557.1,86.2L558.1,84.6L559.1,83.3L560.1,82.2L561.1,81.5L562.1,81.2L563.1,81.5L564.1,82.4L565.1,83.9L566.1,86.1L567.1,88.9L568.1,92.3L569.1,96.2L570.1,100.5L571.1,105.1L572.1,109.9L573.1,114.9L574.1,120.0L575.1,125.1L576.1,130.1L577.1,135.0L578.1,139.7L579.1,144.3L580.1,148.7L581.1,152.9L582.1,156.8L583.1,160.6L584.1,164.1L585.1,167.3L586.1,170.4L587.1,173.2L588.1,175.8L589.1,178.2L590.1,180.4L591.1,182.5L592.1,184.3L593.1,186.0L594.1,187.6L595.1,189.0L596.1,190.3L597.1,191.5L598.1,192.5L599.1,193.5L600.1,194.4L601.1,195.2L602.1,195.9L603.1,196.6L604.1,197.2L605.1,197.8L606.1,198.3L607.1,198.8L608.1,199.2L609.1,199.7L610.1,200.0L611.1,200.4L612.1,200.8L613.1,201.1L614.1,201.4L615.1,201.7L616.1,201.9L617.1,202.2L618.1,202.4L619.1,202.6L620.1,202.9L621.1,203.1L622.1,203.3L623.1,203.4L624.1,203.6L625.1,203.8L626.1,204.0L627.1,204.1L628.1,204.3L629.1,204.4L630.1,204.5L631.1,204.7L632.1,204.8L633.1,204.9L634.1,205.0L635.1,205.2L636.1,205.3L637.1,205.4L638.1,205.5L639.1,205.6L640.1,205.7L641.1,205.7L642.1,205.8L643.1,205.9L644.1,206.0L645.1,206.1L646.1,206.2L647.1,206.2L648.1,206.3L649.1,206.4L650.1,206.4L651.1,206.5L652.1,206.6L653.1,206.6L654.1,206.7L655.1,206.7L656.1,206.8L657.1,206.8L658.1,206.9L659.1,206.9L660.1,207.0L661.1,207.0L662.1,207.1L663.1,207.1L664.1,207.2L665.1,207.2L666.1,207.2L667.1,207.3L668.1,207.3L669.1,207.4L670.1,207.4L670.8,207.4" stroke="#47b9e6" stroke-width="1.65"/>
<path d="M416.1,208.9L417.1,208.9L418.1,208.9L419.1,208.9L420.1,208.9L421.1,208.9L422.1,208.9L423.1,208.9L424.1,208.8L425.1,208.8L426.1,208.8L427.1,208.8L428.1,208.8L429.1,208.8L430.1,208.8L431.1,208.8L432.1,208.8L433.1,208.8L434.1,208.7L435.1,208.7L436.1,208.7L437.1,208.7L438.1,208.7L439.1,208.7L440.1,208.7L441.1,208.7L442.1,208.6L443.1,208.6L444.1,208.6L445.1,208.6L446.1,208.6L447.1,208.6L448.1,208.5L449.1,208.5L450.1,208.5L451.1,208.5L452.1,208.5L453.1,208.5L454.1,208.4L455.1,208.4L456.1,208.4L457.1,208.4L458.1,208.3L459.1,208.3L460.1,208.3L461.1,208.3L462.1,208.2L463.1,208.2L464.1,208.2L465.1,208.2L466.1,208.1L467.1,208.1L468.1,208.1L469.1,208.0L470.1,208.0L471.1,208.0L472.1,207.9L473.1,207.9L474.1,207.8L475.1,207.8L476.1,207.8L477.1,207.7L478.1,207.7L479.1,207.6L480.1,207.6L481.1,207.5L482.1,207.5L483.1,207.4L484.1,207.3L485.1,207.3L486.1,207.2L487.1,207.1L488.1,207.1L489.1,207.0L490.1,206.9L491.1,206.8L492.1,206.7L493.1,206.6L494.1,206.5L495.1,206.4L496.1,206.3L497.1,206.2L498.1,206.1L499.1,205.9L500.1,205.8L501.1,205.6L502.1,205.5L503.1,205.3L504.1,205.1L505.1,205.0L506.1,204.7L507.1,204.5L508.1,204.3L509.1,204.0L510.1,203.8L511.1,203.5L512.1,203.2L513.1,202.8L514.1,202.5L515.1,202.1L516.1,201.6L517.1,201.1L518.1,200.6L519.1,200.0L520.1,199.3L521.1,198.6L522.1,197.8L523.1,196.9L524.1,196.0L525.1,194.9L526.1,193.7L527.1,192.3L528.1,190.9L529.1,189.2L530.1,187.5L531.1,185.5L532.1,183.4L533.1,181.1L534.1,178.6L535.1,175.9L536.1,173.0L537.1,170.0L538.1,166.8L539.1,163.6L540.1,160.3L541.1,157.2L542.1,154.2L543.1,151.5L544.1,149.3L545.1,147.6L546.1,146.7L547.1,146.4L548.1,146.9L549.1,148.1L550.1,150.0L551.1,152.4L552.1,155.2L553.1,158.2L554.1,161.4L555.1,164.7L556.1,167.9L557.1,171.0L558.1,174.0L559.1,176.8L560.1,179.4L561.1,181.9L562.1,184.1L563.1,186.2L564.1,188.1L565.1,189.8L566.1,191.4L567.1,192.8L568.1,194.1L569.1,195.3L570.1,196.3L571.1,197.2L572.1,198.1L573.1,198.9L574.1,199.6L575.1,200.2L576.1,200.8L577.1,201.3L578.1,201.8L579.1,202.2L580.1,202.6L581.1,202.9L582.1,203.3L583.1,203.6L584.1,203.9L585.1,204.1L586.1,204.4L587.1,204.6L588.1,204.8L589.1,205.0L590.1,205.2L591.1,205.4L592.1,205.5L593.1,205.7L594.1,205.8L595.1,206.0L596.1,206.1L597.1,206.2L598.1,206.3L599.1,206.5L600.1,206.6L601.1,206.7L602.1,206.8L603.1,206.8L604.1,206.9L605.1,207.0L606.1,207.1L607.1,207.2L608.1,207.2L609.1,207.3L610.1,207.4L611.1,207.4L612.1,207.5L613.1,207.5L614.1,207.6L615.1,207.6L616.1,207.7L617.1,207.7L618.1,207.8L619.1,207.8L620.1,207.9L621.1,207.9L622.1,207.9L623.1,208.0L624.1,208.0L625.1,208.0L626.1,208.1L627.1,208.1L628.1,208.1L629.1,208.2L630.1,208.2L631.1,208.2L632.1,208.3L633.1,208.3L634.1,208.3L635.1,208.3L636.1,208.4L637.1,208.4L638.1,208.4L639.1,208.4L640.1,208.4L641.1,208.5L642.1,208.5L643.1,208.5L644.1,208.5L645.1,208.5L646.1,208.6L647.1,208.6L648.1,208.6L649.1,208.6L650.1,208.6L651.1,208.6L652.1,208.6L653.1,208.7L654.1,208.7L655.1,208.7L656.1,208.7L657.1,208.7L658.1,208.7L659.1,208.7L660.1,208.7L661.1,208.8L662.1,208.8L663.1,208.8L664.1,208.8L665.1,208.8L666.1,208.8L667.1,208.8L668.1,208.8L669.1,208.8L670.1,208.8L670.8,208.9" stroke="#f2a45a" stroke-width="1.6"/>
<path d="M416.1,208.6L417.1,208.6L418.1,208.6L419.1,208.6L420.1,208.6L421.1,208.6L422.1,208.6L423.1,208.6L424.1,208.6L425.1,208.5L426.1,208.5L427.1,208.5L428.1,208.5L429.1,208.5L430.1,208.5L431.1,208.5L432.1,208.4L433.1,208.4L434.1,208.4L435.1,208.4L436.1,208.4L437.1,208.4L438.1,208.4L439.1,208.3L440.1,208.3L441.1,208.3L442.1,208.3L443.1,208.3L444.1,208.2L445.1,208.2L446.1,208.2L447.1,208.2L448.1,208.2L449.1,208.1L450.1,208.1L451.1,208.1L452.1,208.1L453.1,208.1L454.1,208.0L455.1,208.0L456.1,208.0L457.1,208.0L458.1,207.9L459.1,207.9L460.1,207.9L461.1,207.8L462.1,207.8L463.1,207.8L464.1,207.8L465.1,207.7L466.1,207.7L467.1,207.7L468.1,207.6L469.1,207.6L470.1,207.5L471.1,207.5L472.1,207.5L473.1,207.4L474.1,207.4L475.1,207.3L476.1,207.3L477.1,207.2L478.1,207.2L479.1,207.2L480.1,207.1L481.1,207.0L482.1,207.0L483.1,206.9L484.1,206.9L485.1,206.8L486.1,206.7L487.1,206.7L488.1,206.6L489.1,206.5L490.1,206.5L491.1,206.4L492.1,206.3L493.1,206.2L494.1,206.1L495.1,206.1L496.1,206.0L497.1,205.9L498.1,205.8L499.1,205.7L500.1,205.5L501.1,205.4L502.1,205.3L503.1,205.2L504.1,205.0L505.1,204.9L506.1,204.8L507.1,204.6L508.1,204.4L509.1,204.3L510.1,204.1L511.1,203.9L512.1,203.7L513.1,203.5L514.1,203.3L515.1,203.1L516.1,202.8L517.1,202.5L518.1,202.2L519.1,201.9L520.1,201.6L521.1,201.3L522.1,200.9L523.1,200.5L524.1,200.0L525.1,199.5L526.1,199.0L527.1,198.4L528.1,197.7L529.1,197.0L530.1,196.2L531.1,195.4L532.1,194.4L533.1,193.3L534.1,192.2L535.1,190.9L536.1,189.5L537.1,187.9L538.1,186.2L539.1,184.4L540.1,182.3L541.1,180.1L542.1,177.7L543.1,175.1L544.1,172.3L545.1,169.3L546.1,166.1L547.1,162.7L548.1,159.1L549.1,155.3L550.1,151.4L551.1,147.2L552.1,143.0L553.1,138.6L554.1,134.2L555.1,129.8L556.1,125.5L557.1,121.3L558.1,117.3L559.1,113.7L560.1,110.4L561.1,107.7L562.1,105.6L563.1,104.2L564.1,103.5L565.1,103.5L566.1,104.4L567.1,105.9L568.1,108.1L569.1,110.9L570.1,114.3L571.1,118.0L572.1,122.0L573.1,126.2L574.1,130.6L575.1,135.0L576.1,139.4L577.1,143.7L578.1,147.9L579.1,152.0L580.1,156.0L581.1,159.8L582.1,163.3L583.1,166.7L584.1,169.9L585.1,172.8L586.1,175.6L587.1,178.1L588.1,180.5L589.1,182.7L590.1,184.7L591.1,186.5L592.1,188.2L593.1,189.7L594.1,191.1L595.1,192.4L596.1,193.5L597.1,194.6L598.1,195.5L599.1,196.4L600.1,197.1L601.1,197.8L602.1,198.5L603.1,199.1L604.1,199.6L605.1,200.1L606.1,200.5L607.1,200.9L608.1,201.3L609.1,201.7L610.1,202.0L611.1,202.3L612.1,202.6L613.1,202.8L614.1,203.1L615.1,203.3L616.1,203.5L617.1,203.8L618.1,203.9L619.1,204.1L620.1,204.3L621.1,204.5L622.1,204.6L623.1,204.8L624.1,204.9L625.1,205.1L626.1,205.2L627.1,205.3L628.1,205.4L629.1,205.6L630.1,205.7L631.1,205.8L632.1,205.9L633.1,206.0L634.1,206.1L635.1,206.2L636.1,206.2L637.1,206.3L638.1,206.4L639.1,206.5L640.1,206.6L641.1,206.6L642.1,206.7L643.1,206.8L644.1,206.8L645.1,206.9L646.1,206.9L647.1,207.0L648.1,207.1L649.1,207.1L650.1,207.2L651.1,207.2L652.1,207.3L653.1,207.3L654.1,207.3L655.1,207.4L656.1,207.4L657.1,207.5L658.1,207.5L659.1,207.6L660.1,207.6L661.1,207.6L662.1,207.7L663.1,207.7L664.1,207.7L665.1,207.8L666.1,207.8L667.1,207.8L668.1,207.9L669.1,207.9L670.1,207.9L670.8,207.9" stroke="#42de2d" stroke-width="1.6"/>
</g>
<line x1="436.4" y1="29.8" x2="436.4" y2="32.9" stroke="#141414" stroke-width="1.7" />
<line x1="436.4" y1="39.3" x2="436.4" y2="41.9" stroke="#141414" stroke-width="1.7" />
<line x1="460.7" y1="30.3" x2="460.7" y2="32.9" stroke="#141414" stroke-width="1.7" />
<line x1="460.7" y1="39.3" x2="460.7" y2="41.9" stroke="#141414" stroke-width="1.7" />
<line x1="554.2" y1="12.7" x2="554.2" y2="20.4" stroke="#141414" stroke-width="1.7" />
<line x1="554.2" y1="27.6" x2="554.2" y2="34.7" stroke="#141414" stroke-width="1.7" />
<line x1="574.6" y1="4.0" x2="574.6" y2="11.2" stroke="#141414" stroke-width="1.7" />
<line x1="574.6" y1="18.4" x2="574.6" y2="26.6" stroke="#141414" stroke-width="1.7" />
<line x1="445.1" y1="62.0" x2="445.1" y2="65.2" stroke="#141414" stroke-width="1.7" />
<line x1="445.1" y1="70.0" x2="445.1" y2="73.7" stroke="#141414" stroke-width="1.7" />
<line x1="463.9" y1="55.2" x2="463.9" y2="58.3" stroke="#141414" stroke-width="1.7" />
<line x1="463.9" y1="63.6" x2="463.9" y2="66.8" stroke="#141414" stroke-width="1.7" />
<line x1="565.0" y1="93.0" x2="565.0" y2="100.3" stroke="#141414" stroke-width="1.7" />
<line x1="565.0" y1="106.0" x2="565.0" y2="115.5" stroke="#141414" stroke-width="1.7" />
<line x1="546.9" y1="136.3" x2="546.9" y2="143.5" stroke="#141414" stroke-width="1.7" />
<line x1="546.9" y1="149.3" x2="546.9" y2="158.8" stroke="#141414" stroke-width="1.7" />
<line x1="458.5" y1="200.4" x2="458.5" y2="203.2" stroke="#141414" stroke-width="1.7" />
<line x1="458.5" y1="207.4" x2="458.5" y2="212.0" stroke="#141414" stroke-width="1.7" />
<rect x="367.60" y="2.40" width="303.20" height="211.90" fill="none" stroke="#3a3a3a" stroke-width="1.3"/>
<g fill="#222222" font-family="Liberation Serif" filter="url(#tf)">
<line x1="367.6" y1="214.3" x2="367.6" y2="218.3" stroke="#3a3a3a" stroke-width="1.2" />
<text x="354.04" y="234.40" font-size="17.5">175</text>
<line x1="443.4" y1="214.3" x2="443.4" y2="218.3" stroke="#3a3a3a" stroke-width="1.2" />
<text x="429.84" y="234.40" font-size="17.5">170</text>
<line x1="519.2" y1="214.3" x2="519.2" y2="218.3" stroke="#3a3a3a" stroke-width="1.2" />
<text x="505.64" y="234.40" font-size="17.5">165</text>
<line x1="595.0" y1="214.3" x2="595.0" y2="218.3" stroke="#3a3a3a" stroke-width="1.2" />
<text x="581.44" y="234.40" font-size="17.5">160</text>
<line x1="670.8" y1="214.3" x2="670.8" y2="218.3" stroke="#3a3a3a" stroke-width="1.2" />
<text x="657.24" y="234.40" font-size="17.5">155</text>
<line x1="405.5" y1="214.3" x2="405.5" y2="216.8" stroke="#3a3a3a" stroke-width="1.2" />
<line x1="481.3" y1="214.3" x2="481.3" y2="216.8" stroke="#3a3a3a" stroke-width="1.2" />
<line x1="557.1" y1="214.3" x2="557.1" y2="216.8" stroke="#3a3a3a" stroke-width="1.2" />
<line x1="632.9" y1="214.3" x2="632.9" y2="216.8" stroke="#3a3a3a" stroke-width="1.2" />
<text x="370.02" y="20.70" font-size="21">(b)</text>
<text x="396.45" y="29.60" font-size="15.5">170.40</text>
<text x="448.55" y="29.60" font-size="15.5">168.99</text>
<text x="507.90" y="15.30" font-size="15.5">162.70</text>
<text x="582.16" y="15.30" font-size="15.5">161.31</text>
<text x="385.89" y="62.10" font-size="15.5">169.84</text>
<text x="479.45" y="59.40" font-size="15.5">168.68</text>
<text x="573.75" y="102.60" font-size="15.5">162.01</text>
<text x="490.92" y="150.70" font-size="15.5">163.17</text>
<text x="437.55" y="194.00" font-size="15.5">168.90</text>
<text x="634.55" y="19.10" font-size="17.5">S 2p</text>
<text x="628.02" y="39.00" font-size="17.6">MBZ</text>
<text x="618.19" y="68.80" font-size="17.6">BaSO<tspan font-size="12" dy="4.2">4</tspan></text>
<text x="627.66" y="201.80" font-size="17.6">MoS<tspan font-size="12" dy="4.2">2</tspan></text>
<text x="445.16" y="254.10" font-size="17.5">Binding Energy (eV)</text>
<text transform="translate(356.60,108.50) rotate(-90)" font-size="17.5" text-anchor="middle">Intensity (a.u.)</text>
</g>
<g fill="none" stroke-linejoin="round">
<path d="M24.5,307.2L25.0,307.2L25.5,307.3L26.0,307.4L26.5,307.4L27.0,307.3L27.5,307.5L28.0,307.5L28.5,307.3L29.0,307.2L29.5,307.1L30.0,307.0L30.5,307.0L31.0,307.1L31.5,307.2L32.0,307.3L32.5,307.4L33.0,307.3L33.5,307.3L34.0,307.2L34.5,307.1L35.0,306.8L35.5,306.7L36.0,306.6L36.5,306.6L37.0,306.8L37.5,306.8L38.0,306.8L38.5,306.9L39.0,307.1L39.5,307.0L40.0,307.2L40.5,307.0L41.0,307.0L41.5,306.9L42.0,306.9L42.5,306.8L43.0,306.8L43.5,306.8L44.0,306.8L44.5,306.8L45.0,306.9L45.5,306.9L46.0,306.9L46.5,307.0L47.0,306.9L47.5,306.8L48.0,306.8L48.5,306.9L49.0,306.7L49.5,306.7L50.0,306.5L50.5,306.4L51.0,306.5L51.5,306.4L52.0,306.3L52.5,306.3L53.0,306.4L53.5,306.5L54.0,306.6L54.5,306.8L55.0,306.6L55.5,306.7L56.0,306.5L56.5,306.4L57.0,306.4L57.5,306.3L58.0,306.1L58.5,306.2L59.0,306.1L59.5,306.2L60.0,306.1L60.5,306.1L61.0,306.1L61.5,306.1L62.0,306.0L62.5,306.2L63.0,306.0L63.5,306.0L64.0,306.1L64.5,306.1L65.0,306.0L65.5,306.0L66.0,305.9L66.5,306.0L67.0,306.0L67.5,305.9L68.0,305.9L68.5,306.1L69.0,306.0L69.5,306.1L70.0,305.9L70.5,305.8L71.0,305.7L71.5,305.7L72.0,305.5L72.5,305.6L73.0,305.5L73.5,305.6L74.0,305.7L74.5,305.8L75.0,305.6L75.5,305.5L76.0,305.4L76.5,305.2L77.0,305.0L77.5,304.9L78.0,304.7L78.5,304.6L79.0,304.8L79.5,304.9L80.0,305.1L80.5,305.2L81.0,305.2L81.5,305.1L82.0,305.3L82.5,305.1L83.0,305.0L83.5,304.9L84.0,305.0L84.5,305.0L85.0,305.1L85.5,304.9L86.0,304.8L86.5,304.8L87.0,304.7L87.5,304.6L88.0,304.5L88.5,304.4L89.0,304.5L89.5,304.7L90.0,304.6L90.5,304.5L91.0,304.6L91.5,304.5L92.0,304.5L92.5,304.4L93.0,304.4L93.5,304.3L94.0,304.4L94.5,304.2L95.0,304.0L95.5,303.9L96.0,303.8L96.5,303.6L97.0,303.4L97.5,303.5L98.0,303.4L98.5,303.3L99.0,303.5L99.5,303.3L100.0,303.3L100.5,303.4L101.0,303.1L101.5,303.0L102.0,302.8L102.5,302.5L103.0,302.5L103.5,302.2L104.0,302.0L104.5,301.9L105.0,302.0L105.5,302.0L106.0,301.8L106.5,301.6L107.0,301.7L107.5,301.7L108.0,301.8L108.5,301.7L109.0,301.5L109.5,301.5L110.0,301.4L110.5,301.3L111.0,301.1L111.5,300.7L112.0,300.5L112.5,300.3L113.0,300.2L113.5,300.1L114.0,300.0L114.5,299.8L115.0,299.6L115.5,299.6L116.0,299.4L116.5,299.2L117.0,299.1L117.5,298.8L118.0,298.5L118.5,298.4L119.0,298.1L119.5,298.0L120.0,297.7L120.5,297.4L121.0,297.2L121.5,296.9L122.0,296.5L122.5,296.2L123.0,295.7L123.5,295.5L124.0,295.1L124.5,294.8L125.0,294.5L125.5,294.1L126.0,293.7L126.5,293.6L127.0,293.3L127.5,293.2L128.0,292.9L128.5,292.7L129.0,292.5L129.5,292.1L130.0,291.7L130.5,291.2L131.0,290.7L131.5,290.1L132.0,289.7L132.5,289.3L133.0,288.9L133.5,288.5L134.0,288.1L134.5,287.6L135.0,287.2L135.5,286.6L136.0,286.0L136.5,285.6L137.0,285.1L137.5,284.7L138.0,284.4L138.5,283.9L139.0,283.4L139.5,283.2L140.0,282.9L140.5,282.4L141.0,281.8L141.5,281.5L142.0,281.2L142.5,280.8L143.0,280.3L143.5,279.9L144.0,279.7L144.5,279.5L145.0,279.1L145.5,278.6L146.0,278.5L146.5,278.4L147.0,278.3L147.5,278.0L148.0,277.6L148.5,277.3L149.0,277.3L149.5,277.0L150.0,276.8L150.5,276.6L151.0,276.4L151.5,276.6L152.0,276.7L152.5,276.6L153.0,276.7L153.5,276.8L154.0,277.0L154.5,277.3L155.0,277.3L155.5,277.5L156.0,277.6L156.5,277.9L157.0,278.0L157.5,278.2L158.0,278.4L158.5,278.8L159.0,279.0L159.5,279.4L160.0,279.5L160.5,279.9L161.0,280.3L161.5,280.4L162.0,280.6L162.5,281.0L163.0,281.3L163.5,281.8L164.0,282.1L164.5,282.4L165.0,282.7L165.5,283.2L166.0,283.5L166.5,283.9L167.0,284.1L167.5,284.2L168.0,284.4L168.5,284.6L169.0,284.8L169.5,285.0L170.0,285.2L170.5,285.4L171.0,285.8L171.5,286.2L172.0,286.5L172.5,286.5L173.0,286.6L173.5,286.9L174.0,286.9L174.5,287.1L175.0,287.2L175.5,287.3L176.0,287.5L176.5,287.5L177.0,287.5L177.5,287.5L178.0,287.3L178.5,287.2L179.0,287.2L179.5,287.0L180.0,287.1L180.5,287.0L181.0,286.9L181.5,286.9L182.0,287.0L182.5,286.9L183.0,286.8L183.5,286.5L184.0,286.4L184.5,286.2L185.0,285.9L185.5,285.3L186.0,285.0L186.5,284.7L187.0,284.5L187.5,284.2L188.0,283.7L188.5,283.4L189.0,283.3L189.5,283.1L190.0,282.6L190.5,282.2L191.0,281.8L191.5,281.7L192.0,281.2L192.5,280.5L193.0,280.0L193.5,279.7L194.0,279.3L194.5,278.8L195.0,278.3L195.5,277.9L196.0,277.5L196.5,277.1L197.0,276.7L197.5,276.2L198.0,275.7L198.5,275.4L199.0,275.0L199.5,274.7L200.0,274.4L200.5,274.0L201.0,273.6L201.5,273.2L202.0,273.0L202.5,272.9L203.0,272.7L203.5,272.6L204.0,272.7L204.5,272.7L205.0,272.8L205.5,273.0L206.0,273.0L206.5,273.3L207.0,273.5L207.5,273.6L208.0,273.7L208.5,273.9L209.0,274.1L209.5,274.5L210.0,274.8L210.5,275.0L211.0,275.6L211.5,276.1L212.0,276.8L212.5,277.3L213.0,277.8L213.5,278.4L214.0,279.1L214.5,279.5L215.0,280.1L215.5,280.7L216.0,281.6L216.5,282.2L217.0,282.7L217.5,283.3L218.0,284.0L218.5,284.6L219.0,285.0L219.5,285.3L220.0,285.7L220.5,286.3L221.0,286.8L221.5,287.2L222.0,287.8L222.5,288.5L223.0,288.9L223.5,289.3L224.0,289.9L224.5,290.4L225.0,290.9L225.5,291.3L226.0,291.5L226.5,291.9L227.0,292.5L227.5,292.9L228.0,293.2L228.5,293.4L229.0,293.6L229.5,293.9L230.0,294.2L230.5,294.4L231.0,294.5L231.5,294.7L232.0,295.1L232.5,295.4L233.0,295.7L233.5,296.1L234.0,296.2L234.5,296.3L235.0,296.5L235.5,296.6L236.0,296.7L236.5,296.9L237.0,296.9L237.5,297.2L238.0,297.4L238.5,297.6L239.0,297.7L239.5,297.9L240.0,298.0L240.5,298.2L241.0,298.3L241.5,298.3L242.0,298.3L242.5,298.4L243.0,298.5L243.5,298.4L244.0,298.3L244.5,298.3L245.0,298.4L245.5,298.5L246.0,298.7L246.5,298.8L247.0,299.1L247.5,299.2L248.0,299.3L248.5,299.4L249.0,299.7L249.5,299.9L250.0,299.9L250.5,300.0L251.0,300.3L251.5,300.4L252.0,300.6L252.5,300.7L253.0,300.7L253.5,300.8L254.0,301.0L254.5,301.1L255.0,301.3L255.5,301.4L256.0,301.4L256.5,301.6L257.0,301.8L257.5,301.9L258.0,301.9L258.5,302.1L259.0,302.3L259.5,302.5L260.0,302.6L260.5,302.6L261.0,302.8L261.5,302.8L262.0,302.8L262.5,302.9L263.0,302.9L263.5,302.8L264.0,303.0L264.5,303.0L265.0,303.1L265.5,303.3L266.0,303.6L266.5,303.8L267.0,304.2L267.5,304.3L268.0,304.4L268.5,304.3L269.0,304.3L269.5,304.2L270.0,304.4L270.5,304.2L271.0,304.3L271.5,304.4L272.0,304.7L272.5,304.7L273.0,304.7L273.5,304.7L274.0,304.8L274.5,304.9L275.0,304.9L275.5,305.0L276.0,305.1L276.5,305.3L277.0,305.4L277.5,305.5L278.0,305.5L278.5,305.6L279.0,305.6L279.5,305.6L280.0,305.6L280.5,305.5L281.0,305.4L281.5,305.4L282.0,305.4L282.5,305.5L283.0,305.8L283.5,305.9L284.0,306.0L284.5,306.1L285.0,306.2L285.5,306.4L286.0,306.4L286.5,306.2L287.0,306.1L287.5,306.1L288.0,306.0L288.5,306.0L289.0,305.8L289.5,305.8L290.0,305.9L290.5,305.8L291.0,306.0L291.5,305.9L292.0,305.9L292.5,306.0L293.0,306.1L293.5,306.1L294.0,306.3L294.5,306.1L295.0,306.4L295.5,306.5L296.0,306.6L296.5,306.6L297.0,306.6L297.5,306.7L298.0,306.6L298.5,306.7L299.0,306.8L299.5,306.8L300.0,306.9L300.5,306.9L301.0,306.9L301.5,307.0L302.0,307.0L302.5,306.9L303.0,307.0L303.5,306.9L304.0,306.9L304.5,306.9L305.0,306.8L305.5,306.7L306.0,306.8L306.5,306.7L307.0,306.8L307.5,306.9L308.0,307.0L308.5,307.1L309.0,307.1L309.5,306.8L310.0,306.8L310.5,306.8L311.0,306.8L311.5,306.7L312.0,306.7L312.5,306.6L313.0,306.9L313.5,307.0L314.0,306.9L314.5,306.9L315.0,307.0L315.5,306.8L316.0,306.8L316.5,306.9L317.0,306.8L317.5,306.9L318.0,306.9L318.5,306.8L319.0,306.8L319.5,306.9L320.0,307.0L320.5,307.0L321.0,307.0L321.5,307.1L322.0,307.1L322.5,307.1L323.0,307.1L323.5,307.1L324.0,307.1" stroke="#efefef" stroke-width="3.2" stroke-linecap="round"/>
<g stroke="#d6d6d6" stroke-width="0.8"><circle cx="24.5" cy="307.2" r="1.9"/><circle cx="27.5" cy="307.5" r="1.9"/><circle cx="30.5" cy="307.0" r="1.9"/><circle cx="33.5" cy="307.3" r="1.9"/><circle cx="36.5" cy="306.6" r="1.9"/><circle cx="39.5" cy="307.0" r="1.9"/><circle cx="42.5" cy="306.8" r="1.9"/><circle cx="45.5" cy="306.9" r="1.9"/><circle cx="48.5" cy="306.9" r="1.9"/><circle cx="51.5" cy="306.4" r="1.9"/><circle cx="54.5" cy="306.8" r="1.9"/><circle cx="57.5" cy="306.3" r="1.9"/><circle cx="60.5" cy="306.1" r="1.9"/><circle cx="63.5" cy="306.0" r="1.9"/><circle cx="66.5" cy="306.0" r="1.9"/><circle cx="69.5" cy="306.1" r="1.9"/><circle cx="72.5" cy="305.6" r="1.9"/><circle cx="75.5" cy="305.5" r="1.9"/><circle cx="78.0" cy="304.7" r="1.9"/><circle cx="81.0" cy="305.2" r="1.9"/><circle cx="84.0" cy="305.0" r="1.9"/><circle cx="87.0" cy="304.7" r="1.9"/><circle cx="90.0" cy="304.6" r="1.9"/><circle cx="93.0" cy="304.4" r="1.9"/><circle cx="96.0" cy="303.8" r="1.9"/><circle cx="99.0" cy="303.5" r="1.9"/><circle cx="102.0" cy="302.8" r="1.9"/><circle cx="104.5" cy="301.9" r="1.9"/><circle cx="107.5" cy="301.7" r="1.9"/><circle cx="110.5" cy="301.3" r="1.9"/><circle cx="113.0" cy="300.2" r="1.9"/><circle cx="116.0" cy="299.4" r="1.9"/><circle cx="118.5" cy="298.4" r="1.9"/><circle cx="121.0" cy="297.2" r="1.9"/><circle cx="123.5" cy="295.5" r="1.9"/><circle cx="126.0" cy="293.7" r="1.9"/><circle cx="128.5" cy="292.7" r="1.9"/><circle cx="131.0" cy="290.7" r="1.9"/><circle cx="133.0" cy="288.9" r="1.9"/><circle cx="135.5" cy="286.6" r="1.9"/><circle cx="137.5" cy="284.7" r="1.9"/><circle cx="140.0" cy="282.9" r="1.9"/><circle cx="142.0" cy="281.2" r="1.9"/><circle cx="144.5" cy="279.5" r="1.9"/><circle cx="147.0" cy="278.3" r="1.9"/><circle cx="149.5" cy="277.0" r="1.9"/><circle cx="152.5" cy="276.6" r="1.9"/><circle cx="155.5" cy="277.5" r="1.9"/><circle cx="158.0" cy="278.4" r="1.9"/><circle cx="160.5" cy="279.9" r="1.9"/><circle cx="163.0" cy="281.3" r="1.9"/><circle cx="165.5" cy="283.2" r="1.9"/><circle cx="168.0" cy="284.4" r="1.9"/><circle cx="170.5" cy="285.4" r="1.9"/><circle cx="173.0" cy="286.6" r="1.9"/><circle cx="176.0" cy="287.5" r="1.9"/><circle cx="179.0" cy="287.2" r="1.9"/><circle cx="182.0" cy="287.0" r="1.9"/><circle cx="184.5" cy="286.2" r="1.9"/><circle cx="187.0" cy="284.5" r="1.9"/><circle cx="189.5" cy="283.1" r="1.9"/><circle cx="192.0" cy="281.2" r="1.9"/><circle cx="194.0" cy="279.3" r="1.9"/><circle cx="196.0" cy="277.5" r="1.9"/><circle cx="198.0" cy="275.7" r="1.9"/><circle cx="200.5" cy="274.0" r="1.9"/><circle cx="203.0" cy="272.7" r="1.9"/><circle cx="206.0" cy="273.0" r="1.9"/><circle cx="208.5" cy="273.9" r="1.9"/><circle cx="211.0" cy="275.6" r="1.9"/><circle cx="213.0" cy="277.8" r="1.9"/><circle cx="215.0" cy="280.1" r="1.9"/><circle cx="216.5" cy="282.2" r="1.9"/><circle cx="218.5" cy="284.6" r="1.9"/><circle cx="220.5" cy="286.3" r="1.9"/><circle cx="222.5" cy="288.5" r="1.9"/><circle cx="224.5" cy="290.4" r="1.9"/><circle cx="227.0" cy="292.5" r="1.9"/><circle cx="229.5" cy="293.9" r="1.9"/><circle cx="232.0" cy="295.1" r="1.9"/><circle cx="234.5" cy="296.3" r="1.9"/><circle cx="237.5" cy="297.2" r="1.9"/><circle cx="240.0" cy="298.0" r="1.9"/><circle cx="243.0" cy="298.5" r="1.9"/><circle cx="246.0" cy="298.7" r="1.9"/><circle cx="248.5" cy="299.4" r="1.9"/><circle cx="251.0" cy="300.3" r="1.9"/><circle cx="254.0" cy="301.0" r="1.9"/><circle cx="257.0" cy="301.8" r="1.9"/><circle cx="259.5" cy="302.5" r="1.9"/><circle cx="262.5" cy="302.9" r="1.9"/><circle cx="265.5" cy="303.3" r="1.9"/><circle cx="268.0" cy="304.4" r="1.9"/><circle cx="271.0" cy="304.3" r="1.9"/><circle cx="274.0" cy="304.8" r="1.9"/><circle cx="277.0" cy="305.4" r="1.9"/><circle cx="280.0" cy="305.6" r="1.9"/><circle cx="283.0" cy="305.8" r="1.9"/><circle cx="286.0" cy="306.4" r="1.9"/><circle cx="289.0" cy="305.8" r="1.9"/><circle cx="292.0" cy="305.9" r="1.9"/><circle cx="295.0" cy="306.4" r="1.9"/><circle cx="298.0" cy="306.6" r="1.9"/><circle cx="301.0" cy="306.9" r="1.9"/><circle cx="304.0" cy="306.9" r="1.9"/><circle cx="307.0" cy="306.8" r="1.9"/><circle cx="310.0" cy="306.8" r="1.9"/><circle cx="313.0" cy="306.9" r="1.9"/><circle cx="316.0" cy="306.8" r="1.9"/><circle cx="319.0" cy="306.8" r="1.9"/><circle cx="322.0" cy="307.1" r="1.9"/></g>
<path d="M24.5,306.8L25.5,306.8L26.5,306.8L27.5,306.8L28.5,306.8L29.5,306.7L30.5,306.7L31.5,306.7L32.5,306.7L33.5,306.7L34.5,306.7L35.5,306.6L36.5,306.6L37.5,306.6L38.5,306.6L39.5,306.6L40.5,306.6L41.5,306.5L42.5,306.5L43.5,306.5L44.5,306.5L45.5,306.4L46.5,306.4L47.5,306.4L48.5,306.4L49.5,306.3L50.5,306.3L51.5,306.3L52.5,306.3L53.5,306.2L54.5,306.2L55.5,306.2L56.5,306.2L57.5,306.1L58.5,306.1L59.5,306.1L60.5,306.0L61.5,306.0L62.5,306.0L63.5,305.9L64.5,305.9L65.5,305.8L66.5,305.8L67.5,305.8L68.5,305.7L69.5,305.7L70.5,305.6L71.5,305.6L72.5,305.5L73.5,305.5L74.5,305.4L75.5,305.4L76.5,305.3L77.5,305.2L78.5,305.2L79.5,305.1L80.5,305.1L81.5,305.0L82.5,304.9L83.5,304.8L84.5,304.8L85.5,304.7L86.5,304.6L87.5,304.5L88.5,304.4L89.5,304.3L90.5,304.2L91.5,304.1L92.5,304.0L93.5,303.9L94.5,303.8L95.5,303.7L96.5,303.6L97.5,303.4L98.5,303.3L99.5,303.1L100.5,303.0L101.5,302.8L102.5,302.7L103.5,302.5L104.5,302.3L105.5,302.1L106.5,301.9L107.5,301.7L108.5,301.4L109.5,301.2L110.5,300.9L111.5,300.6L112.5,300.3L113.5,300.0L114.5,299.7L115.5,299.4L116.5,299.0L117.5,298.6L118.5,298.2L119.5,297.8L120.5,297.3L121.5,296.8L122.5,296.3L123.5,295.8L124.5,295.2L125.5,294.6L126.5,294.0L127.5,293.3L128.5,292.6L129.5,291.9L130.5,291.2L131.5,290.4L132.5,289.6L133.5,288.8L134.5,287.9L135.5,287.0L136.5,286.1L137.5,285.2L138.5,284.3L139.5,283.4L140.5,282.5L141.5,281.7L142.5,280.8L143.5,280.0L144.5,279.3L145.5,278.6L146.5,278.0L147.5,277.5L148.5,277.1L149.5,276.8L150.5,276.6L151.5,276.5L152.5,276.5L153.5,276.7L154.5,276.9L155.5,277.3L156.5,277.7L157.5,278.2L158.5,278.8L159.5,279.4L160.5,280.1L161.5,280.8L162.5,281.5L163.5,282.1L164.5,282.8L165.5,283.5L166.5,284.1L167.5,284.7L168.5,285.3L169.5,285.8L170.5,286.3L171.5,286.8L172.5,287.1L173.5,287.5L174.5,287.7L175.5,287.9L176.5,288.1L177.5,288.2L178.5,288.2L179.5,288.1L180.5,288.0L181.5,287.8L182.5,287.5L183.5,287.2L184.5,286.8L185.5,286.3L186.5,285.8L187.5,285.2L188.5,284.5L189.5,283.8L190.5,283.0L191.5,282.2L192.5,281.3L193.5,280.3L194.5,279.4L195.5,278.4L196.5,277.4L197.5,276.5L198.5,275.6L199.5,274.8L200.5,274.0L201.5,273.4L202.5,273.0L203.5,272.6L204.5,272.5L205.5,272.6L206.5,272.8L207.5,273.2L208.5,273.8L209.5,274.6L210.5,275.4L211.5,276.4L212.5,277.5L213.5,278.7L214.5,279.9L215.5,281.1L216.5,282.3L217.5,283.5L218.5,284.7L219.5,285.8L220.5,286.9L221.5,288.0L222.5,289.0L223.5,289.9L224.5,290.8L225.5,291.6L226.5,292.4L227.5,293.1L228.5,293.8L229.5,294.4L230.5,295.0L231.5,295.5L232.5,295.9L233.5,296.3L234.5,296.7L235.5,297.0L236.5,297.3L237.5,297.5L238.5,297.8L239.5,298.0L240.5,298.2L241.5,298.3L242.5,298.5L243.5,298.6L244.5,298.8L245.5,298.9L246.5,299.1L247.5,299.3L248.5,299.5L249.5,299.7L250.5,299.9L251.5,300.1L252.5,300.3L253.5,300.6L254.5,300.8L255.5,301.1L256.5,301.3L257.5,301.6L258.5,301.9L259.5,302.1L260.5,302.4L261.5,302.6L262.5,302.8L263.5,303.1L264.5,303.3L265.5,303.5L266.5,303.7L267.5,303.9L268.5,304.1L269.5,304.2L270.5,304.4L271.5,304.5L272.5,304.7L273.5,304.8L274.5,304.9L275.5,305.0L276.5,305.1L277.5,305.2L278.5,305.3L279.5,305.4L280.5,305.5L281.5,305.5L282.5,305.6L283.5,305.7L284.5,305.7L285.5,305.8L286.5,305.8L287.5,305.9L288.5,305.9L289.5,306.0L290.5,306.0L291.5,306.0L292.5,306.1L293.5,306.1L294.5,306.2L295.5,306.2L296.5,306.2L297.5,306.3L298.5,306.3L299.5,306.3L300.5,306.3L301.5,306.4L302.5,306.4L303.5,306.4L304.5,306.4L305.5,306.5L306.5,306.5L307.5,306.5L308.5,306.5L309.5,306.6L310.5,306.6L311.5,306.6L312.3,306.6" stroke="#47b9e6" stroke-width="1.65"/>
<path d="M24.5,307.1L25.5,307.0L26.5,307.0L27.5,307.0L28.5,307.0L29.5,307.0L30.5,307.0L31.5,307.0L32.5,307.0L33.5,306.9L34.5,306.9L35.5,306.9L36.5,306.9L37.5,306.9L38.5,306.9L39.5,306.9L40.5,306.8L41.5,306.8L42.5,306.8L43.5,306.8L44.5,306.8L45.5,306.7L46.5,306.7L47.5,306.7L48.5,306.7L49.5,306.7L50.5,306.6L51.5,306.6L52.5,306.6L53.5,306.6L54.5,306.6L55.5,306.5L56.5,306.5L57.5,306.5L58.5,306.4L59.5,306.4L60.5,306.4L61.5,306.4L62.5,306.3L63.5,306.3L64.5,306.3L65.5,306.2L66.5,306.2L67.5,306.2L68.5,306.1L69.5,306.1L70.5,306.0L71.5,306.0L72.5,306.0L73.5,305.9L74.5,305.9L75.5,305.8L76.5,305.8L77.5,305.7L78.5,305.7L79.5,305.6L80.5,305.6L81.5,305.5L82.5,305.4L83.5,305.4L84.5,305.3L85.5,305.2L86.5,305.2L87.5,305.1L88.5,305.0L89.5,304.9L90.5,304.8L91.5,304.7L92.5,304.6L93.5,304.5L94.5,304.4L95.5,304.3L96.5,304.2L97.5,304.1L98.5,304.0L99.5,303.8L100.5,303.7L101.5,303.5L102.5,303.4L103.5,303.2L104.5,303.0L105.5,302.9L106.5,302.7L107.5,302.4L108.5,302.2L109.5,302.0L110.5,301.8L111.5,301.5L112.5,301.2L113.5,300.9L114.5,300.6L115.5,300.3L116.5,299.9L117.5,299.6L118.5,299.2L119.5,298.8L120.5,298.3L121.5,297.9L122.5,297.4L123.5,296.9L124.5,296.3L125.5,295.8L126.5,295.2L127.5,294.6L128.5,293.9L129.5,293.2L130.5,292.5L131.5,291.8L132.5,291.0L133.5,290.2L134.5,289.4L135.5,288.5L136.5,287.7L137.5,286.8L138.5,286.0L139.5,285.1L140.5,284.3L141.5,283.4L142.5,282.6L143.5,281.9L144.5,281.2L145.5,280.6L146.5,280.0L147.5,279.6L148.5,279.3L149.5,279.0L150.5,278.9L151.5,278.9L152.5,279.0L153.5,279.3L154.5,279.6L155.5,280.1L156.5,280.6L157.5,281.3L158.5,281.9L159.5,282.7L160.5,283.5L161.5,284.3L162.5,285.2L163.5,286.0L164.5,286.9L165.5,287.8L166.5,288.6L167.5,289.4L168.5,290.3L169.5,291.1L170.5,291.8L171.5,292.6L172.5,293.3L173.5,293.9L174.5,294.6L175.5,295.2L176.5,295.8L177.5,296.4L178.5,296.9L179.5,297.4L180.5,297.9L181.5,298.4L182.5,298.8L183.5,299.2L184.5,299.6L185.5,300.0L186.5,300.3L187.5,300.6L188.5,300.9L189.5,301.2L190.5,301.5L191.5,301.8L192.5,302.0L193.5,302.2L194.5,302.5L195.5,302.7L196.5,302.9L197.5,303.1L198.5,303.2L199.5,303.4L200.5,303.5L201.5,303.7L202.5,303.8L203.5,304.0L204.5,304.1L205.5,304.2L206.5,304.3L207.5,304.4L208.5,304.6L209.5,304.7L210.5,304.7L211.5,304.8L212.5,304.9L213.5,305.0L214.5,305.1L215.5,305.2L216.5,305.2L217.5,305.3L218.5,305.4L219.5,305.4L220.5,305.5L221.5,305.6L222.5,305.6L223.5,305.7L224.5,305.7L225.5,305.8L226.5,305.8L227.5,305.9L228.5,305.9L229.5,306.0L230.5,306.0L231.5,306.0L232.5,306.1L233.5,306.1L234.5,306.2L235.5,306.2L236.5,306.2L237.5,306.3L238.5,306.3L239.5,306.3L240.5,306.4L241.5,306.4L242.5,306.4L243.5,306.4L244.5,306.5L245.5,306.5L246.5,306.5L247.5,306.6L248.5,306.6L249.5,306.6L250.5,306.6L251.5,306.6L252.5,306.7L253.5,306.7L254.5,306.7L255.5,306.7L256.5,306.7L257.5,306.8L258.5,306.8L259.5,306.8L260.5,306.8L261.5,306.8L262.5,306.9L263.5,306.9L264.5,306.9L265.5,306.9L266.5,306.9L267.5,306.9L268.5,306.9L269.5,307.0L270.5,307.0L271.5,307.0L272.5,307.0L273.5,307.0L274.5,307.0L275.5,307.0L276.5,307.0L277.5,307.1L278.5,307.1L279.5,307.1L280.5,307.1L281.5,307.1L282.5,307.1L283.5,307.1L284.5,307.1L285.5,307.1L286.5,307.2L287.5,307.2L288.5,307.2L289.5,307.2L290.5,307.2L291.5,307.2L292.5,307.2L293.5,307.2L294.5,307.2L295.5,307.2L296.5,307.2L297.5,307.2L298.5,307.3L299.5,307.3L300.5,307.3L301.5,307.3L302.5,307.3L303.5,307.3L304.5,307.3L305.5,307.3L306.5,307.3L307.5,307.3L308.5,307.3L309.5,307.3L310.5,307.3L311.5,307.3L312.3,307.3" stroke="#dcc6ff" stroke-width="1.5"/>
<path d="M24.5,307.6L25.5,307.6L26.5,307.6L27.5,307.6L28.5,307.6L29.5,307.6L30.5,307.6L31.5,307.5L32.5,307.5L33.5,307.5L34.5,307.5L35.5,307.5L36.5,307.5L37.5,307.5L38.5,307.5L39.5,307.5L40.5,307.5L41.5,307.5L42.5,307.5L43.5,307.5L44.5,307.5L45.5,307.5L46.5,307.5L47.5,307.5L48.5,307.5L49.5,307.5L50.5,307.5L51.5,307.5L52.5,307.5L53.5,307.5L54.5,307.5L55.5,307.5L56.5,307.5L57.5,307.5L58.5,307.5L59.5,307.4L60.5,307.4L61.5,307.4L62.5,307.4L63.5,307.4L64.5,307.4L65.5,307.4L66.5,307.4L67.5,307.4L68.5,307.4L69.5,307.4L70.5,307.4L71.5,307.4L72.5,307.4L73.5,307.4L74.5,307.4L75.5,307.4L76.5,307.3L77.5,307.3L78.5,307.3L79.5,307.3L80.5,307.3L81.5,307.3L82.5,307.3L83.5,307.3L84.5,307.3L85.5,307.3L86.5,307.3L87.5,307.3L88.5,307.3L89.5,307.2L90.5,307.2L91.5,307.2L92.5,307.2L93.5,307.2L94.5,307.2L95.5,307.2L96.5,307.2L97.5,307.2L98.5,307.1L99.5,307.1L100.5,307.1L101.5,307.1L102.5,307.1L103.5,307.1L104.5,307.1L105.5,307.1L106.5,307.0L107.5,307.0L108.5,307.0L109.5,307.0L110.5,307.0L111.5,307.0L112.5,306.9L113.5,306.9L114.5,306.9L115.5,306.9L116.5,306.9L117.5,306.8L118.5,306.8L119.5,306.8L120.5,306.8L121.5,306.8L122.5,306.7L123.5,306.7L124.5,306.7L125.5,306.7L126.5,306.6L127.5,306.6L128.5,306.6L129.5,306.5L130.5,306.5L131.5,306.5L132.5,306.4L133.5,306.4L134.5,306.4L135.5,306.3L136.5,306.3L137.5,306.2L138.5,306.2L139.5,306.2L140.5,306.1L141.5,306.1L142.5,306.0L143.5,305.9L144.5,305.9L145.5,305.8L146.5,305.8L147.5,305.7L148.5,305.6L149.5,305.6L150.5,305.5L151.5,305.4L152.5,305.3L153.5,305.2L154.5,305.1L155.5,305.0L156.5,304.9L157.5,304.8L158.5,304.7L159.5,304.6L160.5,304.4L161.5,304.3L162.5,304.1L163.5,304.0L164.5,303.8L165.5,303.6L166.5,303.4L167.5,303.2L168.5,302.9L169.5,302.6L170.5,302.4L171.5,302.1L172.5,301.7L173.5,301.4L174.5,301.0L175.5,300.6L176.5,300.1L177.5,299.6L178.5,299.1L179.5,298.6L180.5,298.0L181.5,297.3L182.5,296.6L183.5,295.9L184.5,295.1L185.5,294.3L186.5,293.4L187.5,292.4L188.5,291.5L189.5,290.4L190.5,289.4L191.5,288.3L192.5,287.1L193.5,286.0L194.5,284.8L195.5,283.6L196.5,282.5L197.5,281.4L198.5,280.3L199.5,279.3L200.5,278.4L201.5,277.7L202.5,277.1L203.5,276.6L204.5,276.4L205.5,276.3L206.5,276.4L207.5,276.8L208.5,277.3L209.5,277.9L210.5,278.7L211.5,279.6L212.5,280.6L213.5,281.7L214.5,282.9L215.5,284.0L216.5,285.2L217.5,286.4L218.5,287.5L219.5,288.7L220.5,289.7L221.5,290.8L222.5,291.8L223.5,292.8L224.5,293.7L225.5,294.5L226.5,295.4L227.5,296.1L228.5,296.9L229.5,297.5L230.5,298.2L231.5,298.7L232.5,299.3L233.5,299.8L234.5,300.3L235.5,300.7L236.5,301.1L237.5,301.5L238.5,301.8L239.5,302.2L240.5,302.5L241.5,302.7L242.5,303.0L243.5,303.2L244.5,303.5L245.5,303.7L246.5,303.8L247.5,304.0L248.5,304.2L249.5,304.3L250.5,304.5L251.5,304.6L252.5,304.7L253.5,304.9L254.5,305.0L255.5,305.1L256.5,305.2L257.5,305.3L258.5,305.3L259.5,305.4L260.5,305.5L261.5,305.6L262.5,305.7L263.5,305.7L264.5,305.8L265.5,305.9L266.5,305.9L267.5,306.0L268.5,306.0L269.5,306.1L270.5,306.1L271.5,306.2L272.5,306.2L273.5,306.3L274.5,306.3L275.5,306.3L276.5,306.4L277.5,306.4L278.5,306.4L279.5,306.5L280.5,306.5L281.5,306.5L282.5,306.6L283.5,306.6L284.5,306.6L285.5,306.7L286.5,306.7L287.5,306.7L288.5,306.7L289.5,306.8L290.5,306.8L291.5,306.8L292.5,306.8L293.5,306.9L294.5,306.9L295.5,306.9L296.5,306.9L297.5,306.9L298.5,306.9L299.5,307.0L300.5,307.0L301.5,307.0L302.5,307.0L303.5,307.0L304.5,307.0L305.5,307.1L306.5,307.1L307.5,307.1L308.5,307.1L309.5,307.1L310.5,307.1L311.5,307.1L312.3,307.1" stroke="#42de2d" stroke-width="1.6"/>
<path d="M24.5,307.8L25.5,307.8L26.5,307.8L27.5,307.8L28.5,307.8L29.5,307.8L30.5,307.8L31.5,307.8L32.5,307.8L33.5,307.8L34.5,307.8L35.5,307.8L36.5,307.8L37.5,307.8L38.5,307.8L39.5,307.8L40.5,307.8L41.5,307.8L42.5,307.8L43.5,307.8L44.5,307.8L45.5,307.8L46.5,307.8L47.5,307.8L48.5,307.8L49.5,307.8L50.5,307.8L51.5,307.8L52.5,307.8L53.5,307.8L54.5,307.8L55.5,307.8L56.5,307.8L57.5,307.8L58.5,307.8L59.5,307.8L60.5,307.8L61.5,307.8L62.5,307.8L63.5,307.8L64.5,307.8L65.5,307.8L66.5,307.8L67.5,307.8L68.5,307.8L69.5,307.8L70.5,307.8L71.5,307.8L72.5,307.8L73.5,307.8L74.5,307.8L75.5,307.8L76.5,307.8L77.5,307.8L78.5,307.8L79.5,307.8L80.5,307.8L81.5,307.8L82.5,307.8L83.5,307.8L84.5,307.8L85.5,307.8L86.5,307.8L87.5,307.8L88.5,307.8L89.5,307.8L90.5,307.8L91.5,307.8L92.5,307.8L93.5,307.8L94.5,307.8L95.5,307.8L96.5,307.8L97.5,307.8L98.5,307.8L99.5,307.8L100.5,307.8L101.5,307.8L102.5,307.8L103.5,307.8L104.5,307.8L105.5,307.8L106.5,307.8L107.5,307.8L108.5,307.8L109.5,307.8L110.5,307.8L111.5,307.8L112.5,307.8L113.5,307.8L114.5,307.8L115.5,307.8L116.5,307.8L117.5,307.8L118.5,307.8L119.5,307.8L120.5,307.8L121.5,307.8L122.5,307.8L123.5,307.8L124.5,307.8L125.5,307.8L126.5,307.8L127.5,307.8L128.5,307.8L129.5,307.8L130.5,307.8L131.5,307.8L132.5,307.8L133.5,307.8L134.5,307.8L135.5,307.8L136.5,307.8L137.5,307.8L138.5,307.8L139.5,307.8L140.5,307.8L141.5,307.8L142.5,307.8L143.5,307.8L144.5,307.8L145.5,307.8L146.5,307.8L147.5,307.8L148.5,307.8L149.5,307.8L150.5,307.8L151.5,307.8L152.5,307.8L153.5,307.8L154.5,307.8L155.5,307.8L156.5,307.8L157.5,307.8L158.5,307.8L159.5,307.8L160.5,307.8L161.5,307.8L162.5,307.8L163.5,307.8L164.5,307.8L165.5,307.8L166.5,307.8L167.5,307.8L168.5,307.8L169.5,307.7L170.5,307.7L171.5,307.7L172.5,307.7L173.5,307.7L174.5,307.7L175.5,307.7L176.5,307.7L177.5,307.7L178.5,307.7L179.5,307.7L180.5,307.7L181.5,307.7L182.5,307.7L183.5,307.7L184.5,307.7L185.5,307.7L186.5,307.7L187.5,307.7L188.5,307.7L189.5,307.7L190.5,307.7L191.5,307.7L192.5,307.7L193.5,307.7L194.5,307.7L195.5,307.7L196.5,307.7L197.5,307.7L198.5,307.7L199.5,307.7L200.5,307.7L201.5,307.7L202.5,307.7L203.5,307.7L204.5,307.6L205.5,307.6L206.5,307.6L207.5,307.6L208.5,307.6L209.5,307.6L210.5,307.6L211.5,307.6L212.5,307.5L213.5,307.5L214.5,307.5L215.5,307.5L216.5,307.4L217.5,307.4L218.5,307.4L219.5,307.3L220.5,307.3L221.5,307.2L222.5,307.2L223.5,307.1L224.5,307.0L225.5,306.9L226.5,306.8L227.5,306.7L228.5,306.6L229.5,306.5L230.5,306.4L231.5,306.3L232.5,306.1L233.5,306.0L234.5,305.8L235.5,305.7L236.5,305.5L237.5,305.4L238.5,305.2L239.5,305.1L240.5,304.9L241.5,304.8L242.5,304.7L243.5,304.6L244.5,304.5L245.5,304.4L246.5,304.3L247.5,304.3L248.5,304.3L249.5,304.3L250.5,304.4L251.5,304.4L252.5,304.5L253.5,304.6L254.5,304.7L255.5,304.9L256.5,305.0L257.5,305.2L258.5,305.3L259.5,305.5L260.5,305.6L261.5,305.8L262.5,305.9L263.5,306.1L264.5,306.2L265.5,306.3L266.5,306.5L267.5,306.6L268.5,306.7L269.5,306.8L270.5,306.9L271.5,307.0L272.5,307.1L273.5,307.1L274.5,307.2L275.5,307.3L276.5,307.3L277.5,307.3L278.5,307.4L279.5,307.4L280.5,307.5L281.5,307.5L282.5,307.5L283.5,307.5L284.5,307.6L285.5,307.6L286.5,307.6L287.5,307.6L288.5,307.6L289.5,307.6L290.5,307.6L291.5,307.6L292.5,307.6L293.5,307.7L294.5,307.7L295.5,307.7L296.5,307.7L297.5,307.7L298.5,307.7L299.5,307.7L300.5,307.7L301.5,307.7L302.5,307.7L303.5,307.7L304.5,307.7L305.5,307.7L306.5,307.7L307.5,307.7L308.5,307.7L309.5,307.7L310.5,307.7L311.5,307.7L312.3,307.7" stroke="#b2b2e4" stroke-width="1.3"/>
<path d="M100.2,458.4L100.7,458.1L101.2,457.8L101.7,457.5L102.2,457.3L102.7,457.0L103.2,456.6L103.7,456.4L104.2,456.1L104.7,455.8L105.2,455.4L105.7,454.9L106.2,454.6L106.7,454.1L107.2,453.6L107.7,452.9L108.2,452.4L108.7,451.8L109.2,451.2L109.7,450.5L110.2,450.1L110.7,449.5L111.2,449.0L111.7,448.3L112.2,447.7L112.7,447.0L113.2,446.4L113.7,445.5L114.2,444.6L114.7,443.7L115.2,443.0L115.7,442.2L116.2,441.2L116.7,440.2L117.2,439.4L117.7,438.3L118.2,437.3L118.7,436.2L119.2,435.0L119.7,433.8L120.2,432.5L120.7,431.3L121.2,429.9L121.7,428.6L122.2,427.2L122.7,425.7L123.2,424.4L123.7,423.0L124.2,421.2L124.7,419.7L125.2,418.1L125.7,416.4L126.2,414.8L126.7,412.9L127.2,411.1L127.7,409.5L128.2,407.6L128.7,405.7L129.2,403.8L129.7,401.9L130.2,399.9L130.7,397.9L131.2,395.8L131.7,394.0L132.2,392.2L132.7,390.2L133.2,388.2L133.7,386.5L134.2,384.5L134.7,382.7L135.2,380.8L135.7,379.1L136.2,377.6L136.7,376.0L137.2,374.4L137.7,373.1L138.2,371.9L138.7,370.6L139.2,369.3L139.7,368.2L140.2,367.3L140.7,366.5L141.2,365.7L141.7,365.1L142.2,364.6L142.7,364.4L143.2,364.3L143.7,364.3L144.2,364.4L144.7,364.7L145.2,365.1L145.7,365.6L146.2,366.2L146.7,366.7L147.2,367.5L147.7,368.2L148.2,369.0L148.7,369.9L149.2,371.0L149.7,372.1L150.2,373.5L150.7,374.7L151.2,376.0L151.7,377.4L152.2,378.8L152.7,380.1L153.2,381.4L153.7,382.6L154.2,384.0L154.7,385.2L155.2,386.4L155.7,387.6L156.2,388.7L156.7,389.9L157.2,390.9L157.7,392.0L158.2,393.1L158.7,394.1L159.2,395.0L159.7,395.9L160.2,396.5L160.7,397.3L161.2,397.9L161.7,398.3L162.2,398.9L162.7,399.3L163.2,399.8L163.7,400.2L164.2,400.6L164.7,400.8L165.2,401.0L165.7,401.0L166.2,401.2L166.7,401.0L167.2,400.9L167.7,400.5L168.2,400.1L168.7,399.8L169.2,399.1L169.7,398.4L170.2,397.6L170.7,396.8L171.2,395.8L171.7,395.0L172.2,393.9L172.7,392.8L173.2,391.6L173.7,390.3L174.2,388.9L174.7,387.4L175.2,385.7L175.7,384.0L176.2,382.1L176.7,380.2L177.2,378.2L177.7,376.3L178.2,374.2L178.7,371.9L179.2,369.7L179.7,367.5L180.2,365.1L180.7,362.7L181.2,360.0L181.7,357.4L182.2,354.9L182.7,352.3L183.2,349.6L183.7,347.0L184.2,344.4L184.7,341.8L185.2,339.4L185.7,336.7L186.2,334.2L186.7,332.0L187.2,329.8L187.7,327.7L188.2,325.8L188.7,323.9L189.2,322.4L189.7,321.1L190.2,319.8L190.7,318.8L191.2,318.1L191.7,317.7L192.2,317.5L192.7,317.6L193.2,317.8L193.7,318.2L194.2,319.1L194.7,320.2L195.2,321.3L195.7,322.8L196.2,324.5L196.7,326.5L197.2,328.7L197.7,330.8L198.2,333.2L198.7,335.6L199.2,338.2L199.7,340.8L200.2,343.6L200.7,346.4L201.2,349.4L201.7,352.1L202.2,354.9L202.7,357.8L203.2,360.5L203.7,363.3L204.2,366.0L204.7,368.5L205.2,371.2L205.7,374.0L206.2,376.6L206.7,379.2L207.2,381.7L207.7,384.0L208.2,386.4L208.7,388.8L209.2,390.9L209.7,393.0L210.2,395.1L210.7,397.1L211.2,399.2L211.7,401.1L212.2,402.8L212.7,404.6L213.2,406.3L213.7,407.8L214.2,409.3L214.7,410.8L215.2,412.3L215.7,413.8L216.2,415.0L216.7,416.4L217.2,417.5L217.7,418.7L218.2,419.6L218.7,420.5L219.2,421.3L219.7,422.2L220.2,423.0L220.7,423.7L221.2,424.5L221.7,425.2L222.2,425.7L222.7,426.1L223.2,426.4L223.7,426.6L224.2,427.0L224.7,427.3L225.2,427.6L225.7,427.9L226.2,428.1L226.7,428.5L227.2,428.9L227.7,429.0L228.2,428.9L228.7,428.9L229.2,429.0L229.7,429.1L230.2,428.9L230.7,428.8L231.2,428.7L231.7,428.6L232.2,428.6L232.7,428.4L233.2,428.3L233.7,428.3L234.2,428.3L234.7,428.5L235.2,428.8L235.7,428.9L236.2,429.4L236.7,429.8L237.2,430.0L237.7,430.6L238.2,431.1L238.7,431.6L239.2,432.3L239.7,432.9L240.2,433.7L240.7,434.8L241.2,435.6L241.7,436.5L242.2,437.5L242.7,438.4L243.2,439.3L243.7,440.0L244.2,440.9L244.7,441.9L245.2,442.8L245.7,443.5L246.2,444.4L246.7,445.2L247.2,446.1L247.7,446.7L248.2,447.3L248.7,448.0L249.2,448.7L249.7,449.3L250.2,449.8L250.7,450.4L251.2,451.1L251.7,451.7L252.2,452.1L252.7,452.5L253.2,452.9L253.7,453.4L254.2,453.9L254.7,454.2L255.2,454.6L255.7,454.9L256.2,455.3L256.7,455.6L257.2,456.0L257.7,456.2L258.2,456.6L258.7,456.9L259.2,457.2L259.7,457.6L260.2,458.0L260.7,458.2L261.2,458.5L261.7,458.7L262.2,458.9L262.7,459.2L263.2,459.4L263.7,459.6L264.2,459.9L264.7,460.0L265.2,460.2L265.7,460.4L266.2,460.4L266.7,460.6L267.2,460.7L267.7,461.0L268.2,461.3L268.7,461.5L269.2,461.8L269.7,462.1L270.2,462.2L270.7,462.3L271.2,462.3L271.7,462.3L272.2,462.5L272.7,462.7L273.2,462.6L273.7,462.7L274.2,462.8L274.7,463.0L275.2,463.1L275.7,463.1L276.2,463.2L276.7,463.4L277.2,463.5L277.7,463.7L278.2,463.7L278.7,463.9L279.2,464.1L279.7,464.2L280.2,464.3L280.7,464.3L281.2,464.4L281.7,464.4L282.2,464.3L282.7,464.3L283.2,464.4L283.7,464.5L284.2,464.5L284.7,464.6L285.2,464.7L285.7,464.9L286.2,465.1L286.7,465.2L287.2,465.2L287.7,465.3L288.2,465.4L288.7,465.5L289.2,465.4L289.7,465.3L290.2,465.3L290.7,465.5L291.2,465.7L291.7,465.8L292.2,465.9L292.7,466.1L293.2,466.1L293.7,466.2L294.2,466.1L294.7,466.0L295.2,465.9L295.7,466.0L296.2,466.0L296.7,466.1L297.2,466.3L297.7,466.2L298.2,466.3L298.7,466.5L299.2,466.5L299.7,466.5L300.2,466.6L300.7,466.6L301.2,466.7L301.7,466.7L302.2,466.8L302.7,466.8L303.2,466.8L303.7,466.8L304.2,466.9L304.7,467.1L305.2,467.2L305.7,467.2L306.2,467.1L306.7,467.4L307.2,467.4L307.7,467.5L308.2,467.4L308.7,467.4L309.2,467.4L309.7,467.5L310.2,467.4L310.7,467.3L311.2,467.3L311.7,467.4L312.2,467.4L312.7,467.5L313.2,467.5L313.7,467.5L314.2,467.6L314.7,467.4L315.2,467.4L315.7,467.5L316.2,467.4L316.7,467.5L317.2,467.5L317.7,467.6L318.2,467.7" stroke="#efefef" stroke-width="3.2" stroke-linecap="round"/>
<g stroke="#d6d6d6" stroke-width="0.8"><circle cx="100.2" cy="458.4" r="1.9"/><circle cx="102.7" cy="457.0" r="1.9"/><circle cx="105.2" cy="455.4" r="1.9"/><circle cx="107.2" cy="453.6" r="1.9"/><circle cx="109.2" cy="451.2" r="1.9"/><circle cx="111.2" cy="449.0" r="1.9"/><circle cx="113.2" cy="446.4" r="1.9"/><circle cx="114.7" cy="443.7" r="1.9"/><circle cx="116.2" cy="441.2" r="1.9"/><circle cx="117.7" cy="438.3" r="1.9"/><circle cx="119.2" cy="435.0" r="1.9"/><circle cx="120.2" cy="432.5" r="1.9"/><circle cx="121.2" cy="429.9" r="1.9"/><circle cx="122.2" cy="427.2" r="1.9"/><circle cx="123.2" cy="424.4" r="1.9"/><circle cx="124.2" cy="421.2" r="1.9"/><circle cx="125.2" cy="418.1" r="1.9"/><circle cx="126.2" cy="414.8" r="1.9"/><circle cx="127.2" cy="411.1" r="1.9"/><circle cx="128.2" cy="407.6" r="1.9"/><circle cx="129.2" cy="403.8" r="1.9"/><circle cx="130.2" cy="399.9" r="1.9"/><circle cx="131.2" cy="395.8" r="1.9"/><circle cx="132.2" cy="392.2" r="1.9"/><circle cx="133.2" cy="388.2" r="1.9"/><circle cx="134.2" cy="384.5" r="1.9"/><circle cx="135.2" cy="380.8" r="1.9"/><circle cx="136.2" cy="377.6" r="1.9"/><circle cx="137.2" cy="374.4" r="1.9"/><circle cx="138.2" cy="371.9" r="1.9"/><circle cx="139.2" cy="369.3" r="1.9"/><circle cx="140.7" cy="366.5" r="1.9"/><circle cx="142.7" cy="364.4" r="1.9"/><circle cx="145.7" cy="365.6" r="1.9"/><circle cx="147.7" cy="368.2" r="1.9"/><circle cx="149.2" cy="371.0" r="1.9"/><circle cx="150.2" cy="373.5" r="1.9"/><circle cx="151.2" cy="376.0" r="1.9"/><circle cx="152.2" cy="378.8" r="1.9"/><circle cx="153.2" cy="381.4" r="1.9"/><circle cx="154.2" cy="384.0" r="1.9"/><circle cx="155.2" cy="386.4" r="1.9"/><circle cx="156.7" cy="389.9" r="1.9"/><circle cx="158.2" cy="393.1" r="1.9"/><circle cx="159.7" cy="395.9" r="1.9"/><circle cx="161.7" cy="398.3" r="1.9"/><circle cx="163.7" cy="400.2" r="1.9"/><circle cx="166.2" cy="401.2" r="1.9"/><circle cx="168.7" cy="399.8" r="1.9"/><circle cx="170.2" cy="397.6" r="1.9"/><circle cx="171.7" cy="395.0" r="1.9"/><circle cx="173.2" cy="391.6" r="1.9"/><circle cx="174.2" cy="388.9" r="1.9"/><circle cx="175.2" cy="385.7" r="1.9"/><circle cx="176.2" cy="382.1" r="1.9"/><circle cx="177.2" cy="378.2" r="1.9"/><circle cx="178.2" cy="374.2" r="1.9"/><circle cx="179.2" cy="369.7" r="1.9"/><circle cx="180.2" cy="365.1" r="1.9"/><circle cx="181.2" cy="360.0" r="1.9"/><circle cx="181.7" cy="357.4" r="1.9"/><circle cx="182.7" cy="352.3" r="1.9"/><circle cx="183.2" cy="349.6" r="1.9"/><circle cx="183.7" cy="347.0" r="1.9"/><circle cx="184.2" cy="344.4" r="1.9"/><circle cx="184.7" cy="341.8" r="1.9"/><circle cx="185.7" cy="336.7" r="1.9"/><circle cx="186.7" cy="332.0" r="1.9"/><circle cx="187.7" cy="327.7" r="1.9"/><circle cx="188.7" cy="323.9" r="1.9"/><circle cx="189.7" cy="321.1" r="1.9"/><circle cx="191.2" cy="318.1" r="1.9"/><circle cx="194.2" cy="319.1" r="1.9"/><circle cx="195.7" cy="322.8" r="1.9"/><circle cx="196.7" cy="326.5" r="1.9"/><circle cx="197.7" cy="330.8" r="1.9"/><circle cx="198.7" cy="335.6" r="1.9"/><circle cx="199.2" cy="338.2" r="1.9"/><circle cx="199.7" cy="340.8" r="1.9"/><circle cx="200.2" cy="343.6" r="1.9"/><circle cx="200.7" cy="346.4" r="1.9"/><circle cx="201.2" cy="349.4" r="1.9"/><circle cx="201.7" cy="352.1" r="1.9"/><circle cx="202.2" cy="354.9" r="1.9"/><circle cx="202.7" cy="357.8" r="1.9"/><circle cx="203.2" cy="360.5" r="1.9"/><circle cx="203.7" cy="363.3" r="1.9"/><circle cx="204.2" cy="366.0" r="1.9"/><circle cx="205.2" cy="371.2" r="1.9"/><circle cx="205.7" cy="374.0" r="1.9"/><circle cx="206.2" cy="376.6" r="1.9"/><circle cx="206.7" cy="379.2" r="1.9"/><circle cx="207.7" cy="384.0" r="1.9"/><circle cx="208.7" cy="388.8" r="1.9"/><circle cx="209.7" cy="393.0" r="1.9"/><circle cx="210.7" cy="397.1" r="1.9"/><circle cx="211.7" cy="401.1" r="1.9"/><circle cx="212.7" cy="404.6" r="1.9"/><circle cx="213.7" cy="407.8" r="1.9"/><circle cx="214.7" cy="410.8" r="1.9"/><circle cx="215.7" cy="413.8" r="1.9"/><circle cx="216.7" cy="416.4" r="1.9"/><circle cx="218.2" cy="419.6" r="1.9"/><circle cx="219.7" cy="422.2" r="1.9"/><circle cx="221.2" cy="424.5" r="1.9"/><circle cx="223.2" cy="426.4" r="1.9"/><circle cx="225.7" cy="427.9" r="1.9"/><circle cx="228.2" cy="428.9" r="1.9"/><circle cx="231.2" cy="428.7" r="1.9"/><circle cx="234.2" cy="428.3" r="1.9"/><circle cx="236.7" cy="429.8" r="1.9"/><circle cx="238.7" cy="431.6" r="1.9"/><circle cx="240.7" cy="434.8" r="1.9"/><circle cx="242.2" cy="437.5" r="1.9"/><circle cx="243.7" cy="440.0" r="1.9"/><circle cx="245.2" cy="442.8" r="1.9"/><circle cx="246.7" cy="445.2" r="1.9"/><circle cx="248.7" cy="448.0" r="1.9"/><circle cx="250.7" cy="450.4" r="1.9"/><circle cx="252.7" cy="452.5" r="1.9"/><circle cx="254.7" cy="454.2" r="1.9"/><circle cx="257.2" cy="456.0" r="1.9"/><circle cx="259.7" cy="457.6" r="1.9"/><circle cx="262.2" cy="458.9" r="1.9"/><circle cx="264.7" cy="460.0" r="1.9"/><circle cx="267.7" cy="461.0" r="1.9"/><circle cx="270.2" cy="462.2" r="1.9"/><circle cx="273.2" cy="462.6" r="1.9"/><circle cx="276.2" cy="463.2" r="1.9"/><circle cx="279.2" cy="464.1" r="1.9"/><circle cx="282.2" cy="464.3" r="1.9"/><circle cx="285.2" cy="464.7" r="1.9"/><circle cx="288.2" cy="465.4" r="1.9"/><circle cx="291.2" cy="465.7" r="1.9"/><circle cx="294.2" cy="466.1" r="1.9"/><circle cx="297.2" cy="466.3" r="1.9"/><circle cx="300.2" cy="466.6" r="1.9"/><circle cx="303.2" cy="466.8" r="1.9"/><circle cx="306.2" cy="467.1" r="1.9"/><circle cx="309.2" cy="467.4" r="1.9"/><circle cx="312.2" cy="467.4" r="1.9"/><circle cx="315.2" cy="467.4" r="1.9"/><circle cx="318.2" cy="467.7" r="1.9"/></g>
<line x1="24.5" y1="471.8" x2="327.4" y2="471.8" stroke="#b4b4bc" stroke-width="1.6" />
<path d="M24.5,468.5L25.5,468.5L26.5,468.5L27.5,468.4L28.5,468.4L29.5,468.4L30.5,468.3L31.5,468.3L32.5,468.3L33.5,468.2L34.5,468.2L35.5,468.1L36.5,468.1L37.5,468.1L38.5,468.0L39.5,468.0L40.5,467.9L41.5,467.9L42.5,467.8L43.5,467.8L44.5,467.7L45.5,467.7L46.5,467.6L47.5,467.6L48.5,467.5L49.5,467.5L50.5,467.4L51.5,467.4L52.5,467.3L53.5,467.2L54.5,467.2L55.5,467.1L56.5,467.0L57.5,467.0L58.5,466.9L59.5,466.8L60.5,466.7L61.5,466.7L62.5,466.6L63.5,466.5L64.5,466.4L65.5,466.3L66.5,466.2L67.5,466.1L68.5,466.0L69.5,465.9L70.5,465.8L71.5,465.7L72.5,465.6L73.5,465.5L74.5,465.4L75.5,465.2L76.5,465.1L77.5,465.0L78.5,464.8L79.5,464.7L80.5,464.6L81.5,464.4L82.5,464.2L83.5,464.1L84.5,463.9L85.5,463.7L86.5,463.5L87.5,463.3L88.5,463.1L89.5,462.9L90.5,462.6L91.5,462.4L92.5,462.1L93.5,461.9L94.5,461.6L95.5,461.3L96.5,460.9L97.5,460.6L98.5,460.2L99.5,459.8L100.5,459.4L101.5,458.9L102.5,458.4L103.5,457.9L104.5,457.3L105.5,456.6L106.5,455.9L107.5,455.2L108.5,454.3L109.5,453.4L110.5,452.4L111.5,451.2L112.5,450.0L113.5,448.7L114.5,447.2L115.5,445.6L116.5,443.9L117.5,442.0L118.5,439.9L119.5,437.7L120.5,435.3L121.5,432.7L122.5,430.0L123.5,427.0L124.5,423.9L125.5,420.6L126.5,417.2L127.5,413.6L128.5,409.8L129.5,406.0L130.5,402.0L131.5,398.0L132.5,393.9L133.5,389.9L134.5,386.0L135.5,382.2L136.5,378.6L137.5,375.3L138.5,372.4L139.5,369.9L140.5,367.9L141.5,366.4L142.5,365.6L143.5,365.4L144.5,365.7L145.5,366.6L146.5,368.1L147.5,369.9L148.5,372.2L149.5,374.7L150.5,377.4L151.5,380.2L152.5,383.2L153.5,386.1L154.5,388.9L155.5,391.7L156.5,394.3L157.5,396.7L158.5,399.0L159.5,401.0L160.5,402.7L161.5,404.2L162.5,405.4L163.5,406.3L164.5,406.8L165.5,407.1L166.5,407.1L167.5,406.7L168.5,405.9L169.5,404.8L170.5,403.4L171.5,401.6L172.5,399.4L173.5,396.9L174.5,394.0L175.5,390.7L176.5,387.0L177.5,383.0L178.5,378.6L179.5,373.8L180.5,368.7L181.5,363.4L182.5,357.9L183.5,352.2L184.5,346.5L185.5,341.0L186.5,335.6L187.5,330.7L188.5,326.3L189.5,322.7L190.5,320.0L191.5,318.3L192.5,317.8L193.5,318.4L194.5,320.1L195.5,322.9L196.5,326.6L197.5,331.1L198.5,336.3L199.5,341.9L200.5,347.8L201.5,353.9L202.5,359.9L203.5,365.9L204.5,371.8L205.5,377.4L206.5,382.7L207.5,387.8L208.5,392.6L209.5,397.0L210.5,401.2L211.5,405.0L212.5,408.6L213.5,411.8L214.5,414.8L215.5,417.5L216.5,419.9L217.5,422.1L218.5,424.0L219.5,425.7L220.5,427.2L221.5,428.5L222.5,429.5L223.5,430.4L224.5,431.0L225.5,431.5L226.5,431.7L227.5,431.8L228.5,431.7L229.5,431.5L230.5,431.2L231.5,430.8L232.5,430.5L233.5,430.3L234.5,430.2L235.5,430.4L236.5,430.9L237.5,431.8L238.5,432.9L239.5,434.3L240.5,435.9L241.5,437.7L242.5,439.5L243.5,441.3L244.5,443.0L245.5,444.7L246.5,446.3L247.5,447.8L248.5,449.1L249.5,450.4L250.5,451.6L251.5,452.6L252.5,453.6L253.5,454.5L254.5,455.3L255.5,456.1L256.5,456.7L257.5,457.4L258.5,458.0L259.5,458.5L260.5,459.0L261.5,459.5L262.5,459.9L263.5,460.3L264.5,460.7L265.5,461.0L266.5,461.4L267.5,461.7L268.5,462.0L269.5,462.2L270.5,462.5L271.5,462.7L272.5,463.0L273.5,463.2L274.5,463.4L275.5,463.6L276.5,463.8L277.5,464.0L278.5,464.2L279.5,464.3L280.5,464.5L281.5,464.7L282.5,464.8L283.5,465.0L284.5,465.1L285.5,465.2L286.5,465.4L287.5,465.5L288.5,465.6L289.5,465.7L290.5,465.8L291.5,465.9L292.5,466.0L293.5,466.1L294.5,466.2L295.5,466.3L296.5,466.4L297.5,466.5L298.5,466.6L299.5,466.7L300.5,466.7L301.5,466.8L302.5,466.9L303.5,467.0L304.5,467.0L305.5,467.1L306.5,467.2L307.5,467.2L308.5,467.3L309.5,467.4L310.5,467.4L311.5,467.5L312.3,467.5" stroke="#47b9e6" stroke-width="1.65"/>
<path d="M24.5,469.8L25.5,469.8L26.5,469.8L27.5,469.7L28.5,469.7L29.5,469.7L30.5,469.7L31.5,469.7L32.5,469.6L33.5,469.6L34.5,469.6L35.5,469.6L36.5,469.6L37.5,469.5L38.5,469.5L39.5,469.5L40.5,469.5L41.5,469.4L42.5,469.4L43.5,469.4L44.5,469.4L45.5,469.3L46.5,469.3L47.5,469.3L48.5,469.2L49.5,469.2L50.5,469.2L51.5,469.1L52.5,469.1L53.5,469.1L54.5,469.0L55.5,469.0L56.5,468.9L57.5,468.9L58.5,468.9L59.5,468.8L60.5,468.8L61.5,468.7L62.5,468.7L63.5,468.6L64.5,468.6L65.5,468.5L66.5,468.4L67.5,468.4L68.5,468.3L69.5,468.2L70.5,468.2L71.5,468.1L72.5,468.0L73.5,468.0L74.5,467.9L75.5,467.8L76.5,467.7L77.5,467.6L78.5,467.5L79.5,467.4L80.5,467.3L81.5,467.2L82.5,467.1L83.5,467.0L84.5,466.9L85.5,466.7L86.5,466.6L87.5,466.5L88.5,466.3L89.5,466.1L90.5,466.0L91.5,465.8L92.5,465.6L93.5,465.4L94.5,465.2L95.5,464.9L96.5,464.7L97.5,464.4L98.5,464.1L99.5,463.8L100.5,463.5L101.5,463.1L102.5,462.7L103.5,462.2L104.5,461.7L105.5,461.2L106.5,460.5L107.5,459.9L108.5,459.1L109.5,458.3L110.5,457.4L111.5,456.4L112.5,455.3L113.5,454.1L114.5,452.8L115.5,451.3L116.5,449.7L117.5,447.9L118.5,446.0L119.5,444.0L120.5,441.8L121.5,439.4L122.5,436.8L123.5,434.0L124.5,431.1L125.5,428.0L126.5,424.8L127.5,421.4L128.5,417.9L129.5,414.3L130.5,410.6L131.5,406.8L132.5,403.0L133.5,399.3L134.5,395.7L135.5,392.2L136.5,388.9L137.5,386.0L138.5,383.4L139.5,381.3L140.5,379.7L141.5,378.7L142.5,378.3L143.5,378.5L144.5,379.4L145.5,380.8L146.5,382.8L147.5,385.3L148.5,388.1L149.5,391.3L150.5,394.7L151.5,398.3L152.5,402.0L153.5,405.8L154.5,409.6L155.5,413.3L156.5,417.0L157.5,420.5L158.5,423.9L159.5,427.2L160.5,430.3L161.5,433.3L162.5,436.1L163.5,438.7L164.5,441.1L165.5,443.4L166.5,445.5L167.5,447.5L168.5,449.3L169.5,450.9L170.5,452.4L171.5,453.8L172.5,455.0L173.5,456.1L174.5,457.2L175.5,458.1L176.5,458.9L177.5,459.7L178.5,460.4L179.5,461.0L180.5,461.6L181.5,462.1L182.5,462.5L183.5,463.0L184.5,463.4L185.5,463.7L186.5,464.0L187.5,464.3L188.5,464.6L189.5,464.9L190.5,465.1L191.5,465.3L192.5,465.5L193.5,465.7L194.5,465.9L195.5,466.1L196.5,466.3L197.5,466.4L198.5,466.6L199.5,466.7L200.5,466.8L201.5,467.0L202.5,467.1L203.5,467.2L204.5,467.3L205.5,467.4L206.5,467.5L207.5,467.6L208.5,467.7L209.5,467.8L210.5,467.9L211.5,467.9L212.5,468.0L213.5,468.1L214.5,468.2L215.5,468.2L216.5,468.3L217.5,468.4L218.5,468.4L219.5,468.5L220.5,468.5L221.5,468.6L222.5,468.6L223.5,468.7L224.5,468.7L225.5,468.8L226.5,468.8L227.5,468.9L228.5,468.9L229.5,469.0L230.5,469.0L231.5,469.0L232.5,469.1L233.5,469.1L234.5,469.2L235.5,469.2L236.5,469.2L237.5,469.3L238.5,469.3L239.5,469.3L240.5,469.3L241.5,469.4L242.5,469.4L243.5,469.4L244.5,469.5L245.5,469.5L246.5,469.5L247.5,469.5L248.5,469.6L249.5,469.6L250.5,469.6L251.5,469.6L252.5,469.6L253.5,469.7L254.5,469.7L255.5,469.7L256.5,469.7L257.5,469.7L258.5,469.8L259.5,469.8L260.5,469.8L261.5,469.8L262.5,469.8L263.5,469.8L264.5,469.9L265.5,469.9L266.5,469.9L267.5,469.9L268.5,469.9L269.5,469.9L270.5,469.9L271.5,470.0L272.5,470.0L273.5,470.0L274.5,470.0L275.5,470.0L276.5,470.0L277.5,470.0L278.5,470.0L279.5,470.0L280.5,470.1L281.5,470.1L282.5,470.1L283.5,470.1L284.5,470.1L285.5,470.1L286.5,470.1L287.5,470.1L288.5,470.1L289.5,470.1L290.5,470.2L291.5,470.2L292.5,470.2L293.5,470.2L294.5,470.2L295.5,470.2L296.5,470.2L297.5,470.2L298.5,470.2L299.5,470.2L300.5,470.2L301.5,470.2L302.5,470.2L303.5,470.3L304.5,470.3L305.5,470.3L306.5,470.3L307.5,470.3L308.5,470.3L309.5,470.3L310.5,470.3L311.5,470.3L312.3,470.3" stroke="#dcc6ff" stroke-width="1.5"/>
<path d="M24.5,469.6L25.5,469.6L26.5,469.6L27.5,469.6L28.5,469.6L29.5,469.5L30.5,469.5L31.5,469.5L32.5,469.5L33.5,469.5L34.5,469.5L35.5,469.4L36.5,469.4L37.5,469.4L38.5,469.4L39.5,469.4L40.5,469.4L41.5,469.3L42.5,469.3L43.5,469.3L44.5,469.3L45.5,469.3L46.5,469.2L47.5,469.2L48.5,469.2L49.5,469.2L50.5,469.1L51.5,469.1L52.5,469.1L53.5,469.1L54.5,469.1L55.5,469.0L56.5,469.0L57.5,469.0L58.5,468.9L59.5,468.9L60.5,468.9L61.5,468.9L62.5,468.8L63.5,468.8L64.5,468.8L65.5,468.7L66.5,468.7L67.5,468.7L68.5,468.6L69.5,468.6L70.5,468.6L71.5,468.5L72.5,468.5L73.5,468.5L74.5,468.4L75.5,468.4L76.5,468.3L77.5,468.3L78.5,468.3L79.5,468.2L80.5,468.2L81.5,468.1L82.5,468.1L83.5,468.0L84.5,468.0L85.5,467.9L86.5,467.9L87.5,467.8L88.5,467.8L89.5,467.7L90.5,467.6L91.5,467.6L92.5,467.5L93.5,467.4L94.5,467.4L95.5,467.3L96.5,467.2L97.5,467.2L98.5,467.1L99.5,467.0L100.5,466.9L101.5,466.8L102.5,466.8L103.5,466.7L104.5,466.6L105.5,466.5L106.5,466.4L107.5,466.3L108.5,466.2L109.5,466.1L110.5,466.0L111.5,465.8L112.5,465.7L113.5,465.6L114.5,465.5L115.5,465.3L116.5,465.2L117.5,465.1L118.5,464.9L119.5,464.8L120.5,464.6L121.5,464.4L122.5,464.3L123.5,464.1L124.5,463.9L125.5,463.7L126.5,463.5L127.5,463.3L128.5,463.0L129.5,462.8L130.5,462.6L131.5,462.3L132.5,462.0L133.5,461.8L134.5,461.5L135.5,461.2L136.5,460.8L137.5,460.5L138.5,460.1L139.5,459.8L140.5,459.4L141.5,459.0L142.5,458.5L143.5,458.1L144.5,457.6L145.5,457.1L146.5,456.5L147.5,456.0L148.5,455.3L149.5,454.7L150.5,454.0L151.5,453.3L152.5,452.5L153.5,451.7L154.5,450.8L155.5,449.8L156.5,448.8L157.5,447.7L158.5,446.5L159.5,445.3L160.5,443.9L161.5,442.5L162.5,440.9L163.5,439.2L164.5,437.4L165.5,435.4L166.5,433.3L167.5,431.0L168.5,428.5L169.5,425.8L170.5,423.0L171.5,419.8L172.5,416.5L173.5,412.9L174.5,409.0L175.5,404.9L176.5,400.4L177.5,395.7L178.5,390.7L179.5,385.4L180.5,379.9L181.5,374.1L182.5,368.2L183.5,362.2L184.5,356.3L185.5,350.4L186.5,344.9L187.5,339.7L188.5,335.2L189.5,331.4L190.5,328.5L191.5,326.7L192.5,326.0L193.5,326.5L194.5,328.0L195.5,330.7L196.5,334.3L197.5,338.7L198.5,343.7L199.5,349.2L200.5,355.0L201.5,360.9L202.5,366.9L203.5,372.8L204.5,378.6L205.5,384.2L206.5,389.5L207.5,394.6L208.5,399.4L209.5,403.9L210.5,408.1L211.5,412.1L212.5,415.7L213.5,419.1L214.5,422.3L215.5,425.2L216.5,428.0L217.5,430.5L218.5,432.8L219.5,435.0L220.5,437.0L221.5,438.8L222.5,440.5L223.5,442.1L224.5,443.6L225.5,445.0L226.5,446.3L227.5,447.5L228.5,448.6L229.5,449.6L230.5,450.6L231.5,451.5L232.5,452.3L233.5,453.1L234.5,453.9L235.5,454.6L236.5,455.2L237.5,455.8L238.5,456.4L239.5,457.0L240.5,457.5L241.5,458.0L242.5,458.4L243.5,458.9L244.5,459.3L245.5,459.7L246.5,460.1L247.5,460.4L248.5,460.8L249.5,461.1L250.5,461.4L251.5,461.7L252.5,462.0L253.5,462.3L254.5,462.5L255.5,462.8L256.5,463.0L257.5,463.2L258.5,463.4L259.5,463.6L260.5,463.8L261.5,464.0L262.5,464.2L263.5,464.4L264.5,464.6L265.5,464.7L266.5,464.9L267.5,465.0L268.5,465.2L269.5,465.3L270.5,465.4L271.5,465.6L272.5,465.7L273.5,465.8L274.5,465.9L275.5,466.1L276.5,466.2L277.5,466.3L278.5,466.4L279.5,466.5L280.5,466.6L281.5,466.7L282.5,466.7L283.5,466.8L284.5,466.9L285.5,467.0L286.5,467.1L287.5,467.1L288.5,467.2L289.5,467.3L290.5,467.4L291.5,467.4L292.5,467.5L293.5,467.6L294.5,467.6L295.5,467.7L296.5,467.7L297.5,467.8L298.5,467.9L299.5,467.9L300.5,468.0L301.5,468.0L302.5,468.1L303.5,468.1L304.5,468.2L305.5,468.2L306.5,468.2L307.5,468.3L308.5,468.3L309.5,468.4L310.5,468.4L311.5,468.4L312.3,468.5" stroke="#42de2d" stroke-width="1.6"/>
<path d="M24.5,470.7L25.5,470.7L26.5,470.7L27.5,470.7L28.5,470.7L29.5,470.7L30.5,470.7L31.5,470.7L32.5,470.7L33.5,470.7L34.5,470.7L35.5,470.7L36.5,470.7L37.5,470.7L38.5,470.7L39.5,470.7L40.5,470.7L41.5,470.7L42.5,470.7L43.5,470.7L44.5,470.7L45.5,470.7L46.5,470.7L47.5,470.7L48.5,470.7L49.5,470.7L50.5,470.7L51.5,470.7L52.5,470.7L53.5,470.7L54.5,470.7L55.5,470.7L56.5,470.7L57.5,470.7L58.5,470.7L59.5,470.7L60.5,470.7L61.5,470.7L62.5,470.7L63.5,470.7L64.5,470.7L65.5,470.7L66.5,470.7L67.5,470.7L68.5,470.7L69.5,470.7L70.5,470.7L71.5,470.7L72.5,470.7L73.5,470.7L74.5,470.7L75.5,470.7L76.5,470.7L77.5,470.7L78.5,470.7L79.5,470.7L80.5,470.7L81.5,470.7L82.5,470.7L83.5,470.7L84.5,470.7L85.5,470.7L86.5,470.7L87.5,470.7L88.5,470.7L89.5,470.7L90.5,470.7L91.5,470.7L92.5,470.7L93.5,470.7L94.5,470.7L95.5,470.7L96.5,470.7L97.5,470.7L98.5,470.7L99.5,470.7L100.5,470.7L101.5,470.7L102.5,470.7L103.5,470.7L104.5,470.7L105.5,470.7L106.5,470.6L107.5,470.6L108.5,470.6L109.5,470.6L110.5,470.6L111.5,470.6L112.5,470.6L113.5,470.6L114.5,470.6L115.5,470.6L116.5,470.6L117.5,470.6L118.5,470.6L119.5,470.6L120.5,470.6L121.5,470.6L122.5,470.6L123.5,470.6L124.5,470.6L125.5,470.6L126.5,470.6L127.5,470.6L128.5,470.6L129.5,470.6L130.5,470.6L131.5,470.6L132.5,470.6L133.5,470.6L134.5,470.6L135.5,470.6L136.5,470.5L137.5,470.5L138.5,470.5L139.5,470.5L140.5,470.5L141.5,470.5L142.5,470.5L143.5,470.5L144.5,470.5L145.5,470.5L146.5,470.5L147.5,470.5L148.5,470.5L149.5,470.5L150.5,470.5L151.5,470.4L152.5,470.4L153.5,470.4L154.5,470.4L155.5,470.4L156.5,470.4L157.5,470.4L158.5,470.4L159.5,470.4L160.5,470.4L161.5,470.4L162.5,470.3L163.5,470.3L164.5,470.3L165.5,470.3L166.5,470.3L167.5,470.3L168.5,470.3L169.5,470.2L170.5,470.2L171.5,470.2L172.5,470.2L173.5,470.2L174.5,470.2L175.5,470.1L176.5,470.1L177.5,470.1L178.5,470.1L179.5,470.0L180.5,470.0L181.5,470.0L182.5,470.0L183.5,469.9L184.5,469.9L185.5,469.9L186.5,469.8L187.5,469.8L188.5,469.7L189.5,469.7L190.5,469.6L191.5,469.6L192.5,469.5L193.5,469.5L194.5,469.4L195.5,469.4L196.5,469.3L197.5,469.2L198.5,469.2L199.5,469.1L200.5,469.0L201.5,468.9L202.5,468.8L203.5,468.7L204.5,468.5L205.5,468.4L206.5,468.3L207.5,468.1L208.5,467.9L209.5,467.8L210.5,467.5L211.5,467.3L212.5,467.1L213.5,466.8L214.5,466.5L215.5,466.1L216.5,465.7L217.5,465.3L218.5,464.8L219.5,464.3L220.5,463.7L221.5,463.1L222.5,462.3L223.5,461.5L224.5,460.6L225.5,459.6L226.5,458.5L227.5,457.3L228.5,456.1L229.5,454.8L230.5,453.5L231.5,452.2L232.5,450.9L233.5,449.9L234.5,449.0L235.5,448.5L236.5,448.3L237.5,448.5L238.5,449.0L239.5,449.8L240.5,450.9L241.5,452.1L242.5,453.4L243.5,454.7L244.5,456.0L245.5,457.3L246.5,458.4L247.5,459.5L248.5,460.5L249.5,461.4L250.5,462.3L251.5,463.0L252.5,463.7L253.5,464.3L254.5,464.8L255.5,465.3L256.5,465.7L257.5,466.1L258.5,466.5L259.5,466.8L260.5,467.1L261.5,467.3L262.5,467.5L263.5,467.7L264.5,467.9L265.5,468.1L266.5,468.3L267.5,468.4L268.5,468.5L269.5,468.7L270.5,468.8L271.5,468.9L272.5,469.0L273.5,469.1L274.5,469.2L275.5,469.2L276.5,469.3L277.5,469.4L278.5,469.4L279.5,469.5L280.5,469.5L281.5,469.6L282.5,469.6L283.5,469.7L284.5,469.7L285.5,469.8L286.5,469.8L287.5,469.9L288.5,469.9L289.5,469.9L290.5,470.0L291.5,470.0L292.5,470.0L293.5,470.0L294.5,470.1L295.5,470.1L296.5,470.1L297.5,470.1L298.5,470.1L299.5,470.2L300.5,470.2L301.5,470.2L302.5,470.2L303.5,470.2L304.5,470.3L305.5,470.3L306.5,470.3L307.5,470.3L308.5,470.3L309.5,470.3L310.5,470.3L311.5,470.4L312.3,470.4" stroke="#b2b2e4" stroke-width="1.4"/>
</g>
<line x1="150.4" y1="265.0" x2="150.4" y2="273.2" stroke="#141414" stroke-width="1.7" />
<line x1="150.4" y1="279.5" x2="150.4" y2="288.4" stroke="#141414" stroke-width="1.7" />
<line x1="205.3" y1="265.0" x2="205.3" y2="272.0" stroke="#141414" stroke-width="1.7" />
<line x1="205.3" y1="280.2" x2="205.3" y2="287.9" stroke="#141414" stroke-width="1.7" />
<line x1="249.4" y1="286.0" x2="249.4" y2="295.0" stroke="#141414" stroke-width="1.7" />
<line x1="249.4" y1="301.2" x2="249.4" y2="306.6" stroke="#141414" stroke-width="1.7" />
<line x1="192.6" y1="311.0" x2="192.6" y2="318.5" stroke="#141414" stroke-width="1.7" />
<line x1="192.6" y1="326.9" x2="192.6" y2="333.6" stroke="#141414" stroke-width="1.7" />
<line x1="142.8" y1="357.2" x2="142.8" y2="365.6" stroke="#141414" stroke-width="1.7" />
<line x1="142.8" y1="372.4" x2="142.8" y2="380.8" stroke="#141414" stroke-width="1.7" />
<line x1="236.9" y1="423.1" x2="236.9" y2="431.3" stroke="#141414" stroke-width="1.7" />
<line x1="236.9" y1="438.5" x2="236.9" y2="446.3" stroke="#141414" stroke-width="1.7" />
<line x1="236.9" y1="453.0" x2="236.9" y2="457.5" stroke="#141414" stroke-width="1.7" />
<rect x="24.50" y="260.70" width="302.90" height="212.30" fill="none" stroke="#6e6e6e" stroke-width="1.4"/>
<g fill="#222222" font-family="Liberation Serif" filter="url(#tf)">
<line x1="24.5" y1="473.0" x2="24.5" y2="477.0" stroke="#6e6e6e" stroke-width="1.2" />
<text x="11.38" y="493.40" font-size="17.5">240</text>
<line x1="100.2" y1="473.0" x2="100.2" y2="477.0" stroke="#6e6e6e" stroke-width="1.2" />
<text x="87.10" y="493.40" font-size="17.5">235</text>
<line x1="175.9" y1="473.0" x2="175.9" y2="477.0" stroke="#6e6e6e" stroke-width="1.2" />
<text x="162.82" y="493.40" font-size="17.5">230</text>
<line x1="251.7" y1="473.0" x2="251.7" y2="477.0" stroke="#6e6e6e" stroke-width="1.2" />
<text x="238.55" y="493.40" font-size="17.5">225</text>
<line x1="327.4" y1="473.0" x2="327.4" y2="477.0" stroke="#6e6e6e" stroke-width="1.2" />
<text x="314.27" y="493.40" font-size="17.5">220</text>
<line x1="62.4" y1="473.0" x2="62.4" y2="475.5" stroke="#6e6e6e" stroke-width="1.2" />
<line x1="138.1" y1="473.0" x2="138.1" y2="475.5" stroke="#6e6e6e" stroke-width="1.2" />
<line x1="213.8" y1="473.0" x2="213.8" y2="475.5" stroke="#6e6e6e" stroke-width="1.2" />
<line x1="289.5" y1="473.0" x2="289.5" y2="475.5" stroke="#6e6e6e" stroke-width="1.2" />
<text x="25.99" y="278.50" font-size="21">(c)</text>
<text x="34.05" y="297.90" font-size="18.5">MBZ</text>
<text x="276.49" y="277.90" font-size="17.0">Mo 3d</text>
<text x="101.05" y="276.00" font-size="16">231.65</text>
<text x="216.87" y="276.00" font-size="16">228.06</text>
<text x="252.20" y="295.40" font-size="16">225.23</text>
<text x="202.00" y="324.50" font-size="16">228.90</text>
<text x="93.60" y="362.90" font-size="16">232.20</text>
<text x="245.05" y="435.60" font-size="16">226.00</text>
<text x="32.85" y="457.20" font-size="18.2">MoS<tspan font-size="13" dy="4.8">2</tspan></text>
<text x="102.81" y="513.10" font-size="17.5">Binding Energy (eV)</text>
<text transform="translate(13.80,355.50) rotate(-90)" font-size="17.5" text-anchor="middle">Intensity (a.u.)</text>
</g>
<g fill="none" stroke-linejoin="round">
<path d="M368.2,413.8L368.7,413.6L369.2,413.6L369.7,413.5L370.2,413.7L370.7,413.8L371.2,414.0L371.7,414.1L372.2,414.2L372.7,414.3L373.2,414.4L373.7,414.3L374.2,414.3L374.7,414.1L375.2,414.2L375.7,414.1L376.2,414.0L376.7,413.9L377.2,413.9L377.7,413.7L378.2,413.7L378.7,413.6L379.2,413.6L379.7,413.6L380.2,413.6L380.7,413.4L381.2,413.6L381.7,413.5L382.2,413.3L382.7,413.3L383.2,413.4L383.7,413.3L384.2,413.5L384.7,413.5L385.2,413.5L385.7,413.4L386.2,413.3L386.7,413.3L387.2,413.2L387.7,413.0L388.2,412.7L388.7,412.8L389.2,412.9L389.7,413.1L390.2,413.0L390.7,413.0L391.2,413.0L391.7,413.0L392.2,413.0L392.7,412.9L393.2,412.7L393.7,412.8L394.2,412.8L394.7,412.8L395.2,413.1L395.7,413.1L396.2,413.1L396.7,413.2L397.2,413.0L397.7,413.0L398.2,412.9L398.7,412.8L399.2,412.7L399.7,412.6L400.2,412.6L400.7,412.6L401.2,412.5L401.7,412.6L402.2,412.4L402.7,412.4L403.2,412.5L403.7,412.5L404.2,412.5L404.7,412.5L405.2,412.4L405.7,412.4L406.2,412.2L406.7,412.2L407.2,412.2L407.7,412.2L408.2,412.0L408.7,412.0L409.2,412.1L409.7,412.2L410.2,411.9L410.7,411.9L411.2,411.7L411.7,411.6L412.2,411.3L412.7,411.2L413.2,411.2L413.7,411.1L414.2,411.0L414.7,411.1L415.2,411.0L415.7,411.0L416.2,411.0L416.7,411.0L417.2,410.9L417.7,410.8L418.2,410.7L418.7,410.6L419.2,410.6L419.7,410.5L420.2,410.6L420.7,410.6L421.2,410.5L421.7,410.4L422.2,410.3L422.7,410.3L423.2,410.2L423.7,410.1L424.2,409.9L424.7,409.9L425.2,409.9L425.7,410.0L426.2,409.8L426.7,409.8L427.2,409.8L427.7,409.8L428.2,409.8L428.7,409.6L429.2,409.5L429.7,409.5L430.2,409.4L430.7,409.3L431.2,409.2L431.7,409.1L432.2,409.0L432.7,408.7L433.2,408.6L433.7,408.5L434.2,408.4L434.7,408.4L435.2,408.3L435.7,408.3L436.2,408.3L436.7,408.2L437.2,408.1L437.7,408.0L438.2,407.7L438.7,407.5L439.2,407.3L439.7,407.1L440.2,407.0L440.7,406.7L441.2,406.6L441.7,406.7L442.2,406.6L442.7,406.6L443.2,406.6L443.7,406.5L444.2,406.6L444.7,406.4L445.2,406.3L445.7,406.0L446.2,405.8L446.7,405.8L447.2,405.7L447.7,405.3L448.2,405.5L448.7,405.2L449.2,405.1L449.7,405.0L450.2,404.5L450.7,404.4L451.2,404.4L451.7,404.1L452.2,404.0L452.7,403.8L453.2,403.7L453.7,403.3L454.2,403.0L454.7,402.7L455.2,402.3L455.7,402.1L456.2,401.9L456.7,401.6L457.2,401.6L457.7,401.4L458.2,401.1L458.7,400.9L459.2,400.6L459.7,400.4L460.2,400.1L460.7,399.7L461.2,399.5L461.7,399.2L462.2,399.1L462.7,398.9L463.2,398.7L463.7,398.3L464.2,398.0L464.7,397.5L465.2,397.0L465.7,396.5L466.2,396.1L466.7,395.7L467.2,395.2L467.7,394.9L468.2,394.5L468.7,393.8L469.2,393.3L469.7,392.7L470.2,391.9L470.7,391.4L471.2,390.9L471.7,390.3L472.2,389.8L472.7,389.4L473.2,388.8L473.7,388.3L474.2,387.6L474.7,386.9L475.2,386.3L475.7,385.6L476.2,384.5L476.7,383.5L477.2,382.8L477.7,382.0L478.2,381.2L478.7,380.3L479.2,379.4L479.7,378.7L480.2,378.1L480.7,377.0L481.2,376.0L481.7,375.0L482.2,373.8L482.7,372.7L483.2,371.6L483.7,370.4L484.2,369.3L484.7,368.0L485.2,366.7L485.7,365.7L486.2,364.5L486.7,363.2L487.2,361.9L487.7,360.6L488.2,359.3L488.7,357.9L489.2,356.3L489.7,354.7L490.2,353.2L490.7,351.6L491.2,349.9L491.7,348.3L492.2,346.4L492.7,344.8L493.2,343.2L493.7,341.5L494.2,339.5L494.7,337.8L495.2,336.0L495.7,334.2L496.2,332.3L496.7,330.5L497.2,328.5L497.7,326.7L498.2,324.7L498.7,322.8L499.2,320.8L499.7,318.9L500.2,316.9L500.7,314.9L501.2,313.0L501.7,311.1L502.2,309.2L502.7,307.3L503.2,305.4L503.7,303.4L504.2,301.8L504.7,299.9L505.2,298.3L505.7,296.5L506.2,294.8L506.7,293.3L507.2,291.6L507.7,289.9L508.2,288.4L508.7,287.0L509.2,285.6L509.7,284.4L510.2,283.2L510.7,282.1L511.2,281.0L511.7,280.1L512.2,279.0L512.7,278.0L513.2,277.2L513.7,276.2L514.2,275.6L514.7,275.0L515.2,274.2L515.7,273.7L516.2,273.2L516.7,272.7L517.2,272.4L517.7,271.8L518.2,271.4L518.7,271.2L519.2,271.0L519.7,270.6L520.2,270.4L520.7,270.1L521.2,270.0L521.7,270.0L522.2,269.8L522.7,269.7L523.2,269.7L523.7,269.7L524.2,269.6L524.7,269.7L525.2,269.6L525.7,269.6L526.2,269.6L526.7,269.7L527.2,269.8L527.7,270.2L528.2,270.3L528.7,270.6L529.2,270.8L529.7,271.1L530.2,271.3L530.7,271.6L531.2,271.8L531.7,272.3L532.2,272.6L532.7,273.2L533.2,273.7L533.7,274.3L534.2,275.1L534.7,275.7L535.2,276.6L535.7,277.5L536.2,278.4L536.7,279.3L537.2,280.3L537.7,281.2L538.2,282.3L538.7,283.5L539.2,284.8L539.7,286.1L540.2,287.7L540.7,289.3L541.2,290.8L541.7,292.3L542.2,293.8L542.7,295.4L543.2,297.1L543.7,298.7L544.2,300.3L544.7,302.1L545.2,303.8L545.7,305.4L546.2,307.4L546.7,309.1L547.2,311.0L547.7,312.9L548.2,314.8L548.7,316.7L549.2,318.8L549.7,320.5L550.2,322.5L550.7,324.2L551.2,326.0L551.7,327.8L552.2,329.6L552.7,331.4L553.2,333.2L553.7,335.0L554.2,336.9L554.7,338.6L555.2,340.4L555.7,342.3L556.2,344.1L556.7,345.7L557.2,347.2L557.7,348.8L558.2,350.6L558.7,352.0L559.2,353.5L559.7,354.7L560.2,356.3L560.7,357.7L561.2,359.0L561.7,360.2L562.2,361.4L562.7,362.7L563.2,363.9L563.7,365.0L564.2,366.3L564.7,367.6L565.2,368.7L565.7,370.0L566.2,371.1L566.7,372.1L567.2,373.2L567.7,374.2L568.2,375.1L568.7,375.9L569.2,376.8L569.7,377.8L570.2,378.8L570.7,379.8L571.2,380.6L571.7,381.6L572.2,382.6L572.7,383.4L573.2,384.0L573.7,384.6L574.2,385.3L574.7,386.1L575.2,386.7L575.7,387.3L576.2,387.9L576.7,388.7L577.2,389.4L577.7,390.0L578.2,390.5L578.7,391.0L579.2,391.5L579.7,392.1L580.2,392.6L580.7,393.1L581.2,393.5L581.7,394.1L582.2,394.6L582.7,395.1L583.2,395.4L583.7,395.8L584.2,396.4L584.7,396.8L585.2,397.2L585.7,397.5L586.2,397.8L586.7,398.1L587.2,398.4L587.7,398.6L588.2,398.8L588.7,399.1L589.2,399.4L589.7,400.0L590.2,400.2L590.7,400.5L591.2,400.8L591.7,401.2L592.2,401.4L592.7,401.7L593.2,401.8L593.7,402.1L594.2,402.3L594.7,402.4L595.2,402.6L595.7,402.8L596.2,403.1L596.7,403.3L597.2,403.5L597.7,403.7L598.2,404.0L598.7,404.2L599.2,404.5L599.7,404.4L600.2,404.6L600.7,404.6L601.2,404.9L601.7,405.1L602.2,405.2L602.7,405.4L603.2,405.6L603.7,405.7L604.2,406.1L604.7,406.1L605.2,406.2L605.7,406.4L606.2,406.5L606.7,406.7L607.2,406.9L607.7,407.0L608.2,407.1L608.7,407.2L609.2,407.2L609.7,407.3L610.2,407.4L610.7,407.4L611.2,407.6L611.7,407.6L612.2,407.8L612.7,407.9L613.2,408.1L613.7,408.1L614.2,408.3L614.7,408.2L615.2,408.3L615.7,408.4L616.2,408.5L616.7,408.4L617.2,408.6L617.7,408.6L618.2,408.8L618.7,408.9L619.2,408.9L619.7,409.0L620.2,409.3L620.7,409.2L621.2,409.4L621.7,409.4L622.2,409.5L622.7,409.8L623.2,409.9L623.7,409.8L624.2,410.0L624.7,410.2L625.2,410.1L625.7,410.3L626.2,410.3L626.7,410.2L627.2,410.4L627.7,410.3L628.2,410.4L628.7,410.4L629.2,410.4L629.7,410.5L630.2,410.7L630.7,410.8L631.2,410.9L631.7,411.0L632.2,411.1L632.7,411.2L633.2,411.3L633.7,411.4L634.2,411.4L634.7,411.4L635.2,411.5L635.7,411.5L636.2,411.5L636.7,411.4L637.2,411.4L637.7,411.5L638.2,411.6L638.7,411.7L639.2,411.8L639.7,412.1L640.2,412.3L640.7,412.0L641.2,412.0L641.7,412.1L642.2,412.1L642.7,412.0L643.2,411.8L643.7,411.9L644.2,412.1L644.7,412.1L645.2,412.2L645.7,412.2L646.2,412.1L646.7,412.3L647.2,412.3L647.7,412.3L648.2,412.4L648.7,412.3L649.2,412.3L649.7,412.3L650.2,412.2L650.7,412.3L651.2,412.4L651.7,412.3L652.2,412.5L652.7,412.5L653.2,412.6L653.7,412.7L654.2,412.8L654.7,412.9L655.2,412.9L655.7,412.8L656.2,412.8L656.7,412.8L657.2,412.7L657.7,412.7L658.2,412.8L658.7,412.7L659.2,412.8L659.7,412.8L660.2,413.0L660.7,413.1L661.2,413.1L661.7,413.1L662.2,413.2L662.7,413.2L663.2,413.3L663.7,413.2L664.2,413.1L664.7,413.0L665.2,412.9L665.7,413.0L666.2,412.9L666.7,412.9L667.2,413.0L667.7,413.1L668.2,413.2L668.7,413.2L669.2,413.3L669.7,413.3L670.2,413.4L670.7,413.4L671.2,413.5" stroke="#efefef" stroke-width="4.5" stroke-linecap="round"/>
<g stroke="#d6d6d6" stroke-width="0.8"><circle cx="368.2" cy="413.8" r="1.9"/><circle cx="371.2" cy="414.0" r="1.9"/><circle cx="374.2" cy="414.3" r="1.9"/><circle cx="377.2" cy="413.9" r="1.9"/><circle cx="380.2" cy="413.6" r="1.9"/><circle cx="383.2" cy="413.4" r="1.9"/><circle cx="386.2" cy="413.3" r="1.9"/><circle cx="389.2" cy="412.9" r="1.9"/><circle cx="392.2" cy="413.0" r="1.9"/><circle cx="395.2" cy="413.1" r="1.9"/><circle cx="398.2" cy="412.9" r="1.9"/><circle cx="401.2" cy="412.5" r="1.9"/><circle cx="404.2" cy="412.5" r="1.9"/><circle cx="407.2" cy="412.2" r="1.9"/><circle cx="410.2" cy="411.9" r="1.9"/><circle cx="413.2" cy="411.2" r="1.9"/><circle cx="416.2" cy="411.0" r="1.9"/><circle cx="419.2" cy="410.6" r="1.9"/><circle cx="422.2" cy="410.3" r="1.9"/><circle cx="425.2" cy="409.9" r="1.9"/><circle cx="428.2" cy="409.8" r="1.9"/><circle cx="431.2" cy="409.2" r="1.9"/><circle cx="434.2" cy="408.4" r="1.9"/><circle cx="437.2" cy="408.1" r="1.9"/><circle cx="439.7" cy="407.1" r="1.9"/><circle cx="442.7" cy="406.6" r="1.9"/><circle cx="445.7" cy="406.0" r="1.9"/><circle cx="448.7" cy="405.2" r="1.9"/><circle cx="451.2" cy="404.4" r="1.9"/><circle cx="453.7" cy="403.3" r="1.9"/><circle cx="456.2" cy="401.9" r="1.9"/><circle cx="458.7" cy="400.9" r="1.9"/><circle cx="461.2" cy="399.5" r="1.9"/><circle cx="463.7" cy="398.3" r="1.9"/><circle cx="465.7" cy="396.5" r="1.9"/><circle cx="468.2" cy="394.5" r="1.9"/><circle cx="470.2" cy="391.9" r="1.9"/><circle cx="472.2" cy="389.8" r="1.9"/><circle cx="474.2" cy="387.6" r="1.9"/><circle cx="476.2" cy="384.5" r="1.9"/><circle cx="477.7" cy="382.0" r="1.9"/><circle cx="479.2" cy="379.4" r="1.9"/><circle cx="480.7" cy="377.0" r="1.9"/><circle cx="482.2" cy="373.8" r="1.9"/><circle cx="483.7" cy="370.4" r="1.9"/><circle cx="484.7" cy="368.0" r="1.9"/><circle cx="486.2" cy="364.5" r="1.9"/><circle cx="487.2" cy="361.9" r="1.9"/><circle cx="488.2" cy="359.3" r="1.9"/><circle cx="489.2" cy="356.3" r="1.9"/><circle cx="490.2" cy="353.2" r="1.9"/><circle cx="491.2" cy="349.9" r="1.9"/><circle cx="492.2" cy="346.4" r="1.9"/><circle cx="493.2" cy="343.2" r="1.9"/><circle cx="494.2" cy="339.5" r="1.9"/><circle cx="495.2" cy="336.0" r="1.9"/><circle cx="496.2" cy="332.3" r="1.9"/><circle cx="497.2" cy="328.5" r="1.9"/><circle cx="498.2" cy="324.7" r="1.9"/><circle cx="499.2" cy="320.8" r="1.9"/><circle cx="500.2" cy="316.9" r="1.9"/><circle cx="501.2" cy="313.0" r="1.9"/><circle cx="502.2" cy="309.2" r="1.9"/><circle cx="503.2" cy="305.4" r="1.9"/><circle cx="504.2" cy="301.8" r="1.9"/><circle cx="505.2" cy="298.3" r="1.9"/><circle cx="506.2" cy="294.8" r="1.9"/><circle cx="507.2" cy="291.6" r="1.9"/><circle cx="508.2" cy="288.4" r="1.9"/><circle cx="509.2" cy="285.6" r="1.9"/><circle cx="510.2" cy="283.2" r="1.9"/><circle cx="511.7" cy="280.1" r="1.9"/><circle cx="513.2" cy="277.2" r="1.9"/><circle cx="514.7" cy="275.0" r="1.9"/><circle cx="516.7" cy="272.7" r="1.9"/><circle cx="519.2" cy="271.0" r="1.9"/><circle cx="521.7" cy="270.0" r="1.9"/><circle cx="524.7" cy="269.7" r="1.9"/><circle cx="527.7" cy="270.2" r="1.9"/><circle cx="530.2" cy="271.3" r="1.9"/><circle cx="532.7" cy="273.2" r="1.9"/><circle cx="534.7" cy="275.7" r="1.9"/><circle cx="536.2" cy="278.4" r="1.9"/><circle cx="537.7" cy="281.2" r="1.9"/><circle cx="539.2" cy="284.8" r="1.9"/><circle cx="540.2" cy="287.7" r="1.9"/><circle cx="541.2" cy="290.8" r="1.9"/><circle cx="542.2" cy="293.8" r="1.9"/><circle cx="543.2" cy="297.1" r="1.9"/><circle cx="544.2" cy="300.3" r="1.9"/><circle cx="545.2" cy="303.8" r="1.9"/><circle cx="546.2" cy="307.4" r="1.9"/><circle cx="547.2" cy="311.0" r="1.9"/><circle cx="548.2" cy="314.8" r="1.9"/><circle cx="549.2" cy="318.8" r="1.9"/><circle cx="550.2" cy="322.5" r="1.9"/><circle cx="551.2" cy="326.0" r="1.9"/><circle cx="552.2" cy="329.6" r="1.9"/><circle cx="553.2" cy="333.2" r="1.9"/><circle cx="554.2" cy="336.9" r="1.9"/><circle cx="555.2" cy="340.4" r="1.9"/><circle cx="556.2" cy="344.1" r="1.9"/><circle cx="557.2" cy="347.2" r="1.9"/><circle cx="558.2" cy="350.6" r="1.9"/><circle cx="559.2" cy="353.5" r="1.9"/><circle cx="560.2" cy="356.3" r="1.9"/><circle cx="561.2" cy="359.0" r="1.9"/><circle cx="562.2" cy="361.4" r="1.9"/><circle cx="563.2" cy="363.9" r="1.9"/><circle cx="564.7" cy="367.6" r="1.9"/><circle cx="565.7" cy="370.0" r="1.9"/><circle cx="567.2" cy="373.2" r="1.9"/><circle cx="568.7" cy="375.9" r="1.9"/><circle cx="570.2" cy="378.8" r="1.9"/><circle cx="571.7" cy="381.6" r="1.9"/><circle cx="573.2" cy="384.0" r="1.9"/><circle cx="575.2" cy="386.7" r="1.9"/><circle cx="577.2" cy="389.4" r="1.9"/><circle cx="579.2" cy="391.5" r="1.9"/><circle cx="581.2" cy="393.5" r="1.9"/><circle cx="583.2" cy="395.4" r="1.9"/><circle cx="585.2" cy="397.2" r="1.9"/><circle cx="587.7" cy="398.6" r="1.9"/><circle cx="590.2" cy="400.2" r="1.9"/><circle cx="592.7" cy="401.7" r="1.9"/><circle cx="595.2" cy="402.6" r="1.9"/><circle cx="597.7" cy="403.7" r="1.9"/><circle cx="600.2" cy="404.6" r="1.9"/><circle cx="602.7" cy="405.4" r="1.9"/><circle cx="605.2" cy="406.2" r="1.9"/><circle cx="608.2" cy="407.1" r="1.9"/><circle cx="611.2" cy="407.6" r="1.9"/><circle cx="614.2" cy="408.3" r="1.9"/><circle cx="617.2" cy="408.6" r="1.9"/><circle cx="620.2" cy="409.3" r="1.9"/><circle cx="623.2" cy="409.9" r="1.9"/><circle cx="626.2" cy="410.3" r="1.9"/><circle cx="629.2" cy="410.4" r="1.9"/><circle cx="632.2" cy="411.1" r="1.9"/><circle cx="635.2" cy="411.5" r="1.9"/><circle cx="638.2" cy="411.6" r="1.9"/><circle cx="641.2" cy="412.0" r="1.9"/><circle cx="644.2" cy="412.1" r="1.9"/><circle cx="647.2" cy="412.3" r="1.9"/><circle cx="650.2" cy="412.2" r="1.9"/><circle cx="653.2" cy="412.6" r="1.9"/><circle cx="656.2" cy="412.8" r="1.9"/><circle cx="659.2" cy="412.8" r="1.9"/><circle cx="662.2" cy="413.2" r="1.9"/><circle cx="665.2" cy="412.9" r="1.9"/><circle cx="668.2" cy="413.2" r="1.9"/><circle cx="671.2" cy="413.5" r="1.9"/></g>
<path d="M368.2,413.3L369.2,413.3L370.2,413.3L371.2,413.2L372.2,413.2L373.2,413.1L374.2,413.1L375.2,413.1L376.2,413.0L377.2,413.0L378.2,412.9L379.2,412.9L380.2,412.8L381.2,412.8L382.2,412.7L383.2,412.7L384.2,412.6L385.2,412.6L386.2,412.5L387.2,412.5L388.2,412.4L389.2,412.4L390.2,412.3L391.2,412.2L392.2,412.2L393.2,412.1L394.2,412.0L395.2,412.0L396.2,411.9L397.2,411.8L398.2,411.8L399.2,411.7L400.2,411.6L401.2,411.6L402.2,411.5L403.2,411.4L404.2,411.3L405.2,411.2L406.2,411.2L407.2,411.1L408.2,411.0L409.2,410.9L410.2,410.8L411.2,410.7L412.2,410.6L413.2,410.5L414.2,410.4L415.2,410.3L416.2,410.2L417.2,410.1L418.2,409.9L419.2,409.8L420.2,409.7L421.2,409.6L422.2,409.4L423.2,409.3L424.2,409.2L425.2,409.0L426.2,408.9L427.2,408.7L428.2,408.6L429.2,408.4L430.2,408.3L431.2,408.1L432.2,407.9L433.2,407.7L434.2,407.5L435.2,407.3L436.2,407.1L437.2,406.9L438.2,406.7L439.2,406.5L440.2,406.3L441.2,406.0L442.2,405.8L443.2,405.5L444.2,405.2L445.2,405.0L446.2,404.7L447.2,404.4L448.2,404.0L449.2,403.7L450.2,403.3L451.2,403.0L452.2,402.6L453.2,402.2L454.2,401.8L455.2,401.3L456.2,400.9L457.2,400.4L458.2,399.8L459.2,399.3L460.2,398.7L461.2,398.1L462.2,397.4L463.2,396.7L464.2,396.0L465.2,395.2L466.2,394.4L467.2,393.5L468.2,392.6L469.2,391.6L470.2,390.5L471.2,389.4L472.2,388.2L473.2,387.0L474.2,385.6L475.2,384.2L476.2,382.7L477.2,381.1L478.2,379.4L479.2,377.6L480.2,375.8L481.2,373.8L482.2,371.7L483.2,369.5L484.2,367.1L485.2,364.7L486.2,362.1L487.2,359.4L488.2,356.6L489.2,353.7L490.2,350.7L491.2,347.5L492.2,344.2L493.2,340.8L494.2,337.3L495.2,333.7L496.2,330.1L497.2,326.3L498.2,322.5L499.2,318.7L500.2,314.8L501.2,311.0L502.2,307.2L503.2,303.4L504.2,299.7L505.2,296.2L506.2,292.8L507.2,289.6L508.2,286.6L509.2,283.8L510.2,281.3L511.2,279.0L512.2,277.0L513.2,275.2L514.2,273.7L515.2,272.4L516.2,271.3L517.2,270.4L518.2,269.7L519.2,269.1L520.2,268.7L521.2,268.3L522.2,268.1L523.2,268.0L524.2,267.9L525.2,267.9L526.2,268.0L527.2,268.2L528.2,268.5L529.2,268.9L530.2,269.4L531.2,270.1L532.2,270.9L533.2,272.0L534.2,273.2L535.2,274.7L536.2,276.5L537.2,278.4L538.2,280.6L539.2,283.1L540.2,285.8L541.2,288.6L542.2,291.7L543.2,295.0L544.2,298.3L545.2,301.8L546.2,305.4L547.2,309.1L548.2,312.8L549.2,316.5L550.2,320.2L551.2,323.9L552.2,327.5L553.2,331.1L554.2,334.6L555.2,338.0L556.2,341.4L557.2,344.6L558.2,347.7L559.2,350.7L560.2,353.7L561.2,356.5L562.2,359.2L563.2,361.8L564.2,364.2L565.2,366.6L566.2,368.9L567.2,371.0L568.2,373.1L569.2,375.0L570.2,376.9L571.2,378.6L572.2,380.3L573.2,381.9L574.2,383.4L575.2,384.8L576.2,386.2L577.2,387.4L578.2,388.6L579.2,389.8L580.2,390.8L581.2,391.8L582.2,392.8L583.2,393.7L584.2,394.6L585.2,395.4L586.2,396.1L587.2,396.8L588.2,397.5L589.2,398.2L590.2,398.8L591.2,399.3L592.2,399.9L593.2,400.4L594.2,400.9L595.2,401.4L596.2,401.8L597.2,402.2L598.2,402.6L599.2,403.0L600.2,403.4L601.2,403.7L602.2,404.0L603.2,404.4L604.2,404.7L605.2,405.0L606.2,405.2L607.2,405.5L608.2,405.8L609.2,406.0L610.2,406.3L611.2,406.5L612.2,406.7L613.2,406.9L614.2,407.1L615.2,407.3L616.2,407.5L617.2,407.7L618.2,407.9L619.2,408.1L620.2,408.3L621.2,408.4L622.2,408.6L623.2,408.7L624.2,408.9L625.2,409.0L626.2,409.2L627.2,409.3L628.2,409.4L629.2,409.6L630.2,409.7L631.2,409.8L632.2,409.9L633.2,410.1L634.2,410.2L635.2,410.3L636.2,410.4L637.2,410.5L638.2,410.6L639.2,410.7L640.2,410.8L641.2,410.9L642.2,411.0L643.2,411.1L644.2,411.1L645.2,411.2L646.2,411.3L647.2,411.4L648.2,411.5L649.2,411.6L650.2,411.6L651.2,411.7L652.2,411.8L653.2,411.8L654.2,411.9L655.2,412.0L656.2,412.0L657.2,412.1L658.2,412.2L659.2,412.2L660.2,412.3L661.2,412.3L662.2,412.4L663.2,412.5L664.2,412.5L665.2,412.6L666.2,412.6L667.2,412.7L668.2,412.7L669.2,412.8L670.2,412.8L671.2,412.9L671.5,412.9" stroke="#47b9e6" stroke-width="1.65"/>
<path d="M368.2,414.7L369.2,414.7L370.2,414.7L371.2,414.7L372.2,414.6L373.2,414.6L374.2,414.6L375.2,414.6L376.2,414.5L377.2,414.5L378.2,414.5L379.2,414.5L380.2,414.4L381.2,414.4L382.2,414.4L383.2,414.4L384.2,414.3L385.2,414.3L386.2,414.3L387.2,414.2L388.2,414.2L389.2,414.2L390.2,414.1L391.2,414.1L392.2,414.1L393.2,414.0L394.2,414.0L395.2,413.9L396.2,413.9L397.2,413.9L398.2,413.8L399.2,413.8L400.2,413.7L401.2,413.7L402.2,413.7L403.2,413.6L404.2,413.6L405.2,413.5L406.2,413.5L407.2,413.4L408.2,413.3L409.2,413.3L410.2,413.2L411.2,413.2L412.2,413.1L413.2,413.1L414.2,413.0L415.2,412.9L416.2,412.9L417.2,412.8L418.2,412.7L419.2,412.6L420.2,412.6L421.2,412.5L422.2,412.4L423.2,412.3L424.2,412.2L425.2,412.1L426.2,412.0L427.2,412.0L428.2,411.9L429.2,411.8L430.2,411.6L431.2,411.5L432.2,411.4L433.2,411.3L434.2,411.2L435.2,411.1L436.2,410.9L437.2,410.8L438.2,410.7L439.2,410.5L440.2,410.4L441.2,410.2L442.2,410.0L443.2,409.9L444.2,409.7L445.2,409.5L446.2,409.3L447.2,409.1L448.2,408.8L449.2,408.6L450.2,408.4L451.2,408.1L452.2,407.8L453.2,407.6L454.2,407.3L455.2,406.9L456.2,406.6L457.2,406.2L458.2,405.9L459.2,405.5L460.2,405.0L461.2,404.6L462.2,404.1L463.2,403.5L464.2,403.0L465.2,402.4L466.2,401.8L467.2,401.1L468.2,400.4L469.2,399.6L470.2,398.8L471.2,397.9L472.2,396.9L473.2,395.9L474.2,394.9L475.2,393.8L476.2,392.6L477.2,391.3L478.2,389.9L479.2,388.5L480.2,387.0L481.2,385.4L482.2,383.8L483.2,382.0L484.2,380.2L485.2,378.2L486.2,376.2L487.2,374.1L488.2,371.9L489.2,369.6L490.2,367.3L491.2,364.9L492.2,362.4L493.2,359.8L494.2,357.2L495.2,354.5L496.2,351.9L497.2,349.2L498.2,346.5L499.2,343.8L500.2,341.2L501.2,338.7L502.2,336.3L503.2,334.0L504.2,331.9L505.2,330.0L506.2,328.3L507.2,326.9L508.2,325.8L509.2,324.9L510.2,324.5L511.2,324.3L512.2,324.5L513.2,325.0L514.2,325.9L515.2,327.0L516.2,328.4L517.2,330.1L518.2,332.1L519.2,334.2L520.2,336.5L521.2,338.9L522.2,341.4L523.2,344.1L524.2,346.7L525.2,349.4L526.2,352.1L527.2,354.8L528.2,357.4L529.2,360.0L530.2,362.6L531.2,365.1L532.2,367.5L533.2,369.8L534.2,372.1L535.2,374.3L536.2,376.4L537.2,378.4L538.2,380.3L539.2,382.2L540.2,383.9L541.2,385.6L542.2,387.2L543.2,388.7L544.2,390.1L545.2,391.4L546.2,392.7L547.2,393.9L548.2,395.0L549.2,396.0L550.2,397.0L551.2,398.0L552.2,398.8L553.2,399.7L554.2,400.4L555.2,401.1L556.2,401.8L557.2,402.4L558.2,403.0L559.2,403.6L560.2,404.1L561.2,404.6L562.2,405.1L563.2,405.5L564.2,405.9L565.2,406.3L566.2,406.6L567.2,407.0L568.2,407.3L569.2,407.6L570.2,407.9L571.2,408.1L572.2,408.4L573.2,408.6L574.2,408.9L575.2,409.1L576.2,409.3L577.2,409.5L578.2,409.7L579.2,409.9L580.2,410.0L581.2,410.2L582.2,410.4L583.2,410.5L584.2,410.7L585.2,410.8L586.2,410.9L587.2,411.1L588.2,411.2L589.2,411.3L590.2,411.4L591.2,411.5L592.2,411.7L593.2,411.8L594.2,411.9L595.2,412.0L596.2,412.1L597.2,412.2L598.2,412.2L599.2,412.3L600.2,412.4L601.2,412.5L602.2,412.6L603.2,412.6L604.2,412.7L605.2,412.8L606.2,412.9L607.2,412.9L608.2,413.0L609.2,413.1L610.2,413.1L611.2,413.2L612.2,413.2L613.2,413.3L614.2,413.4L615.2,413.4L616.2,413.5L617.2,413.5L618.2,413.6L619.2,413.6L620.2,413.7L621.2,413.7L622.2,413.7L623.2,413.8L624.2,413.8L625.2,413.9L626.2,413.9L627.2,414.0L628.2,414.0L629.2,414.0L630.2,414.1L631.2,414.1L632.2,414.1L633.2,414.2L634.2,414.2L635.2,414.2L636.2,414.3L637.2,414.3L638.2,414.3L639.2,414.4L640.2,414.4L641.2,414.4L642.2,414.4L643.2,414.5L644.2,414.5L645.2,414.5L646.2,414.6L647.2,414.6L648.2,414.6L649.2,414.6L650.2,414.6L651.2,414.7L652.2,414.7L653.2,414.7L654.2,414.7L655.2,414.8L656.2,414.8L657.2,414.8L658.2,414.8L659.2,414.8L660.2,414.9L661.2,414.9L662.2,414.9L663.2,414.9L664.2,414.9L665.2,414.9L666.2,415.0L667.2,415.0L668.2,415.0L669.2,415.0L670.2,415.0L671.2,415.0L671.5,415.0" stroke="#f66bd0" stroke-width="1.6"/>
<path d="M368.2,414.9L369.2,414.9L370.2,414.9L371.2,414.9L372.2,414.8L373.2,414.8L374.2,414.8L375.2,414.8L376.2,414.8L377.2,414.7L378.2,414.7L379.2,414.7L380.2,414.7L381.2,414.7L382.2,414.6L383.2,414.6L384.2,414.6L385.2,414.6L386.2,414.6L387.2,414.5L388.2,414.5L389.2,414.5L390.2,414.5L391.2,414.4L392.2,414.4L393.2,414.4L394.2,414.4L395.2,414.3L396.2,414.3L397.2,414.3L398.2,414.3L399.2,414.2L400.2,414.2L401.2,414.2L402.2,414.1L403.2,414.1L404.2,414.1L405.2,414.0L406.2,414.0L407.2,414.0L408.2,413.9L409.2,413.9L410.2,413.9L411.2,413.8L412.2,413.8L413.2,413.7L414.2,413.7L415.2,413.7L416.2,413.6L417.2,413.6L418.2,413.5L419.2,413.5L420.2,413.4L421.2,413.4L422.2,413.3L423.2,413.3L424.2,413.2L425.2,413.2L426.2,413.1L427.2,413.1L428.2,413.0L429.2,413.0L430.2,412.9L431.2,412.8L432.2,412.8L433.2,412.7L434.2,412.6L435.2,412.6L436.2,412.5L437.2,412.4L438.2,412.4L439.2,412.3L440.2,412.2L441.2,412.1L442.2,412.0L443.2,412.0L444.2,411.9L445.2,411.8L446.2,411.7L447.2,411.6L448.2,411.5L449.2,411.4L450.2,411.3L451.2,411.2L452.2,411.0L453.2,410.9L454.2,410.8L455.2,410.7L456.2,410.6L457.2,410.4L458.2,410.3L459.2,410.1L460.2,410.0L461.2,409.8L462.2,409.7L463.2,409.5L464.2,409.3L465.2,409.1L466.2,408.9L467.2,408.7L468.2,408.5L469.2,408.3L470.2,408.1L471.2,407.8L472.2,407.6L473.2,407.3L474.2,407.1L475.2,406.8L476.2,406.5L477.2,406.1L478.2,405.8L479.2,405.4L480.2,405.0L481.2,404.6L482.2,404.2L483.2,403.8L484.2,403.3L485.2,402.8L486.2,402.2L487.2,401.6L488.2,401.0L489.2,400.4L490.2,399.7L491.2,398.9L492.2,398.2L493.2,397.3L494.2,396.4L495.2,395.5L496.2,394.5L497.2,393.5L498.2,392.3L499.2,391.1L500.2,389.9L501.2,388.6L502.2,387.2L503.2,385.7L504.2,384.2L505.2,382.5L506.2,380.8L507.2,379.0L508.2,377.1L509.2,375.2L510.2,373.1L511.2,371.0L512.2,368.8L513.2,366.5L514.2,364.1L515.2,361.7L516.2,359.1L517.2,356.5L518.2,353.9L519.2,351.2L520.2,348.5L521.2,345.7L522.2,343.0L523.2,340.2L524.2,337.5L525.2,334.8L526.2,332.2L527.2,329.7L528.2,327.3L529.2,325.1L530.2,323.1L531.2,321.3L532.2,319.7L533.2,318.4L534.2,317.4L535.2,316.7L536.2,316.4L537.2,316.3L538.2,316.6L539.2,317.2L540.2,318.1L541.2,319.4L542.2,320.9L543.2,322.6L544.2,324.6L545.2,326.7L546.2,329.1L547.2,331.5L548.2,334.1L549.2,336.8L550.2,339.5L551.2,342.2L552.2,345.0L553.2,347.7L554.2,350.5L555.2,353.2L556.2,355.8L557.2,358.4L558.2,361.0L559.2,363.5L560.2,365.9L561.2,368.2L562.2,370.4L563.2,372.6L564.2,374.6L565.2,376.6L566.2,378.5L567.2,380.3L568.2,382.1L569.2,383.7L570.2,385.3L571.2,386.8L572.2,388.2L573.2,389.5L574.2,390.8L575.2,392.0L576.2,393.2L577.2,394.2L578.2,395.2L579.2,396.2L580.2,397.1L581.2,397.9L582.2,398.7L583.2,399.5L584.2,400.2L585.2,400.9L586.2,401.5L587.2,402.1L588.2,402.6L589.2,403.1L590.2,403.6L591.2,404.1L592.2,404.5L593.2,404.9L594.2,405.3L595.2,405.7L596.2,406.0L597.2,406.4L598.2,406.7L599.2,407.0L600.2,407.3L601.2,407.5L602.2,407.8L603.2,408.0L604.2,408.3L605.2,408.5L606.2,408.7L607.2,408.9L608.2,409.1L609.2,409.3L610.2,409.4L611.2,409.6L612.2,409.8L613.2,409.9L614.2,410.1L615.2,410.2L616.2,410.4L617.2,410.5L618.2,410.6L619.2,410.8L620.2,410.9L621.2,411.0L622.2,411.1L623.2,411.2L624.2,411.4L625.2,411.5L626.2,411.6L627.2,411.7L628.2,411.7L629.2,411.8L630.2,411.9L631.2,412.0L632.2,412.1L633.2,412.2L634.2,412.3L635.2,412.3L636.2,412.4L637.2,412.5L638.2,412.6L639.2,412.6L640.2,412.7L641.2,412.8L642.2,412.8L643.2,412.9L644.2,412.9L645.2,413.0L646.2,413.1L647.2,413.1L648.2,413.2L649.2,413.2L650.2,413.3L651.2,413.3L652.2,413.4L653.2,413.4L654.2,413.5L655.2,413.5L656.2,413.6L657.2,413.6L658.2,413.6L659.2,413.7L660.2,413.7L661.2,413.8L662.2,413.8L663.2,413.8L664.2,413.9L665.2,413.9L666.2,414.0L667.2,414.0L668.2,414.0L669.2,414.1L670.2,414.1L671.2,414.1L671.5,414.1" stroke="#f0842c" stroke-width="1.6"/>
<line x1="368.2" y1="416.8" x2="671.5" y2="416.8" stroke="#8a5a5a" stroke-width="1.4" />
<path d="M368.2,472.6L368.7,472.7L369.2,472.7L369.7,472.7L370.2,472.8L370.7,472.7L371.2,472.8L371.7,472.6L372.2,472.6L372.7,472.6L373.2,472.7L373.7,472.8L374.2,472.8L374.7,472.8L375.2,473.1L375.7,472.9L376.2,473.0L376.7,472.8L377.2,472.8L377.7,472.6L378.2,472.8L378.7,472.7L379.2,472.7L379.7,472.7L380.2,472.6L380.7,472.7L381.2,472.7L381.7,472.5L382.2,472.5L382.7,472.3L383.2,472.2L383.7,472.2L384.2,472.2L384.7,472.2L385.2,472.2L385.7,472.3L386.2,472.4L386.7,472.5L387.2,472.6L387.7,472.6L388.2,472.5L388.7,472.4L389.2,472.4L389.7,472.3L390.2,472.4L390.7,472.3L391.2,472.2L391.7,472.2L392.2,472.3L392.7,472.3L393.2,472.3L393.7,472.1L394.2,472.1L394.7,472.3L395.2,472.2L395.7,472.2L396.2,472.1L396.7,472.2L397.2,472.3L397.7,472.2L398.2,472.3L398.7,472.4L399.2,472.3L399.7,472.3L400.2,472.2L400.7,472.2L401.2,472.3L401.7,472.2L402.2,472.2L402.7,472.1L403.2,472.1L403.7,472.0L404.2,472.0L404.7,472.0L405.2,471.9L405.7,471.8L406.2,472.0L406.7,472.1L407.2,472.1L407.7,472.1L408.2,472.1L408.7,472.1L409.2,472.3L409.7,472.1L410.2,472.0L410.7,472.1L411.2,472.1L411.7,472.0L412.2,472.1L412.7,472.1L413.2,472.2L413.7,472.3L414.2,472.3L414.7,472.1L415.2,472.3L415.7,472.1L416.2,472.2L416.7,472.1L417.2,472.0L417.7,472.0L418.2,472.1L418.7,471.9L419.2,472.1L419.7,471.9L420.2,471.9L420.7,471.9L421.2,471.9L421.7,471.8L422.2,471.9L422.7,471.9L423.2,471.7L423.7,471.8L424.2,471.6L424.7,471.7L425.2,471.5L425.7,471.4L426.2,471.3L426.7,471.4L427.2,471.2L427.7,471.5L428.2,471.2L428.7,471.2L429.2,471.3L429.7,471.1L430.2,471.1L430.7,471.3L431.2,471.1L431.7,471.3L432.2,471.4L432.7,471.2L433.2,471.4L433.7,471.4L434.2,471.3L434.7,471.4L435.2,471.3L435.7,471.2L436.2,471.1L436.7,471.0L437.2,471.0L437.7,471.0L438.2,470.8L438.7,470.7L439.2,470.8L439.7,470.9L440.2,470.8L440.7,470.7L441.2,470.7L441.7,470.7L442.2,470.8L442.7,470.6L443.2,470.6L443.7,470.7L444.2,470.7L444.7,470.6L445.2,470.6L445.7,470.6L446.2,470.6L446.7,470.5L447.2,470.3L447.7,470.2L448.2,470.2L448.7,470.1L449.2,470.2L449.7,470.2L450.2,470.2L450.7,470.1L451.2,470.0L451.7,469.9L452.2,469.8L452.7,469.7L453.2,469.5L453.7,469.5L454.2,469.6L454.7,469.5L455.2,469.4L455.7,469.4L456.2,469.3L456.7,469.1L457.2,468.7L457.7,468.8L458.2,468.7L458.7,468.6L459.2,468.5L459.7,468.5L460.2,468.7L460.7,468.8L461.2,468.6L461.7,468.4L462.2,468.4L462.7,468.3L463.2,468.3L463.7,468.2L464.2,468.1L464.7,468.1L465.2,468.2L465.7,468.0L466.2,467.9L466.7,467.7L467.2,467.6L467.7,467.4L468.2,467.3L468.7,467.0L469.2,467.0L469.7,466.8L470.2,466.6L470.7,466.6L471.2,466.5L471.7,466.3L472.2,466.3L472.7,466.0L473.2,466.0L473.7,465.8L474.2,465.6L474.7,465.3L475.2,465.1L475.7,464.9L476.2,464.8L476.7,464.5L477.2,464.4L477.7,464.3L478.2,464.1L478.7,463.9L479.2,463.5L479.7,463.3L480.2,463.1L480.7,462.6L481.2,462.3L481.7,462.0L482.2,461.5L482.7,461.3L483.2,461.0L483.7,460.8L484.2,460.7L484.7,460.2L485.2,459.8L485.7,459.6L486.2,459.3L486.7,458.9L487.2,458.5L487.7,458.1L488.2,457.9L488.7,457.6L489.2,457.1L489.7,456.7L490.2,456.4L490.7,456.0L491.2,455.6L491.7,455.1L492.2,454.6L492.7,454.1L493.2,453.4L493.7,452.8L494.2,452.2L494.7,451.7L495.2,451.3L495.7,450.8L496.2,450.4L496.7,450.1L497.2,449.7L497.7,449.4L498.2,448.9L498.7,448.3L499.2,447.9L499.7,447.4L500.2,446.9L500.7,446.2L501.2,445.6L501.7,444.9L502.2,444.4L502.7,443.7L503.2,442.9L503.7,442.4L504.2,441.8L504.7,441.1L505.2,440.5L505.7,439.8L506.2,439.2L506.7,438.6L507.2,438.0L507.7,437.4L508.2,436.8L508.7,436.4L509.2,436.0L509.7,435.4L510.2,434.9L510.7,434.4L511.2,434.0L511.7,433.6L512.2,433.1L512.7,432.5L513.2,432.2L513.7,432.0L514.2,431.7L514.7,431.4L515.2,431.2L515.7,431.0L516.2,430.9L516.7,430.8L517.2,430.4L517.7,430.2L518.2,430.0L518.7,429.9L519.2,429.7L519.7,429.6L520.2,429.5L520.7,429.5L521.2,429.2L521.7,429.2L522.2,428.9L522.7,428.8L523.2,428.8L523.7,428.7L524.2,428.7L524.7,428.9L525.2,428.9L525.7,429.1L526.2,429.3L526.7,429.5L527.2,429.7L527.7,429.8L528.2,429.9L528.7,430.0L529.2,429.9L529.7,429.9L530.2,429.8L530.7,429.6L531.2,429.7L531.7,429.8L532.2,429.6L532.7,429.7L533.2,429.9L533.7,430.1L534.2,430.2L534.7,430.2L535.2,430.2L535.7,430.3L536.2,430.5L536.7,430.5L537.2,430.6L537.7,430.9L538.2,431.1L538.7,431.3L539.2,431.6L539.7,431.9L540.2,432.3L540.7,432.7L541.2,432.9L541.7,433.1L542.2,433.4L542.7,433.9L543.2,434.3L543.7,434.5L544.2,434.7L544.7,435.1L545.2,435.6L545.7,436.0L546.2,436.4L546.7,436.9L547.2,437.4L547.7,438.1L548.2,438.5L548.7,439.0L549.2,439.7L549.7,440.1L550.2,440.6L550.7,441.2L551.2,441.6L551.7,442.2L552.2,442.8L552.7,443.3L553.2,443.9L553.7,444.2L554.2,444.8L554.7,445.4L555.2,445.9L555.7,446.4L556.2,447.1L556.7,447.6L557.2,448.3L557.7,448.8L558.2,449.4L558.7,449.9L559.2,450.4L559.7,451.0L560.2,451.6L560.7,452.1L561.2,452.5L561.7,453.0L562.2,453.5L562.7,454.0L563.2,454.4L563.7,454.6L564.2,454.9L564.7,455.3L565.2,455.6L565.7,455.9L566.2,456.2L566.7,456.6L567.2,457.1L567.7,457.4L568.2,457.9L568.7,458.4L569.2,458.6L569.7,459.2L570.2,459.3L570.7,459.6L571.2,460.0L571.7,460.3L572.2,460.7L572.7,461.2L573.2,461.4L573.7,461.7L574.2,461.9L574.7,462.3L575.2,462.5L575.7,462.6L576.2,462.8L576.7,463.0L577.2,463.2L577.7,463.4L578.2,463.5L578.7,463.6L579.2,463.9L579.7,463.9L580.2,464.2L580.7,464.6L581.2,464.9L581.7,465.3L582.2,465.4L582.7,465.5L583.2,465.7L583.7,465.8L584.2,465.8L584.7,465.8L585.2,465.9L585.7,466.2L586.2,466.3L586.7,466.3L587.2,466.5L587.7,466.6L588.2,466.8L588.7,466.8L589.2,466.9L589.7,467.2L590.2,467.4L590.7,467.5L591.2,467.7L591.7,467.6L592.2,467.9L592.7,468.0L593.2,467.9L593.7,468.1L594.2,468.1L594.7,468.4L595.2,468.8L595.7,468.8L596.2,468.8L596.7,469.0L597.2,469.1L597.7,469.2L598.2,469.2L598.7,469.1L599.2,469.0L599.7,469.0L600.2,469.2L600.7,469.1L601.2,469.2L601.7,469.1L602.2,469.3L602.7,469.5L603.2,469.6L603.7,469.6L604.2,469.7L604.7,469.9L605.2,470.0L605.7,469.9L606.2,470.0L606.7,470.0L607.2,470.2L607.7,470.1L608.2,470.1L608.7,470.1L609.2,470.1L609.7,470.3L610.2,470.2L610.7,470.3L611.2,470.4L611.7,470.5L612.2,470.5L612.7,470.4L613.2,470.3L613.7,470.3L614.2,470.3L614.7,470.4L615.2,470.4L615.7,470.5L616.2,470.8L616.7,470.9L617.2,471.2L617.7,471.1L618.2,471.0L618.7,471.0L619.2,470.9L619.7,470.8L620.2,470.7L620.7,470.5L621.2,470.7L621.7,470.9L622.2,471.0L622.7,471.2L623.2,471.2L623.7,471.3L624.2,471.4L624.7,471.3L625.2,471.2L625.7,471.2L626.2,471.2L626.7,471.4L627.2,471.4L627.7,471.6L628.2,471.5L628.7,471.4L629.2,471.4L629.7,471.5L630.2,471.5L630.7,471.5L631.2,471.4L631.7,471.6L632.2,471.8L632.7,471.7L633.2,471.6L633.7,471.5L634.2,471.8L634.7,471.8L635.2,471.9L635.7,471.9L636.2,471.9L636.7,472.0L637.2,472.1L637.7,472.1L638.2,471.9L638.7,471.8L639.2,471.8L639.7,471.7L640.2,471.6L640.7,471.6L641.2,471.4L641.7,471.6L642.2,471.7L642.7,471.8L643.2,472.0L643.7,472.0L644.2,472.1L644.7,472.2L645.2,472.3L645.7,472.2L646.2,472.2L646.7,472.2L647.2,472.1L647.7,472.0L648.2,472.0L648.7,472.0L649.2,472.2L649.7,472.3L650.2,472.2L650.7,472.3L651.2,472.4L651.7,472.6L652.2,472.5L652.7,472.4L653.2,472.4L653.7,472.3L654.2,472.4L654.7,472.4L655.2,472.3L655.7,472.4L656.2,472.4L656.7,472.4L657.2,472.5L657.7,472.4L658.2,472.3L658.7,472.2L659.2,472.1L659.7,472.2L660.2,472.2L660.7,472.1L661.2,472.1L661.7,472.2L662.2,472.2L662.7,472.2L663.2,472.1L663.7,472.1L664.2,472.3L664.7,472.4L665.2,472.3L665.7,472.3L666.2,472.2L666.7,472.4L667.2,472.4L667.7,472.3L668.2,472.2L668.7,472.2L669.2,472.3L669.7,472.4L670.2,472.3L670.7,472.4L671.2,472.4" stroke="#efefef" stroke-width="4.5" stroke-linecap="round"/>
<g stroke="#d6d6d6" stroke-width="0.8"><circle cx="368.2" cy="472.6" r="1.9"/><circle cx="371.2" cy="472.8" r="1.9"/><circle cx="374.2" cy="472.8" r="1.9"/><circle cx="377.2" cy="472.8" r="1.9"/><circle cx="380.2" cy="472.6" r="1.9"/><circle cx="383.2" cy="472.2" r="1.9"/><circle cx="386.2" cy="472.4" r="1.9"/><circle cx="389.2" cy="472.4" r="1.9"/><circle cx="392.2" cy="472.3" r="1.9"/><circle cx="395.2" cy="472.2" r="1.9"/><circle cx="398.2" cy="472.3" r="1.9"/><circle cx="401.2" cy="472.3" r="1.9"/><circle cx="404.2" cy="472.0" r="1.9"/><circle cx="407.2" cy="472.1" r="1.9"/><circle cx="410.2" cy="472.0" r="1.9"/><circle cx="413.2" cy="472.2" r="1.9"/><circle cx="416.2" cy="472.2" r="1.9"/><circle cx="419.2" cy="472.1" r="1.9"/><circle cx="422.2" cy="471.9" r="1.9"/><circle cx="425.2" cy="471.5" r="1.9"/><circle cx="428.2" cy="471.2" r="1.9"/><circle cx="431.2" cy="471.1" r="1.9"/><circle cx="434.2" cy="471.3" r="1.9"/><circle cx="437.2" cy="471.0" r="1.9"/><circle cx="440.2" cy="470.8" r="1.9"/><circle cx="443.2" cy="470.6" r="1.9"/><circle cx="446.2" cy="470.6" r="1.9"/><circle cx="449.2" cy="470.2" r="1.9"/><circle cx="452.2" cy="469.8" r="1.9"/><circle cx="455.2" cy="469.4" r="1.9"/><circle cx="458.2" cy="468.7" r="1.9"/><circle cx="461.2" cy="468.6" r="1.9"/><circle cx="464.2" cy="468.1" r="1.9"/><circle cx="467.2" cy="467.6" r="1.9"/><circle cx="469.7" cy="466.8" r="1.9"/><circle cx="472.7" cy="466.0" r="1.9"/><circle cx="475.2" cy="465.1" r="1.9"/><circle cx="477.7" cy="464.3" r="1.9"/><circle cx="480.2" cy="463.1" r="1.9"/><circle cx="482.7" cy="461.3" r="1.9"/><circle cx="485.2" cy="459.8" r="1.9"/><circle cx="487.7" cy="458.1" r="1.9"/><circle cx="490.2" cy="456.4" r="1.9"/><circle cx="492.2" cy="454.6" r="1.9"/><circle cx="494.2" cy="452.2" r="1.9"/><circle cx="496.2" cy="450.4" r="1.9"/><circle cx="498.7" cy="448.3" r="1.9"/><circle cx="500.7" cy="446.2" r="1.9"/><circle cx="502.7" cy="443.7" r="1.9"/><circle cx="504.7" cy="441.1" r="1.9"/><circle cx="506.7" cy="438.6" r="1.9"/><circle cx="508.7" cy="436.4" r="1.9"/><circle cx="510.7" cy="434.4" r="1.9"/><circle cx="512.7" cy="432.5" r="1.9"/><circle cx="515.2" cy="431.2" r="1.9"/><circle cx="517.7" cy="430.2" r="1.9"/><circle cx="520.7" cy="429.5" r="1.9"/><circle cx="523.7" cy="428.7" r="1.9"/><circle cx="526.7" cy="429.5" r="1.9"/><circle cx="529.7" cy="429.9" r="1.9"/><circle cx="532.7" cy="429.7" r="1.9"/><circle cx="535.7" cy="430.3" r="1.9"/><circle cx="538.2" cy="431.1" r="1.9"/><circle cx="540.7" cy="432.7" r="1.9"/><circle cx="543.2" cy="434.3" r="1.9"/><circle cx="545.7" cy="436.0" r="1.9"/><circle cx="547.7" cy="438.1" r="1.9"/><circle cx="549.7" cy="440.1" r="1.9"/><circle cx="551.7" cy="442.2" r="1.9"/><circle cx="553.7" cy="444.2" r="1.9"/><circle cx="555.7" cy="446.4" r="1.9"/><circle cx="557.7" cy="448.8" r="1.9"/><circle cx="559.7" cy="451.0" r="1.9"/><circle cx="561.7" cy="453.0" r="1.9"/><circle cx="564.2" cy="454.9" r="1.9"/><circle cx="566.7" cy="456.6" r="1.9"/><circle cx="568.7" cy="458.4" r="1.9"/><circle cx="571.2" cy="460.0" r="1.9"/><circle cx="573.7" cy="461.7" r="1.9"/><circle cx="576.2" cy="462.8" r="1.9"/><circle cx="578.7" cy="463.6" r="1.9"/><circle cx="581.2" cy="464.9" r="1.9"/><circle cx="583.7" cy="465.8" r="1.9"/><circle cx="586.7" cy="466.3" r="1.9"/><circle cx="589.7" cy="467.2" r="1.9"/><circle cx="592.7" cy="468.0" r="1.9"/><circle cx="595.2" cy="468.8" r="1.9"/><circle cx="598.2" cy="469.2" r="1.9"/><circle cx="601.2" cy="469.2" r="1.9"/><circle cx="604.2" cy="469.7" r="1.9"/><circle cx="607.2" cy="470.2" r="1.9"/><circle cx="610.2" cy="470.2" r="1.9"/><circle cx="613.2" cy="470.3" r="1.9"/><circle cx="616.2" cy="470.8" r="1.9"/><circle cx="619.2" cy="470.9" r="1.9"/><circle cx="622.2" cy="471.0" r="1.9"/><circle cx="625.2" cy="471.2" r="1.9"/><circle cx="628.2" cy="471.5" r="1.9"/><circle cx="631.2" cy="471.4" r="1.9"/><circle cx="634.2" cy="471.8" r="1.9"/><circle cx="637.2" cy="472.1" r="1.9"/><circle cx="640.2" cy="471.6" r="1.9"/><circle cx="643.2" cy="472.0" r="1.9"/><circle cx="646.2" cy="472.2" r="1.9"/><circle cx="649.2" cy="472.2" r="1.9"/><circle cx="652.2" cy="472.5" r="1.9"/><circle cx="655.2" cy="472.3" r="1.9"/><circle cx="658.2" cy="472.3" r="1.9"/><circle cx="661.2" cy="472.1" r="1.9"/><circle cx="664.2" cy="472.3" r="1.9"/><circle cx="667.2" cy="472.4" r="1.9"/><circle cx="670.2" cy="472.3" r="1.9"/></g>
<line x1="368.2" y1="473.7" x2="671.5" y2="473.7" stroke="#5573e6" stroke-width="1.5" />
<path d="M368.2,472.4L369.2,472.4L370.2,472.4L371.2,472.4L372.2,472.4L373.2,472.4L374.2,472.4L375.2,472.4L376.2,472.3L377.2,472.3L378.2,472.3L379.2,472.3L380.2,472.3L381.2,472.3L382.2,472.3L383.2,472.2L384.2,472.2L385.2,472.2L386.2,472.2L387.2,472.2L388.2,472.2L389.2,472.2L390.2,472.1L391.2,472.1L392.2,472.1L393.2,472.1L394.2,472.1L395.2,472.1L396.2,472.0L397.2,472.0L398.2,472.0L399.2,472.0L400.2,472.0L401.2,471.9L402.2,471.9L403.2,471.9L404.2,471.9L405.2,471.8L406.2,471.8L407.2,471.8L408.2,471.8L409.2,471.7L410.2,471.7L411.2,471.7L412.2,471.7L413.2,471.6L414.2,471.6L415.2,471.6L416.2,471.5L417.2,471.5L418.2,471.5L419.2,471.4L420.2,471.4L421.2,471.4L422.2,471.3L423.2,471.3L424.2,471.3L425.2,471.2L426.2,471.2L427.2,471.1L428.2,471.1L429.2,471.1L430.2,471.0L431.2,471.0L432.2,470.9L433.2,470.9L434.2,470.8L435.2,470.8L436.2,470.7L437.2,470.6L438.2,470.6L439.2,470.5L440.2,470.5L441.2,470.4L442.2,470.3L443.2,470.3L444.2,470.2L445.2,470.1L446.2,470.0L447.2,470.0L448.2,469.9L449.2,469.8L450.2,469.7L451.2,469.6L452.2,469.5L453.2,469.4L454.2,469.3L455.2,469.2L456.2,469.0L457.2,468.9L458.2,468.8L459.2,468.6L460.2,468.5L461.2,468.3L462.2,468.2L463.2,468.0L464.2,467.8L465.2,467.6L466.2,467.4L467.2,467.2L468.2,466.9L469.2,466.7L470.2,466.4L471.2,466.1L472.2,465.8L473.2,465.5L474.2,465.2L475.2,464.8L476.2,464.4L477.2,464.0L478.2,463.6L479.2,463.1L480.2,462.6L481.2,462.1L482.2,461.6L483.2,461.0L484.2,460.4L485.2,459.8L486.2,459.1L487.2,458.4L488.2,457.7L489.2,456.9L490.2,456.1L491.2,455.2L492.2,454.3L493.2,453.4L494.2,452.4L495.2,451.4L496.2,450.4L497.2,449.3L498.2,448.2L499.2,447.1L500.2,446.0L501.2,444.8L502.2,443.6L503.2,442.5L504.2,441.3L505.2,440.1L506.2,439.0L507.2,437.8L508.2,436.8L509.2,435.7L510.2,434.8L511.2,433.8L512.2,433.0L513.2,432.2L514.2,431.6L515.2,431.0L516.2,430.5L517.2,430.0L518.2,429.7L519.2,429.4L520.2,429.2L521.2,429.0L522.2,428.9L523.2,428.9L524.2,428.8L525.2,428.8L526.2,428.9L527.2,428.9L528.2,429.0L529.2,429.1L530.2,429.1L531.2,429.3L532.2,429.4L533.2,429.6L534.2,429.8L535.2,430.0L536.2,430.3L537.2,430.6L538.2,431.0L539.2,431.4L540.2,431.9L541.2,432.5L542.2,433.1L543.2,433.8L544.2,434.6L545.2,435.5L546.2,436.3L547.2,437.3L548.2,438.3L549.2,439.3L550.2,440.3L551.2,441.4L552.2,442.5L553.2,443.6L554.2,444.7L555.2,445.7L556.2,446.8L557.2,447.9L558.2,448.9L559.2,449.9L560.2,450.9L561.2,451.9L562.2,452.8L563.2,453.7L564.2,454.5L565.2,455.4L566.2,456.2L567.2,456.9L568.2,457.7L569.2,458.4L570.2,459.1L571.2,459.7L572.2,460.3L573.2,460.9L574.2,461.5L575.2,462.0L576.2,462.5L577.2,463.0L578.2,463.4L579.2,463.8L580.2,464.2L581.2,464.6L582.2,465.0L583.2,465.3L584.2,465.6L585.2,465.9L586.2,466.2L587.2,466.5L588.2,466.8L589.2,467.0L590.2,467.2L591.2,467.4L592.2,467.6L593.2,467.8L594.2,468.0L595.2,468.2L596.2,468.4L597.2,468.5L598.2,468.7L599.2,468.8L600.2,468.9L601.2,469.1L602.2,469.2L603.2,469.3L604.2,469.4L605.2,469.5L606.2,469.6L607.2,469.7L608.2,469.8L609.2,469.9L610.2,470.0L611.2,470.1L612.2,470.1L613.2,470.2L614.2,470.3L615.2,470.3L616.2,470.4L617.2,470.5L618.2,470.5L619.2,470.6L620.2,470.7L621.2,470.7L622.2,470.8L623.2,470.8L624.2,470.9L625.2,470.9L626.2,471.0L627.2,471.0L628.2,471.1L629.2,471.1L630.2,471.2L631.2,471.2L632.2,471.2L633.2,471.3L634.2,471.3L635.2,471.3L636.2,471.4L637.2,471.4L638.2,471.5L639.2,471.5L640.2,471.5L641.2,471.5L642.2,471.6L643.2,471.6L644.2,471.6L645.2,471.7L646.2,471.7L647.2,471.7L648.2,471.7L649.2,471.8L650.2,471.8L651.2,471.8L652.2,471.8L653.2,471.9L654.2,471.9L655.2,471.9L656.2,471.9L657.2,472.0L658.2,472.0L659.2,472.0L660.2,472.0L661.2,472.0L662.2,472.1L663.2,472.1L664.2,472.1L665.2,472.1L666.2,472.1L667.2,472.1L668.2,472.2L669.2,472.2L670.2,472.2L671.2,472.2L671.5,472.2" stroke="#47b9e6" stroke-width="1.65"/>
<path d="M368.2,472.8L369.2,472.8L370.2,472.8L371.2,472.8L372.2,472.8L373.2,472.8L374.2,472.8L375.2,472.8L376.2,472.8L377.2,472.8L378.2,472.7L379.2,472.7L380.2,472.7L381.2,472.7L382.2,472.7L383.2,472.7L384.2,472.7L385.2,472.7L386.2,472.7L387.2,472.7L388.2,472.7L389.2,472.7L390.2,472.6L391.2,472.6L392.2,472.6L393.2,472.6L394.2,472.6L395.2,472.6L396.2,472.6L397.2,472.6L398.2,472.6L399.2,472.5L400.2,472.5L401.2,472.5L402.2,472.5L403.2,472.5L404.2,472.5L405.2,472.5L406.2,472.4L407.2,472.4L408.2,472.4L409.2,472.4L410.2,472.4L411.2,472.4L412.2,472.3L413.2,472.3L414.2,472.3L415.2,472.3L416.2,472.3L417.2,472.2L418.2,472.2L419.2,472.2L420.2,472.2L421.2,472.2L422.2,472.1L423.2,472.1L424.2,472.1L425.2,472.1L426.2,472.0L427.2,472.0L428.2,472.0L429.2,472.0L430.2,471.9L431.2,471.9L432.2,471.9L433.2,471.8L434.2,471.8L435.2,471.8L436.2,471.7L437.2,471.7L438.2,471.6L439.2,471.6L440.2,471.6L441.2,471.5L442.2,471.5L443.2,471.4L444.2,471.4L445.2,471.3L446.2,471.3L447.2,471.2L448.2,471.1L449.2,471.1L450.2,471.0L451.2,470.9L452.2,470.9L453.2,470.8L454.2,470.7L455.2,470.6L456.2,470.5L457.2,470.4L458.2,470.3L459.2,470.2L460.2,470.1L461.2,470.0L462.2,469.9L463.2,469.7L464.2,469.6L465.2,469.4L466.2,469.3L467.2,469.1L468.2,468.9L469.2,468.7L470.2,468.5L471.2,468.3L472.2,468.0L473.2,467.8L474.2,467.5L475.2,467.2L476.2,466.9L477.2,466.6L478.2,466.2L479.2,465.9L480.2,465.5L481.2,465.0L482.2,464.6L483.2,464.1L484.2,463.6L485.2,463.1L486.2,462.6L487.2,462.0L488.2,461.4L489.2,460.7L490.2,460.1L491.2,459.4L492.2,458.7L493.2,457.9L494.2,457.1L495.2,456.4L496.2,455.5L497.2,454.7L498.2,453.9L499.2,453.0L500.2,452.1L501.2,451.3L502.2,450.4L503.2,449.6L504.2,448.8L505.2,448.0L506.2,447.2L507.2,446.5L508.2,445.9L509.2,445.3L510.2,444.8L511.2,444.4L512.2,444.1L513.2,443.9L514.2,443.8L515.2,443.8L516.2,443.9L517.2,444.2L518.2,444.5L519.2,444.9L520.2,445.4L521.2,446.0L522.2,446.7L523.2,447.4L524.2,448.1L525.2,448.9L526.2,449.8L527.2,450.6L528.2,451.5L529.2,452.3L530.2,453.2L531.2,454.1L532.2,454.9L533.2,455.7L534.2,456.5L535.2,457.3L536.2,458.1L537.2,458.8L538.2,459.5L539.2,460.2L540.2,460.9L541.2,461.5L542.2,462.1L543.2,462.7L544.2,463.2L545.2,463.7L546.2,464.2L547.2,464.7L548.2,465.1L549.2,465.5L550.2,465.9L551.2,466.3L552.2,466.7L553.2,467.0L554.2,467.3L555.2,467.6L556.2,467.8L557.2,468.1L558.2,468.3L559.2,468.6L560.2,468.8L561.2,469.0L562.2,469.1L563.2,469.3L564.2,469.5L565.2,469.6L566.2,469.8L567.2,469.9L568.2,470.0L569.2,470.2L570.2,470.3L571.2,470.4L572.2,470.5L573.2,470.6L574.2,470.6L575.2,470.7L576.2,470.8L577.2,470.9L578.2,471.0L579.2,471.0L580.2,471.1L581.2,471.2L582.2,471.2L583.2,471.3L584.2,471.3L585.2,471.4L586.2,471.4L587.2,471.5L588.2,471.5L589.2,471.6L590.2,471.6L591.2,471.6L592.2,471.7L593.2,471.7L594.2,471.8L595.2,471.8L596.2,471.8L597.2,471.9L598.2,471.9L599.2,471.9L600.2,472.0L601.2,472.0L602.2,472.0L603.2,472.0L604.2,472.1L605.2,472.1L606.2,472.1L607.2,472.1L608.2,472.2L609.2,472.2L610.2,472.2L611.2,472.2L612.2,472.3L613.2,472.3L614.2,472.3L615.2,472.3L616.2,472.3L617.2,472.3L618.2,472.4L619.2,472.4L620.2,472.4L621.2,472.4L622.2,472.4L623.2,472.4L624.2,472.5L625.2,472.5L626.2,472.5L627.2,472.5L628.2,472.5L629.2,472.5L630.2,472.5L631.2,472.6L632.2,472.6L633.2,472.6L634.2,472.6L635.2,472.6L636.2,472.6L637.2,472.6L638.2,472.6L639.2,472.6L640.2,472.7L641.2,472.7L642.2,472.7L643.2,472.7L644.2,472.7L645.2,472.7L646.2,472.7L647.2,472.7L648.2,472.7L649.2,472.7L650.2,472.7L651.2,472.8L652.2,472.8L653.2,472.8L654.2,472.8L655.2,472.8L656.2,472.8L657.2,472.8L658.2,472.8L659.2,472.8L660.2,472.8L661.2,472.8L662.2,472.8L663.2,472.8L664.2,472.8L665.2,472.8L666.2,472.9L667.2,472.9L668.2,472.9L669.2,472.9L670.2,472.9L671.2,472.9L671.5,472.9" stroke="#f66bd0" stroke-width="1.6"/>
<path d="M368.2,472.9L369.2,472.9L370.2,472.9L371.2,472.9L372.2,472.9L373.2,472.9L374.2,472.9L375.2,472.9L376.2,472.9L377.2,472.9L378.2,472.9L379.2,472.9L380.2,472.9L381.2,472.9L382.2,472.8L383.2,472.8L384.2,472.8L385.2,472.8L386.2,472.8L387.2,472.8L388.2,472.8L389.2,472.8L390.2,472.8L391.2,472.8L392.2,472.8L393.2,472.8L394.2,472.8L395.2,472.8L396.2,472.8L397.2,472.7L398.2,472.7L399.2,472.7L400.2,472.7L401.2,472.7L402.2,472.7L403.2,472.7L404.2,472.7L405.2,472.7L406.2,472.7L407.2,472.7L408.2,472.7L409.2,472.6L410.2,472.6L411.2,472.6L412.2,472.6L413.2,472.6L414.2,472.6L415.2,472.6L416.2,472.6L417.2,472.6L418.2,472.6L419.2,472.5L420.2,472.5L421.2,472.5L422.2,472.5L423.2,472.5L424.2,472.5L425.2,472.5L426.2,472.4L427.2,472.4L428.2,472.4L429.2,472.4L430.2,472.4L431.2,472.4L432.2,472.4L433.2,472.3L434.2,472.3L435.2,472.3L436.2,472.3L437.2,472.3L438.2,472.2L439.2,472.2L440.2,472.2L441.2,472.2L442.2,472.2L443.2,472.1L444.2,472.1L445.2,472.1L446.2,472.1L447.2,472.1L448.2,472.0L449.2,472.0L450.2,472.0L451.2,471.9L452.2,471.9L453.2,471.9L454.2,471.9L455.2,471.8L456.2,471.8L457.2,471.8L458.2,471.7L459.2,471.7L460.2,471.7L461.2,471.6L462.2,471.6L463.2,471.5L464.2,471.5L465.2,471.4L466.2,471.4L467.2,471.3L468.2,471.3L469.2,471.2L470.2,471.2L471.2,471.1L472.2,471.1L473.2,471.0L474.2,470.9L475.2,470.9L476.2,470.8L477.2,470.7L478.2,470.7L479.2,470.6L480.2,470.5L481.2,470.4L482.2,470.3L483.2,470.2L484.2,470.1L485.2,470.0L486.2,469.9L487.2,469.7L488.2,469.6L489.2,469.4L490.2,469.3L491.2,469.1L492.2,469.0L493.2,468.8L494.2,468.6L495.2,468.4L496.2,468.1L497.2,467.9L498.2,467.7L499.2,467.4L500.2,467.1L501.2,466.8L502.2,466.5L503.2,466.2L504.2,465.8L505.2,465.4L506.2,465.0L507.2,464.6L508.2,464.2L509.2,463.7L510.2,463.2L511.2,462.7L512.2,462.2L513.2,461.6L514.2,461.1L515.2,460.4L516.2,459.8L517.2,459.2L518.2,458.5L519.2,457.8L520.2,457.1L521.2,456.3L522.2,455.6L523.2,454.8L524.2,454.0L525.2,453.2L526.2,452.4L527.2,451.6L528.2,450.8L529.2,450.0L530.2,449.3L531.2,448.5L532.2,447.8L533.2,447.1L534.2,446.5L535.2,446.0L536.2,445.5L537.2,445.1L538.2,444.7L539.2,444.5L540.2,444.4L541.2,444.3L542.2,444.3L543.2,444.5L544.2,444.7L545.2,445.0L546.2,445.4L547.2,445.9L548.2,446.4L549.2,447.0L550.2,447.7L551.2,448.4L552.2,449.1L553.2,449.9L554.2,450.7L555.2,451.5L556.2,452.3L557.2,453.1L558.2,453.9L559.2,454.6L560.2,455.4L561.2,456.2L562.2,456.9L563.2,457.7L564.2,458.4L565.2,459.0L566.2,459.7L567.2,460.3L568.2,461.0L569.2,461.5L570.2,462.1L571.2,462.6L572.2,463.2L573.2,463.6L574.2,464.1L575.2,464.6L576.2,465.0L577.2,465.4L578.2,465.7L579.2,466.1L580.2,466.4L581.2,466.8L582.2,467.1L583.2,467.3L584.2,467.6L585.2,467.9L586.2,468.1L587.2,468.3L588.2,468.5L589.2,468.7L590.2,468.9L591.2,469.1L592.2,469.3L593.2,469.4L594.2,469.6L595.2,469.7L596.2,469.8L597.2,470.0L598.2,470.1L599.2,470.2L600.2,470.3L601.2,470.4L602.2,470.5L603.2,470.6L604.2,470.6L605.2,470.7L606.2,470.8L607.2,470.9L608.2,470.9L609.2,471.0L610.2,471.1L611.2,471.1L612.2,471.2L613.2,471.2L614.2,471.3L615.2,471.3L616.2,471.4L617.2,471.4L618.2,471.5L619.2,471.5L620.2,471.6L621.2,471.6L622.2,471.6L623.2,471.7L624.2,471.7L625.2,471.8L626.2,471.8L627.2,471.8L628.2,471.9L629.2,471.9L630.2,471.9L631.2,471.9L632.2,472.0L633.2,472.0L634.2,472.0L635.2,472.0L636.2,472.1L637.2,472.1L638.2,472.1L639.2,472.1L640.2,472.2L641.2,472.2L642.2,472.2L643.2,472.2L644.2,472.2L645.2,472.3L646.2,472.3L647.2,472.3L648.2,472.3L649.2,472.3L650.2,472.4L651.2,472.4L652.2,472.4L653.2,472.4L654.2,472.4L655.2,472.4L656.2,472.4L657.2,472.5L658.2,472.5L659.2,472.5L660.2,472.5L661.2,472.5L662.2,472.5L663.2,472.5L664.2,472.6L665.2,472.6L666.2,472.6L667.2,472.6L668.2,472.6L669.2,472.6L670.2,472.6L671.2,472.6L671.5,472.6" stroke="#f0842c" stroke-width="1.6"/>
</g>
<line x1="511.1" y1="315.4" x2="511.1" y2="321.5" stroke="#141414" stroke-width="1.7" />
<line x1="511.1" y1="330.2" x2="511.1" y2="338.5" stroke="#141414" stroke-width="1.7" />
<line x1="536.9" y1="307.7" x2="536.9" y2="315.4" stroke="#141414" stroke-width="1.7" />
<line x1="536.9" y1="323.1" x2="536.9" y2="330.8" stroke="#141414" stroke-width="1.7" />
<line x1="514.0" y1="435.5" x2="514.0" y2="443.9" stroke="#141414" stroke-width="1.7" />
<line x1="514.0" y1="451.9" x2="514.0" y2="459.6" stroke="#141414" stroke-width="1.7" />
<line x1="541.5" y1="436.7" x2="541.5" y2="444.9" stroke="#141414" stroke-width="1.7" />
<line x1="541.5" y1="452.5" x2="541.5" y2="459.1" stroke="#141414" stroke-width="1.7" />
<rect x="368.20" y="262.60" width="303.30" height="211.90" fill="none" stroke="#555555" stroke-width="1.3"/>
<g fill="#222222" font-family="Liberation Serif" filter="url(#tf)">
<line x1="368.2" y1="474.5" x2="368.2" y2="478.5" stroke="#555555" stroke-width="1.2" />
<text x="354.90" y="493.40" font-size="17.5">540</text>
<line x1="469.3" y1="474.5" x2="469.3" y2="478.5" stroke="#555555" stroke-width="1.2" />
<text x="456.00" y="493.40" font-size="17.5">535</text>
<line x1="570.4" y1="474.5" x2="570.4" y2="478.5" stroke="#555555" stroke-width="1.2" />
<text x="557.10" y="493.40" font-size="17.5">530</text>
<line x1="671.5" y1="474.5" x2="671.5" y2="478.5" stroke="#555555" stroke-width="1.2" />
<text x="658.20" y="493.40" font-size="17.5">525</text>
<line x1="418.8" y1="474.5" x2="418.8" y2="477.0" stroke="#555555" stroke-width="1.2" />
<line x1="519.9" y1="474.5" x2="519.9" y2="477.0" stroke="#555555" stroke-width="1.2" />
<line x1="621.0" y1="474.5" x2="621.0" y2="477.0" stroke="#555555" stroke-width="1.2" />
<text x="371.07" y="281.80" font-size="21">(d)</text>
<text x="631.17" y="280.90" font-size="17.3">O 1s</text>
<text x="450.79" y="326.20" font-size="16">532.93</text>
<text x="553.61" y="326.20" font-size="16">531.66</text>
<text x="449.36" y="449.10" font-size="16">532.76</text>
<text x="562.18" y="450.10" font-size="16">531.44</text>
<text x="374.44" y="407.10" font-size="18">MBZ</text>
<text x="372.57" y="465.00" font-size="17.8">BaSO<tspan font-size="12.4" dy="4.0">4</tspan></text>
<text x="446.41" y="513.10" font-size="17.5">Binding Energy (eV)</text>
<text transform="translate(356.60,357.70) rotate(-90)" font-size="17.5" text-anchor="middle">Intensity (a.u.)</text>
</g>
</svg>
</body></html>
